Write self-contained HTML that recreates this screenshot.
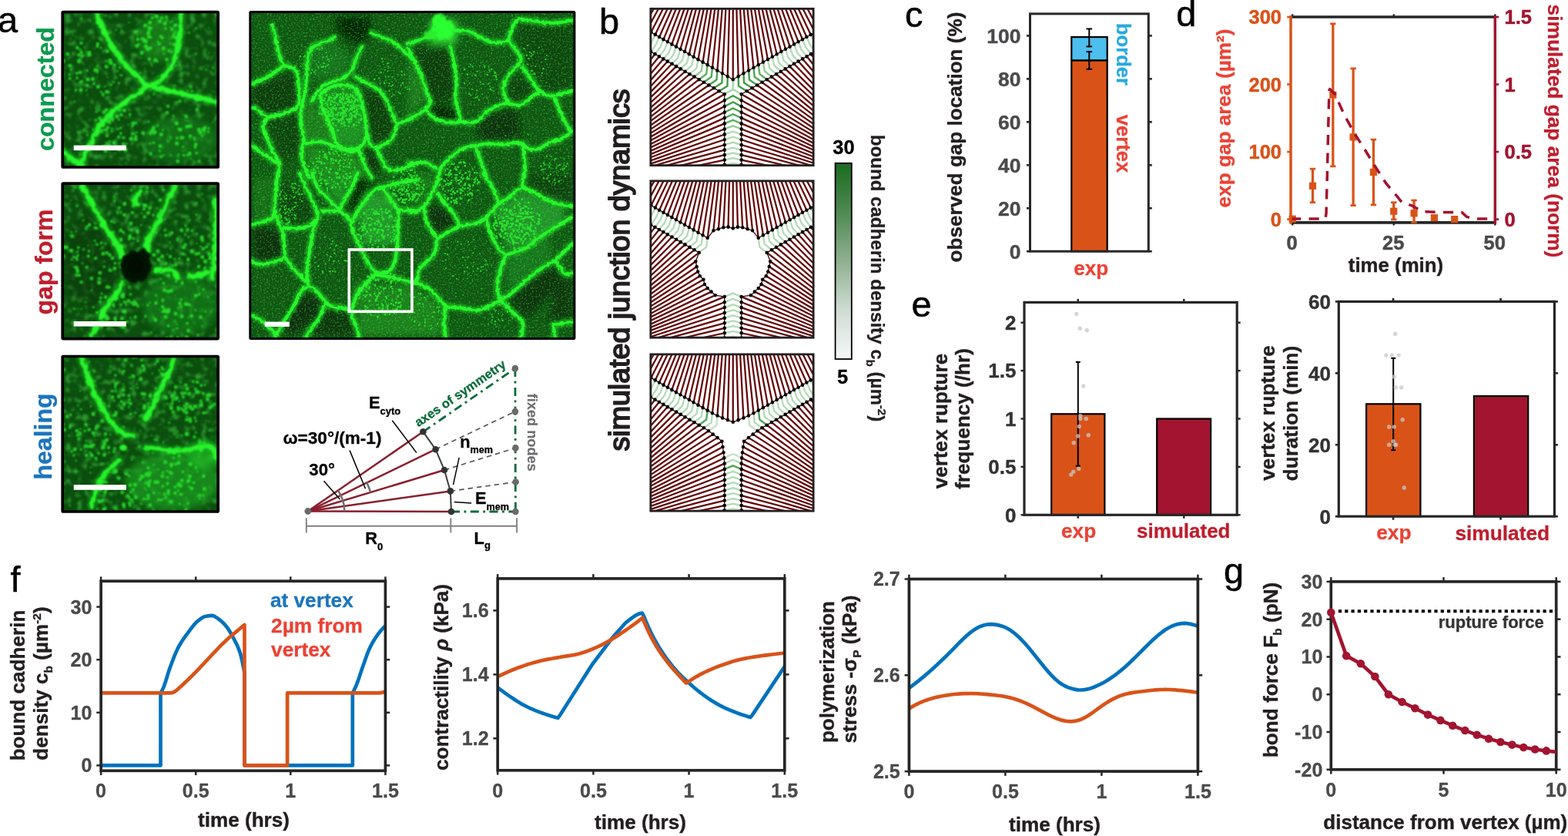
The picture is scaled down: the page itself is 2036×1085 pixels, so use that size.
<!DOCTYPE html>
<html lang="en"><head><meta charset="utf-8"><title>Figure</title>
<style>
html,body{margin:0;padding:0;background:#fff;}
body{width:2036px;height:1085px;overflow:hidden;}
svg{display:block;font-family:"Liberation Sans", Arial, Helvetica, sans-serif;}
svg text{font-family:"Liberation Sans",Arial,Helvetica,sans-serif;}
</style></head><body>
<svg width="2036" height="1085" viewBox="0 0 2036 1085">
<rect width="2036" height="1085" fill="#ffffff"/>
<rect x="1391.3" y="78.3" width="46.4" height="247.9" fill="#d95319" stroke="#000" stroke-width="2.2"/>
<rect x="1391.3" y="48.08" width="46.4" height="30.22" fill="#4dbeee" stroke="#000" stroke-width="2.2"/>
<line x1="1414.3" y1="89.77" x2="1414.3" y2="67.11" stroke="#000" stroke-width="2"/>
<line x1="1410.5" y1="89.77" x2="1418.1" y2="89.77" stroke="#000" stroke-width="2"/>
<line x1="1410.5" y1="67.11" x2="1418.1" y2="67.11" stroke="#000" stroke-width="2"/>
<line x1="1414.3" y1="60.39" x2="1414.3" y2="37.45" stroke="#000" stroke-width="2"/>
<line x1="1410.5" y1="60.39" x2="1418.1" y2="60.39" stroke="#000" stroke-width="2"/>
<line x1="1410.5" y1="37.45" x2="1418.1" y2="37.45" stroke="#000" stroke-width="2"/>
<rect x="1337.5" y="17.9" width="153.8" height="308.3" fill="none" stroke="#262626" stroke-width="3.0"/>
<line x1="1337.5" y1="326.2" x2="1333" y2="326.2" stroke="#262626" stroke-width="2.6"/>
<line x1="1491.3" y1="326.2" x2="1495.8" y2="326.2" stroke="#262626" stroke-width="2.6"/>
<line x1="1337.5" y1="270.24" x2="1333" y2="270.24" stroke="#262626" stroke-width="2.6"/>
<line x1="1491.3" y1="270.24" x2="1495.8" y2="270.24" stroke="#262626" stroke-width="2.6"/>
<line x1="1337.5" y1="214.28" x2="1333" y2="214.28" stroke="#262626" stroke-width="2.6"/>
<line x1="1491.3" y1="214.28" x2="1495.8" y2="214.28" stroke="#262626" stroke-width="2.6"/>
<line x1="1337.5" y1="158.32" x2="1333" y2="158.32" stroke="#262626" stroke-width="2.6"/>
<line x1="1491.3" y1="158.32" x2="1495.8" y2="158.32" stroke="#262626" stroke-width="2.6"/>
<line x1="1337.5" y1="102.36" x2="1333" y2="102.36" stroke="#262626" stroke-width="2.6"/>
<line x1="1491.3" y1="102.36" x2="1495.8" y2="102.36" stroke="#262626" stroke-width="2.6"/>
<line x1="1337.5" y1="46.4" x2="1333" y2="46.4" stroke="#262626" stroke-width="2.6"/>
<line x1="1491.3" y1="46.4" x2="1495.8" y2="46.4" stroke="#262626" stroke-width="2.6"/>
<text x="1325.5" y="335.69" font-size="26.5" font-weight="bold" fill="#4a4a4c" text-anchor="end" stroke="#4a4a4c" stroke-width="0.4">0</text>
<text x="1325.5" y="279.73" font-size="26.5" font-weight="bold" fill="#4a4a4c" text-anchor="end" stroke="#4a4a4c" stroke-width="0.4">20</text>
<text x="1325.5" y="223.77" font-size="26.5" font-weight="bold" fill="#4a4a4c" text-anchor="end" stroke="#4a4a4c" stroke-width="0.4">40</text>
<text x="1325.5" y="167.81" font-size="26.5" font-weight="bold" fill="#4a4a4c" text-anchor="end" stroke="#4a4a4c" stroke-width="0.4">60</text>
<text x="1325.5" y="111.85" font-size="26.5" font-weight="bold" fill="#4a4a4c" text-anchor="end" stroke="#4a4a4c" stroke-width="0.4">80</text>
<text x="1325.5" y="55.89" font-size="26.5" font-weight="bold" fill="#4a4a4c" text-anchor="end" stroke="#4a4a4c" stroke-width="0.4">100</text>
<text x="1249" y="178" font-size="26.1" font-weight="bold" fill="#231f20" text-anchor="middle" stroke="#231f20" stroke-width="0.4" transform="rotate(-90 1249 178)">observed gap location (%)</text>
<text x="1416.8" y="356.6" font-size="26.1" font-weight="bold" fill="#ea4335" text-anchor="middle" stroke="#ea4335" stroke-width="0.3">exp</text>
<text x="1449.5" y="70.5" font-size="25.6" font-weight="bold" fill="#27aae1" text-anchor="middle" stroke="#27aae1" stroke-width="0.3" transform="rotate(90 1449.5 70.5)">border</text>
<text x="1449.5" y="186.5" font-size="25.6" font-weight="bold" fill="#ea4335" text-anchor="middle" stroke="#ea4335" stroke-width="0.3" transform="rotate(90 1449.5 186.5)">vertex</text>
<line x1="1676" y1="22" x2="1941.3" y2="22" stroke="#262626" stroke-width="3.7"/>
<line x1="1676" y1="288.9" x2="1941.3" y2="288.9" stroke="#262626" stroke-width="3.7"/>
<line x1="1678.2" y1="288.9" x2="1678.2" y2="292.5" stroke="#262626" stroke-width="2.4"/>
<line x1="1678.2" y1="22" x2="1678.2" y2="18.4" stroke="#262626" stroke-width="2.4"/>
<line x1="1809.75" y1="288.9" x2="1809.75" y2="292.5" stroke="#262626" stroke-width="2.4"/>
<line x1="1809.75" y1="22" x2="1809.75" y2="18.4" stroke="#262626" stroke-width="2.4"/>
<line x1="1941.3" y1="288.9" x2="1941.3" y2="292.5" stroke="#262626" stroke-width="2.4"/>
<line x1="1941.3" y1="22" x2="1941.3" y2="18.4" stroke="#262626" stroke-width="2.4"/>
<rect x="1673.6" y="279.56" width="9.2" height="9.2" fill="#d95319"/>
<line x1="1704.51" y1="262.72" x2="1704.51" y2="219.13" stroke="#d95319" stroke-width="3.3"/>
<line x1="1700.81" y1="262.72" x2="1708.21" y2="262.72" stroke="#d95319" stroke-width="2.7"/>
<line x1="1700.81" y1="219.13" x2="1708.21" y2="219.13" stroke="#d95319" stroke-width="2.7"/>
<rect x="1699.91" y="236.67" width="9.2" height="9.2" fill="#d95319"/>
<line x1="1730.82" y1="215.89" x2="1730.82" y2="30.85" stroke="#d95319" stroke-width="3.3"/>
<line x1="1727.12" y1="215.89" x2="1734.52" y2="215.89" stroke="#d95319" stroke-width="2.7"/>
<line x1="1727.12" y1="30.85" x2="1734.52" y2="30.85" stroke="#d95319" stroke-width="2.7"/>
<rect x="1726.22" y="118.51" width="9.2" height="9.2" fill="#d95319"/>
<line x1="1757.13" y1="266.66" x2="1757.13" y2="88.88" stroke="#d95319" stroke-width="3.3"/>
<line x1="1753.43" y1="266.66" x2="1760.83" y2="266.66" stroke="#d95319" stroke-width="2.7"/>
<line x1="1753.43" y1="88.88" x2="1760.83" y2="88.88" stroke="#d95319" stroke-width="2.7"/>
<rect x="1752.53" y="173.3" width="9.2" height="9.2" fill="#d95319"/>
<line x1="1783.44" y1="265.87" x2="1783.44" y2="181.14" stroke="#d95319" stroke-width="3.3"/>
<line x1="1779.74" y1="265.87" x2="1787.14" y2="265.87" stroke="#d95319" stroke-width="2.7"/>
<line x1="1779.74" y1="181.14" x2="1787.14" y2="181.14" stroke="#d95319" stroke-width="2.7"/>
<rect x="1778.84" y="218.82" width="9.2" height="9.2" fill="#d95319"/>
<line x1="1809.75" y1="284.86" x2="1809.75" y2="262.72" stroke="#d95319" stroke-width="3.3"/>
<line x1="1806.05" y1="284.86" x2="1813.45" y2="284.86" stroke="#d95319" stroke-width="2.7"/>
<line x1="1806.05" y1="262.72" x2="1813.45" y2="262.72" stroke="#d95319" stroke-width="2.7"/>
<rect x="1805.15" y="269.58" width="9.2" height="9.2" fill="#d95319"/>
<line x1="1836.06" y1="288.54" x2="1836.06" y2="260" stroke="#d95319" stroke-width="3.3"/>
<line x1="1832.36" y1="288.54" x2="1839.76" y2="288.54" stroke="#d95319" stroke-width="2.7"/>
<line x1="1832.36" y1="260" x2="1839.76" y2="260" stroke="#d95319" stroke-width="2.7"/>
<rect x="1831.46" y="272.21" width="9.2" height="9.2" fill="#d95319"/>
<rect x="1857.77" y="278.07" width="9.2" height="9.2" fill="#d95319"/>
<rect x="1884.08" y="280" width="9.2" height="9.2" fill="#d95319"/>
<polyline points="1676.1,284.07 1714.82,284.07 1720.82,283.81 1722.03,277.42 1723.45,223.33 1724.77,162.06 1726.03,116.98 1726.82,115.67 1733.45,122.32 1745.55,149.02 1758.71,173.09 1772.39,194.44 1785.54,215.89 1799.23,237.25 1813.96,254.66 1820.27,262.63 1833.96,267.18 1847.11,274.71 1873.95,275.5 1898.15,275.5 1904.47,281.36 1913.94,284.07 1941.3,284.07" fill="none" stroke="#a2142f" stroke-width="3.5" stroke-dasharray="13.2 10.2" stroke-linejoin="round"/>
<line x1="1676" y1="20.2" x2="1676" y2="290.7" stroke="#d95319" stroke-width="3.5"/>
<line x1="1941.3" y1="20.2" x2="1941.3" y2="290.7" stroke="#a2142f" stroke-width="3.5"/>
<line x1="1676" y1="284.6" x2="1671.2" y2="284.6" stroke="#d95319" stroke-width="2.6"/>
<line x1="1676" y1="197.07" x2="1671.2" y2="197.07" stroke="#d95319" stroke-width="2.6"/>
<line x1="1676" y1="109.54" x2="1671.2" y2="109.54" stroke="#d95319" stroke-width="2.6"/>
<line x1="1676" y1="22.01" x2="1671.2" y2="22.01" stroke="#d95319" stroke-width="2.6"/>
<line x1="1941.3" y1="284.6" x2="1946.2" y2="284.6" stroke="#a2142f" stroke-width="2.6"/>
<text x="1953.5" y="293.9" font-size="25.5" font-weight="bold" fill="#a2142f" text-anchor="start" stroke="#a2142f" stroke-width="0.5">0</text>
<line x1="1941.3" y1="197.07" x2="1946.2" y2="197.07" stroke="#a2142f" stroke-width="2.6"/>
<text x="1953.5" y="206.37" font-size="25.5" font-weight="bold" fill="#a2142f" text-anchor="start" stroke="#a2142f" stroke-width="0.5">0.5</text>
<line x1="1941.3" y1="109.54" x2="1946.2" y2="109.54" stroke="#a2142f" stroke-width="2.6"/>
<text x="1953.5" y="118.84" font-size="25.5" font-weight="bold" fill="#a2142f" text-anchor="start" stroke="#a2142f" stroke-width="0.5">1</text>
<line x1="1941.3" y1="22.01" x2="1946.2" y2="22.01" stroke="#a2142f" stroke-width="2.6"/>
<text x="1953.5" y="31.31" font-size="25.5" font-weight="bold" fill="#a2142f" text-anchor="start" stroke="#a2142f" stroke-width="0.5">1.5</text>
<text x="1664" y="293.73" font-size="25.5" font-weight="bold" fill="#d95319" text-anchor="end" stroke="#d95319" stroke-width="0.5">0</text>
<text x="1664" y="206.2" font-size="25.5" font-weight="bold" fill="#d95319" text-anchor="end" stroke="#d95319" stroke-width="0.5">100</text>
<text x="1664" y="118.67" font-size="25.5" font-weight="bold" fill="#d95319" text-anchor="end" stroke="#d95319" stroke-width="0.5">200</text>
<text x="1664" y="31.14" font-size="25.5" font-weight="bold" fill="#d95319" text-anchor="end" stroke="#d95319" stroke-width="0.5">300</text>
<text x="1677.7" y="324.2" font-size="25.5" font-weight="bold" fill="#4a4a4c" text-anchor="middle" stroke="#4a4a4c" stroke-width="0.5">0</text>
<text x="1809.25" y="324.2" font-size="25.5" font-weight="bold" fill="#4a4a4c" text-anchor="middle" stroke="#4a4a4c" stroke-width="0.5">25</text>
<text x="1940.8" y="324.2" font-size="25.5" font-weight="bold" fill="#4a4a4c" text-anchor="middle" stroke="#4a4a4c" stroke-width="0.5">50</text>
<text x="1812.5" y="353" font-size="25.8" font-weight="bold" fill="#231f20" text-anchor="middle" stroke="#231f20" stroke-width="0.4">time (min)</text>
<text x="1597.5" y="153.5" font-size="26.2" font-weight="bold" fill="#ea4335" text-anchor="middle" stroke="#ea4335" stroke-width="0.3" transform="rotate(-90 1597.5 153.5)">exp gap area (µm²)</text>
<text x="2009.5" y="170" font-size="26.3" font-weight="bold" fill="#be1e2d" text-anchor="middle" stroke="#be1e2d" stroke-width="0.3" transform="rotate(90 2009.5 170)">simulated gap area (norm)</text>
<rect x="1365.2" y="537.26" width="69.2" height="131.04" fill="#d95319" stroke="#000" stroke-width="2.2"/>
<rect x="1502.2" y="543.5" width="69.9" height="124.8" fill="#a2142f" stroke="#000" stroke-width="2.2"/>
<line x1="1399.8" y1="604.65" x2="1399.8" y2="469.87" stroke="#000" stroke-width="2"/>
<line x1="1396.8" y1="604.65" x2="1402.8" y2="604.65" stroke="#000" stroke-width="2"/>
<line x1="1396.8" y1="469.87" x2="1402.8" y2="469.87" stroke="#000" stroke-width="2"/>
<circle cx="1397.8" cy="407.47" r="2.7" fill="#c8c8c8" fill-opacity="0.75"/>
<circle cx="1402.3" cy="426.19" r="2.7" fill="#c8c8c8" fill-opacity="0.75"/>
<circle cx="1411.3" cy="428.68" r="2.7" fill="#c8c8c8" fill-opacity="0.75"/>
<circle cx="1406.8" cy="501.07" r="2.7" fill="#c8c8c8" fill-opacity="0.75"/>
<circle cx="1402.8" cy="539.76" r="2.7" fill="#c8c8c8" fill-opacity="0.75"/>
<circle cx="1402.8" cy="543.5" r="2.7" fill="#c8c8c8" fill-opacity="0.75"/>
<circle cx="1410.3" cy="543.5" r="2.7" fill="#c8c8c8" fill-opacity="0.75"/>
<circle cx="1401.3" cy="553.48" r="2.7" fill="#c8c8c8" fill-opacity="0.75"/>
<circle cx="1413.3" cy="564.72" r="2.7" fill="#c8c8c8" fill-opacity="0.75"/>
<circle cx="1399.8" cy="565.96" r="2.7" fill="#c8c8c8" fill-opacity="0.75"/>
<circle cx="1394.3" cy="574.7" r="2.7" fill="#c8c8c8" fill-opacity="0.75"/>
<circle cx="1400.8" cy="608.4" r="2.7" fill="#c8c8c8" fill-opacity="0.75"/>
<circle cx="1393.8" cy="612.14" r="2.7" fill="#c8c8c8" fill-opacity="0.75"/>
<circle cx="1390.8" cy="615.88" r="2.7" fill="#c8c8c8" fill-opacity="0.75"/>
<rect x="1330" y="392.4" width="276.2" height="275.9" fill="none" stroke="#262626" stroke-width="3.2"/>
<line x1="1330" y1="668.3" x2="1325.5" y2="668.3" stroke="#262626" stroke-width="2.4"/>
<line x1="1606.2" y1="668.3" x2="1610.7" y2="668.3" stroke="#262626" stroke-width="2.4"/>
<line x1="1330" y1="605.9" x2="1325.5" y2="605.9" stroke="#262626" stroke-width="2.4"/>
<line x1="1606.2" y1="605.9" x2="1610.7" y2="605.9" stroke="#262626" stroke-width="2.4"/>
<line x1="1330" y1="543.5" x2="1325.5" y2="543.5" stroke="#262626" stroke-width="2.4"/>
<line x1="1606.2" y1="543.5" x2="1610.7" y2="543.5" stroke="#262626" stroke-width="2.4"/>
<line x1="1330" y1="481.1" x2="1325.5" y2="481.1" stroke="#262626" stroke-width="2.4"/>
<line x1="1606.2" y1="481.1" x2="1610.7" y2="481.1" stroke="#262626" stroke-width="2.4"/>
<line x1="1330" y1="418.7" x2="1325.5" y2="418.7" stroke="#262626" stroke-width="2.4"/>
<line x1="1606.2" y1="418.7" x2="1610.7" y2="418.7" stroke="#262626" stroke-width="2.4"/>
<line x1="1399.74" y1="668.3" x2="1399.74" y2="672.8" stroke="#262626" stroke-width="2.4"/>
<line x1="1399.74" y1="392.4" x2="1399.74" y2="387.9" stroke="#262626" stroke-width="2.4"/>
<line x1="1537.29" y1="668.3" x2="1537.29" y2="672.8" stroke="#262626" stroke-width="2.4"/>
<line x1="1537.29" y1="392.4" x2="1537.29" y2="387.9" stroke="#262626" stroke-width="2.4"/>
<text x="1319.4" y="677.61" font-size="26" font-weight="bold" fill="#333333" text-anchor="end" stroke="#333333" stroke-width="0.4">0</text>
<text x="1319.4" y="615.21" font-size="26" font-weight="bold" fill="#333333" text-anchor="end" stroke="#333333" stroke-width="0.4">0.5</text>
<text x="1319.4" y="552.81" font-size="26" font-weight="bold" fill="#333333" text-anchor="end" stroke="#333333" stroke-width="0.4">1</text>
<text x="1319.4" y="490.41" font-size="26" font-weight="bold" fill="#333333" text-anchor="end" stroke="#333333" stroke-width="0.4">1.5</text>
<text x="1319.4" y="428.01" font-size="26" font-weight="bold" fill="#333333" text-anchor="end" stroke="#333333" stroke-width="0.4">2</text>
<text x="1400.6" y="698" font-size="26.2" font-weight="bold" fill="#ea4335" text-anchor="middle" stroke="#ea4335" stroke-width="0.3">exp</text>
<text x="1536.8" y="698.2" font-size="26" font-weight="bold" fill="#be1e2d" text-anchor="middle" stroke="#be1e2d" stroke-width="0.3">simulated</text>
<text x="1229.5" y="546.5" font-size="26.1" font-weight="bold" fill="#231f20" text-anchor="middle" stroke="#231f20" stroke-width="0.4" transform="rotate(-90 1229.5 546.5)">vertex rupture</text>
<text x="1258.5" y="543.5" font-size="26.1" font-weight="bold" fill="#231f20" text-anchor="middle" stroke="#231f20" stroke-width="0.4" transform="rotate(-90 1258.5 543.5)">frequency (/hr)</text>
<rect x="1774.1" y="524.29" width="70.3" height="145.91" fill="#d95319" stroke="#000" stroke-width="2.2"/>
<rect x="1913.9" y="514.07" width="70.3" height="156.13" fill="#a2142f" stroke="#000" stroke-width="2.2"/>
<line x1="1809.2" y1="584.24" x2="1809.2" y2="464.82" stroke="#000" stroke-width="2"/>
<line x1="1806.2" y1="584.24" x2="1812.2" y2="584.24" stroke="#000" stroke-width="2"/>
<line x1="1806.2" y1="464.82" x2="1812.2" y2="464.82" stroke="#000" stroke-width="2"/>
<circle cx="1811.7" cy="433.22" r="2.7" fill="#c8c8c8" fill-opacity="0.75"/>
<circle cx="1799.7" cy="461.1" r="2.7" fill="#c8c8c8" fill-opacity="0.75"/>
<circle cx="1807.2" cy="461.1" r="2.7" fill="#c8c8c8" fill-opacity="0.75"/>
<circle cx="1816.2" cy="461.1" r="2.7" fill="#c8c8c8" fill-opacity="0.75"/>
<circle cx="1810.2" cy="488.98" r="2.7" fill="#c8c8c8" fill-opacity="0.75"/>
<circle cx="1812.2" cy="502.92" r="2.7" fill="#c8c8c8" fill-opacity="0.75"/>
<circle cx="1819.7" cy="502.92" r="2.7" fill="#c8c8c8" fill-opacity="0.75"/>
<circle cx="1821.2" cy="544.74" r="2.7" fill="#c8c8c8" fill-opacity="0.75"/>
<circle cx="1803.7" cy="554.03" r="2.7" fill="#c8c8c8" fill-opacity="0.75"/>
<circle cx="1810.2" cy="554.03" r="2.7" fill="#c8c8c8" fill-opacity="0.75"/>
<circle cx="1809.2" cy="572.62" r="2.7" fill="#c8c8c8" fill-opacity="0.75"/>
<circle cx="1803.7" cy="577.27" r="2.7" fill="#c8c8c8" fill-opacity="0.75"/>
<circle cx="1811.2" cy="577.27" r="2.7" fill="#c8c8c8" fill-opacity="0.75"/>
<circle cx="1812.7" cy="577.27" r="2.7" fill="#c8c8c8" fill-opacity="0.75"/>
<circle cx="1823.2" cy="633.03" r="2.7" fill="#c8c8c8" fill-opacity="0.75"/>
<rect x="1738.3" y="391.4" width="280.1" height="278.8" fill="none" stroke="#262626" stroke-width="3.2"/>
<line x1="1738.3" y1="670.2" x2="1733.8" y2="670.2" stroke="#262626" stroke-width="2.6"/>
<line x1="2018.4" y1="670.2" x2="2022.9" y2="670.2" stroke="#262626" stroke-width="2.6"/>
<line x1="1738.3" y1="577.27" x2="1733.8" y2="577.27" stroke="#262626" stroke-width="2.6"/>
<line x1="2018.4" y1="577.27" x2="2022.9" y2="577.27" stroke="#262626" stroke-width="2.6"/>
<line x1="1738.3" y1="484.33" x2="1733.8" y2="484.33" stroke="#262626" stroke-width="2.6"/>
<line x1="2018.4" y1="484.33" x2="2022.9" y2="484.33" stroke="#262626" stroke-width="2.6"/>
<line x1="1738.3" y1="391.4" x2="1733.8" y2="391.4" stroke="#262626" stroke-width="2.6"/>
<line x1="2018.4" y1="391.4" x2="2022.9" y2="391.4" stroke="#262626" stroke-width="2.6"/>
<line x1="1809.03" y1="670.2" x2="1809.03" y2="674.7" stroke="#262626" stroke-width="2.6"/>
<line x1="1809.03" y1="391.4" x2="1809.03" y2="386.9" stroke="#262626" stroke-width="2.6"/>
<line x1="1948.52" y1="670.2" x2="1948.52" y2="674.7" stroke="#262626" stroke-width="2.6"/>
<line x1="1948.52" y1="391.4" x2="1948.52" y2="386.9" stroke="#262626" stroke-width="2.6"/>
<text x="1727.9" y="679.51" font-size="26" font-weight="bold" fill="#333333" text-anchor="end" stroke="#333333" stroke-width="0.4">0</text>
<text x="1727.9" y="586.57" font-size="26" font-weight="bold" fill="#333333" text-anchor="end" stroke="#333333" stroke-width="0.4">20</text>
<text x="1727.9" y="493.64" font-size="26" font-weight="bold" fill="#333333" text-anchor="end" stroke="#333333" stroke-width="0.4">40</text>
<text x="1727.9" y="400.71" font-size="26" font-weight="bold" fill="#333333" text-anchor="end" stroke="#333333" stroke-width="0.4">60</text>
<text x="1809.8" y="700" font-size="26.3" font-weight="bold" fill="#ea4335" text-anchor="middle" stroke="#ea4335" stroke-width="0.3">exp</text>
<text x="1950.8" y="701.4" font-size="26.3" font-weight="bold" fill="#be1e2d" text-anchor="middle" stroke="#be1e2d" stroke-width="0.3">simulated</text>
<text x="1654.5" y="536" font-size="26.1" font-weight="bold" fill="#231f20" text-anchor="middle" stroke="#231f20" stroke-width="0.4" transform="rotate(-90 1654.5 536)">vertex rupture</text>
<text x="1685" y="536.5" font-size="26.1" font-weight="bold" fill="#231f20" text-anchor="middle" stroke="#231f20" stroke-width="0.4" transform="rotate(-90 1685 536.5)">duration (min)</text>
<clipPath id="cf1"><rect x="131.8" y="754.2" width="368.7" height="246.3"/></clipPath>
<g clip-path="url(#cf1)"><polyline points="131.1,993.4 208.53,993.4 208.53,899.42 210.73,895.58 212.94,890.61 215.14,884.17 217.34,876.97 219.55,869.89 221.75,863.7 223.95,857.85 226.16,852.21 228.36,846.92 230.56,842.14 232.77,837.97 234.97,834.22 237.17,830.77 239.38,827.56 241.58,824.51 243.78,821.57 245.98,818.66 248.19,815.71 250.39,812.84 252.59,810.16 254.8,807.79 257,805.85 259.2,804.1 261.41,802.48 263.61,801.13 265.81,800.19 268.02,799.7 270.22,799.33 272.42,799.05 274.63,798.92 276.83,799.19 279.03,800.2 281.24,801.63 283.44,803.17 285.64,804.74 287.85,806.58 290.05,808.68 292.25,811.04 294.46,813.68 296.66,816.84 298.86,820.44 301.07,824.35 303.27,828.44 305.47,832.56 307.68,836.91 309.88,841.97 312.08,848.24 314.29,857.08 316.49,867.86 317.47,873.35 317.47,993.4 457.81,993.4 457.81,899.42 459.58,896.05 461.36,892.3 463.13,888.15 464.91,883.4 466.68,878.18 468.46,872.8 470.23,867.56 472,862.58 473.78,857.5 475.55,852.44 477.33,847.61 479.1,843.2 480.88,839.39 482.65,836.03 484.43,832.89 486.2,829.96 487.98,827.22 489.75,824.65 491.53,822.23 493.3,819.94 495.08,817.77 496.85,815.78 498.63,813.96 500.4,812.3" fill="none" stroke="#0072bd" stroke-width="4.7" stroke-linejoin="round"/><polyline points="131.1,899.42 220.96,899.42 222.93,899.18 224.9,898.65 226.87,897.57 228.84,896.15 230.81,894.56 232.78,892.77 234.75,890.96 236.72,889.17 238.69,887.35 240.66,885.5 242.63,883.62 244.6,881.72 246.57,879.79 248.54,877.84 250.51,875.86 252.48,873.85 254.45,871.84 256.42,869.8 258.39,867.76 260.36,865.71 262.32,863.66 264.29,861.58 266.26,859.48 268.23,857.36 270.2,855.23 272.17,853.11 274.14,851 276.11,848.91 278.08,846.85 280.05,844.81 282.02,842.77 283.99,840.73 285.96,838.7 287.93,836.7 289.9,834.74 291.87,832.81 293.84,830.93 295.81,829.12 297.78,827.36 299.75,825.66 301.72,824 303.69,822.36 305.66,820.72 307.63,819.09 309.59,817.44 311.56,815.8 313.53,814.16 315.5,812.54 317.47,810.92 317.47,993.4 373.11,993.4 373.11,899.42 493.01,899.42 497.94,898.39 500.4,897.36" fill="none" stroke="#d95319" stroke-width="4.7" stroke-linejoin="round"/></g>
<rect x="131.1" y="754.2" width="369.3" height="246.1" fill="none" stroke="#262626" stroke-width="3.7"/>
<line x1="131.1" y1="993.4" x2="125.3" y2="993.4" stroke="#262626" stroke-width="2.5"/>
<line x1="500.4" y1="993.4" x2="506.2" y2="993.4" stroke="#262626" stroke-width="2.5"/>
<line x1="131.1" y1="924.8" x2="125.3" y2="924.8" stroke="#262626" stroke-width="2.5"/>
<line x1="500.4" y1="924.8" x2="506.2" y2="924.8" stroke="#262626" stroke-width="2.5"/>
<line x1="131.1" y1="856.2" x2="125.3" y2="856.2" stroke="#262626" stroke-width="2.5"/>
<line x1="500.4" y1="856.2" x2="506.2" y2="856.2" stroke="#262626" stroke-width="2.5"/>
<line x1="131.1" y1="787.6" x2="125.3" y2="787.6" stroke="#262626" stroke-width="2.5"/>
<line x1="500.4" y1="787.6" x2="506.2" y2="787.6" stroke="#262626" stroke-width="2.5"/>
<line x1="131.1" y1="1000.3" x2="131.1" y2="1006.1" stroke="#262626" stroke-width="2.5"/>
<line x1="131.1" y1="754.2" x2="131.1" y2="748.4" stroke="#262626" stroke-width="2.5"/>
<line x1="254.2" y1="1000.3" x2="254.2" y2="1006.1" stroke="#262626" stroke-width="2.5"/>
<line x1="254.2" y1="754.2" x2="254.2" y2="748.4" stroke="#262626" stroke-width="2.5"/>
<line x1="377.3" y1="1000.3" x2="377.3" y2="1006.1" stroke="#262626" stroke-width="2.5"/>
<line x1="377.3" y1="754.2" x2="377.3" y2="748.4" stroke="#262626" stroke-width="2.5"/>
<line x1="500.4" y1="1000.3" x2="500.4" y2="1006.1" stroke="#262626" stroke-width="2.5"/>
<line x1="500.4" y1="754.2" x2="500.4" y2="748.4" stroke="#262626" stroke-width="2.5"/>
<text x="119.5" y="1002.39" font-size="25.1" font-weight="bold" fill="#4a4a4c" text-anchor="end" stroke="#4a4a4c" stroke-width="0.3">0</text>
<text x="119.5" y="933.79" font-size="25.1" font-weight="bold" fill="#4a4a4c" text-anchor="end" stroke="#4a4a4c" stroke-width="0.3">10</text>
<text x="119.5" y="865.19" font-size="25.1" font-weight="bold" fill="#4a4a4c" text-anchor="end" stroke="#4a4a4c" stroke-width="0.3">20</text>
<text x="119.5" y="796.59" font-size="25.1" font-weight="bold" fill="#4a4a4c" text-anchor="end" stroke="#4a4a4c" stroke-width="0.3">30</text>
<text x="131.1" y="1034.5" font-size="25.1" font-weight="bold" fill="#4a4a4c" text-anchor="middle" stroke="#4a4a4c" stroke-width="0.3">0</text>
<text x="254.2" y="1034.5" font-size="25.1" font-weight="bold" fill="#4a4a4c" text-anchor="middle" stroke="#4a4a4c" stroke-width="0.3">0.5</text>
<text x="377.3" y="1034.5" font-size="25.1" font-weight="bold" fill="#4a4a4c" text-anchor="middle" stroke="#4a4a4c" stroke-width="0.3">1</text>
<text x="500.4" y="1034.5" font-size="25.1" font-weight="bold" fill="#4a4a4c" text-anchor="middle" stroke="#4a4a4c" stroke-width="0.3">1.5</text>
<text x="316.5" y="1073" font-size="26.1" font-weight="bold" fill="#231f20" text-anchor="middle" stroke="#231f20" stroke-width="0.4">time (hrs)</text>
<text x="31.5" y="889.5" font-size="26.1" font-weight="bold" fill="#231f20" text-anchor="middle" stroke="#231f20" stroke-width="0.4" transform="rotate(-90 31.5 889.5)">bound cadherin</text>
<text x="62" y="887" font-size="26.1" font-weight="bold" fill="#231f20" text-anchor="middle" stroke="#231f20" stroke-width="0.4" transform="rotate(-90 62 887)">density c<tspan font-size="15.5" dy="5.5">b</tspan><tspan dy="-5.5"> (µm</tspan><tspan font-size="15.5" dy="-9">-2</tspan><tspan dy="9">)</tspan></text>
<text x="351" y="788" font-size="26.2" font-weight="bold" fill="#1c75bc" text-anchor="start" stroke="#1c75bc" stroke-width="0.3">at vertex</text>
<text x="352" y="820.5" font-size="26.3" font-weight="bold" fill="#ea4335" text-anchor="start" stroke="#ea4335" stroke-width="0.3">2µm from</text>
<text x="352" y="852" font-size="26.3" font-weight="bold" fill="#ea4335" text-anchor="start" stroke="#ea4335" stroke-width="0.3">vertex</text>
<clipPath id="cf2"><rect x="646.2" y="750.9" width="372.6" height="248.9"/></clipPath>
<g clip-path="url(#cf2)"><polyline points="646.2,892.36 649.46,894.82 652.72,897.23 655.98,899.58 659.24,901.87 662.5,904.09 665.76,906.31 669.02,908.5 672.28,910.61 675.54,912.61 678.8,914.45 682.06,916.14 685.32,917.74 688.58,919.26 691.84,920.7 695.1,922.07 698.36,923.36 701.62,924.59 704.88,925.77 708.14,926.9 711.4,927.99 714.67,929.03 717.93,930 721.19,930.92 724.45,931.77 726.93,928.45 768.91,862.49 795.24,827.64 812.13,808.56 812.13,808.56 814.53,806.57 816.93,804.67 819.33,802.88 821.74,801.15 824.14,799.47 826.54,798.03 828.94,796.9 831.34,796.1 833.74,795.7 835.48,798.61 839.05,807.22 842.61,815.34 846.18,822.86 849.75,829.68 853.31,835.98 856.88,841.85 860.45,847.36 864.01,852.55 867.58,857.45 871.15,862.06 874.72,866.39 878.28,870.48 881.85,874.31 885.42,877.88 888.98,881.26 892.55,884.54 896.12,887.77 899.68,890.93 903.25,894 906.82,896.94 910.38,899.72 913.95,902.34 917.52,904.87 921.08,907.32 924.65,909.66 928.22,911.87 931.78,913.94 935.35,915.85 938.92,917.63 942.48,919.31 946.05,920.89 949.62,922.38 953.18,923.8 956.75,925.15 960.32,926.44 963.88,927.67 967.45,928.83 971.02,929.92 974.58,930.94 977.07,927.62 1018.8,864.98" fill="none" stroke="#0072bd" stroke-width="4.7" stroke-linejoin="round"/><polyline points="646.2,878.25 650.04,876.37 653.88,874.54 657.71,872.78 661.55,871.09 665.39,869.49 669.23,867.96 673.06,866.54 676.9,865.17 680.74,863.85 684.58,862.58 688.41,861.37 692.25,860.22 696.09,859.14 699.93,858.15 703.76,857.24 707.6,856.42 711.44,855.66 715.28,854.95 719.11,854.27 722.95,853.61 726.79,852.95 730.63,852.28 734.46,851.68 738.3,851.11 742.14,850.52 745.98,849.85 749.81,849.04 753.65,848.03 757.49,846.84 761.33,845.49 765.16,844.05 769,842.54 772.84,840.93 776.68,839.18 780.51,837.29 784.35,835.31 788.19,833.23 792.03,831.09 795.86,828.85 799.7,826.46 803.54,823.95 807.38,821.36 811.21,818.73 815.05,816.08 818.89,813.37 822.73,810.6 826.56,807.77 830.4,804.87 834.24,801.92 834.24,801.92 837.23,809.03 840.23,815.8 843.22,822.19 846.21,828.15 849.21,833.61 852.2,838.67 855.2,843.41 858.19,847.88 861.18,852.12 864.18,856.17 867.17,860.06 870.17,863.72 873.16,867.21 876.15,870.59 879.15,873.91 882.14,877.2 885.13,880.4 888.13,883.52 891.12,886.55 891.12,886.55 895.53,883.58 899.93,880.75 904.33,878.09 908.73,875.62 913.14,873.36 917.54,871.25 921.94,869.28 926.34,867.42 930.75,865.68 935.15,864.04 939.55,862.46 943.95,860.92 948.36,859.46 952.76,858.1 957.16,856.88 961.57,855.82 965.97,854.9 970.37,854.06 974.77,853.3 979.18,852.59 983.58,851.93 987.98,851.29 992.38,850.67 996.79,850.08 1001.19,849.51 1005.59,848.97 1009.99,848.46 1014.4,847.99 1018.8,847.56" fill="none" stroke="#d95319" stroke-width="4.7" stroke-linejoin="round"/></g>
<rect x="646.2" y="750.9" width="372.6" height="248.9" fill="none" stroke="#262626" stroke-width="3.7"/>
<line x1="646.2" y1="958.32" x2="640.4" y2="958.32" stroke="#262626" stroke-width="2.5"/>
<line x1="1018.8" y1="958.32" x2="1024.6" y2="958.32" stroke="#262626" stroke-width="2.5"/>
<line x1="646.2" y1="875.35" x2="640.4" y2="875.35" stroke="#262626" stroke-width="2.5"/>
<line x1="1018.8" y1="875.35" x2="1024.6" y2="875.35" stroke="#262626" stroke-width="2.5"/>
<line x1="646.2" y1="792.38" x2="640.4" y2="792.38" stroke="#262626" stroke-width="2.5"/>
<line x1="1018.8" y1="792.38" x2="1024.6" y2="792.38" stroke="#262626" stroke-width="2.5"/>
<line x1="646.2" y1="999.8" x2="646.2" y2="1005.6" stroke="#262626" stroke-width="2.5"/>
<line x1="646.2" y1="750.9" x2="646.2" y2="745.1" stroke="#262626" stroke-width="2.5"/>
<line x1="770.4" y1="999.8" x2="770.4" y2="1005.6" stroke="#262626" stroke-width="2.5"/>
<line x1="770.4" y1="750.9" x2="770.4" y2="745.1" stroke="#262626" stroke-width="2.5"/>
<line x1="894.6" y1="999.8" x2="894.6" y2="1005.6" stroke="#262626" stroke-width="2.5"/>
<line x1="894.6" y1="750.9" x2="894.6" y2="745.1" stroke="#262626" stroke-width="2.5"/>
<line x1="1018.8" y1="999.8" x2="1018.8" y2="1005.6" stroke="#262626" stroke-width="2.5"/>
<line x1="1018.8" y1="750.9" x2="1018.8" y2="745.1" stroke="#262626" stroke-width="2.5"/>
<text x="634.6" y="967.3" font-size="25.1" font-weight="bold" fill="#4a4a4c" text-anchor="end" stroke="#4a4a4c" stroke-width="0.3">1.2</text>
<text x="634.6" y="884.34" font-size="25.1" font-weight="bold" fill="#4a4a4c" text-anchor="end" stroke="#4a4a4c" stroke-width="0.3">1.4</text>
<text x="634.6" y="801.37" font-size="25.1" font-weight="bold" fill="#4a4a4c" text-anchor="end" stroke="#4a4a4c" stroke-width="0.3">1.6</text>
<text x="646.2" y="1034.7" font-size="25.1" font-weight="bold" fill="#4a4a4c" text-anchor="middle" stroke="#4a4a4c" stroke-width="0.3">0</text>
<text x="770.4" y="1034.7" font-size="25.1" font-weight="bold" fill="#4a4a4c" text-anchor="middle" stroke="#4a4a4c" stroke-width="0.3">0.5</text>
<text x="894.6" y="1034.7" font-size="25.1" font-weight="bold" fill="#4a4a4c" text-anchor="middle" stroke="#4a4a4c" stroke-width="0.3">1</text>
<text x="1018.8" y="1034.7" font-size="25.1" font-weight="bold" fill="#4a4a4c" text-anchor="middle" stroke="#4a4a4c" stroke-width="0.3">1.5</text>
<text x="831.5" y="1076" font-size="26.1" font-weight="bold" fill="#231f20" text-anchor="middle" stroke="#231f20" stroke-width="0.4">time (hrs)</text>
<text x="582" y="879" font-size="26.1" font-weight="bold" fill="#231f20" text-anchor="middle" stroke="#231f20" stroke-width="0.4" transform="rotate(-90 582 879)">contractility <tspan font-style="italic">ρ</tspan> (kPa)</text>
<clipPath id="cf3"><rect x="1180.4" y="751.5" width="375" height="249.6"/></clipPath>
<g clip-path="url(#cf3)"><polyline points="1180.4,892.9 1184.61,889.81 1188.83,886.61 1193.04,883.3 1197.25,879.89 1201.47,876.37 1205.68,872.75 1209.89,869.03 1214.11,865.22 1218.32,861.31 1222.53,857.32 1226.75,853.24 1230.96,849.08 1235.18,844.84 1239.39,840.53 1243.6,836.21 1247.82,831.98 1252.03,827.91 1256.24,824.09 1260.46,820.6 1264.67,817.54 1268.88,814.97 1273.1,812.94 1277.31,811.46 1281.52,810.53 1285.74,810.15 1289.95,810.32 1294.16,810.91 1298.38,811.84 1302.59,813.14 1306.8,814.94 1311.02,817.32 1315.23,820.24 1319.44,823.66 1323.66,827.52 1327.87,831.79 1332.09,836.41 1336.3,841.32 1340.51,846.44 1344.73,851.69 1348.94,856.99 1353.15,862.26 1357.37,867.42 1361.58,872.37 1365.79,876.99 1370.01,881.17 1374.22,884.81 1378.43,887.83 1382.65,890.23 1386.86,892.11 1391.07,893.56 1395.29,894.64 1399.5,895.32 1403.71,895.52 1407.93,895.19 1412.14,894.4 1416.36,893.23 1420.57,891.74 1424.78,889.96 1429,887.94 1433.21,885.7 1437.42,883.23 1441.64,880.55 1445.85,877.65 1450.06,874.53 1454.28,871.2 1458.49,867.65 1462.7,863.91 1466.92,860.02 1471.13,856 1475.34,851.88 1479.56,847.7 1483.77,843.49 1487.98,839.27 1492.2,835.1 1496.41,831.05 1500.62,827.18 1504.84,823.55 1509.05,820.23 1513.27,817.28 1517.48,814.75 1521.69,812.67 1525.91,811.03 1530.12,809.83 1534.33,809.1 1538.55,808.92 1542.76,809.32 1546.97,810.17 1551.19,811.33 1555.4,812.65" fill="none" stroke="#0072bd" stroke-width="4.7" stroke-linejoin="round"/><polyline points="1180.4,919.73 1184.61,917.12 1188.83,914.78 1193.04,912.69 1197.25,910.83 1201.47,909.18 1205.68,907.73 1209.89,906.45 1214.11,905.33 1218.32,904.35 1222.53,903.49 1226.75,902.74 1230.96,902.08 1235.18,901.51 1239.39,901.03 1243.6,900.64 1247.82,900.34 1252.03,900.14 1256.24,900.03 1260.46,900.02 1264.67,900.1 1268.88,900.26 1273.1,900.49 1277.31,900.79 1281.52,901.15 1285.74,901.55 1289.95,902 1294.16,902.48 1298.38,903.03 1302.59,903.68 1306.8,904.45 1311.02,905.36 1315.23,906.45 1319.44,907.74 1323.66,909.22 1327.87,910.88 1332.09,912.69 1336.3,914.64 1340.51,916.71 1344.73,918.89 1348.94,921.14 1353.15,923.41 1357.37,925.65 1361.58,927.81 1365.79,929.84 1370.01,931.69 1374.22,933.32 1378.43,934.65 1382.65,935.63 1386.86,936.21 1391.07,936.32 1395.29,935.94 1399.5,935.06 1403.71,933.65 1407.93,931.71 1412.14,929.31 1416.36,926.55 1420.57,923.56 1424.78,920.47 1429,917.38 1433.21,914.41 1437.42,911.65 1441.64,909.12 1445.85,906.84 1450.06,904.83 1454.28,903.11 1458.49,901.7 1462.7,900.56 1466.92,899.65 1471.13,898.91 1475.34,898.29 1479.56,897.75 1483.77,897.22 1487.98,896.71 1492.2,896.22 1496.41,895.78 1500.62,895.42 1504.84,895.15 1509.05,894.99 1513.27,894.95 1517.48,895.02 1521.69,895.2 1525.91,895.46 1530.12,895.8 1534.33,896.2 1538.55,896.66 1542.76,897.15 1546.97,897.68 1551.19,898.22 1555.4,898.76" fill="none" stroke="#d95319" stroke-width="4.7" stroke-linejoin="round"/></g>
<rect x="1180.4" y="751.5" width="375" height="249.6" fill="none" stroke="#262626" stroke-width="3.7"/>
<line x1="1180.4" y1="1001.1" x2="1174.6" y2="1001.1" stroke="#262626" stroke-width="2.5"/>
<line x1="1555.4" y1="1001.1" x2="1561.2" y2="1001.1" stroke="#262626" stroke-width="2.5"/>
<line x1="1180.4" y1="876.3" x2="1174.6" y2="876.3" stroke="#262626" stroke-width="2.5"/>
<line x1="1555.4" y1="876.3" x2="1561.2" y2="876.3" stroke="#262626" stroke-width="2.5"/>
<line x1="1180.4" y1="751.5" x2="1174.6" y2="751.5" stroke="#262626" stroke-width="2.5"/>
<line x1="1555.4" y1="751.5" x2="1561.2" y2="751.5" stroke="#262626" stroke-width="2.5"/>
<line x1="1180.4" y1="1001.1" x2="1180.4" y2="1006.9" stroke="#262626" stroke-width="2.5"/>
<line x1="1180.4" y1="751.5" x2="1180.4" y2="745.7" stroke="#262626" stroke-width="2.5"/>
<line x1="1305.4" y1="1001.1" x2="1305.4" y2="1006.9" stroke="#262626" stroke-width="2.5"/>
<line x1="1305.4" y1="751.5" x2="1305.4" y2="745.7" stroke="#262626" stroke-width="2.5"/>
<line x1="1430.4" y1="1001.1" x2="1430.4" y2="1006.9" stroke="#262626" stroke-width="2.5"/>
<line x1="1430.4" y1="751.5" x2="1430.4" y2="745.7" stroke="#262626" stroke-width="2.5"/>
<line x1="1555.4" y1="1001.1" x2="1555.4" y2="1006.9" stroke="#262626" stroke-width="2.5"/>
<line x1="1555.4" y1="751.5" x2="1555.4" y2="745.7" stroke="#262626" stroke-width="2.5"/>
<text x="1168.8" y="1010.09" font-size="25.1" font-weight="bold" fill="#4a4a4c" text-anchor="end" stroke="#4a4a4c" stroke-width="0.3">2.5</text>
<text x="1168.8" y="885.29" font-size="25.1" font-weight="bold" fill="#4a4a4c" text-anchor="end" stroke="#4a4a4c" stroke-width="0.3">2.6</text>
<text x="1168.8" y="760.49" font-size="25.1" font-weight="bold" fill="#4a4a4c" text-anchor="end" stroke="#4a4a4c" stroke-width="0.3">2.7</text>
<text x="1180.4" y="1036" font-size="25.1" font-weight="bold" fill="#4a4a4c" text-anchor="middle" stroke="#4a4a4c" stroke-width="0.3">0</text>
<text x="1305.4" y="1036" font-size="25.1" font-weight="bold" fill="#4a4a4c" text-anchor="middle" stroke="#4a4a4c" stroke-width="0.3">0.5</text>
<text x="1430.4" y="1036" font-size="25.1" font-weight="bold" fill="#4a4a4c" text-anchor="middle" stroke="#4a4a4c" stroke-width="0.3">1</text>
<text x="1555.4" y="1036" font-size="25.1" font-weight="bold" fill="#4a4a4c" text-anchor="middle" stroke="#4a4a4c" stroke-width="0.3">1.5</text>
<text x="1369.5" y="1078.5" font-size="26.1" font-weight="bold" fill="#231f20" text-anchor="middle" stroke="#231f20" stroke-width="0.4">time (hrs)</text>
<text x="1082.5" y="872" font-size="26.1" font-weight="bold" fill="#231f20" text-anchor="middle" stroke="#231f20" stroke-width="0.4" transform="rotate(-90 1082.5 872)">polymerization</text>
<text x="1112" y="868.5" font-size="26.1" font-weight="bold" fill="#231f20" text-anchor="middle" stroke="#231f20" stroke-width="0.4" transform="rotate(-90 1112 868.5)">stress -σ<tspan font-size="15.5" dy="5.5">P</tspan><tspan dy="-5.5"> (kPa)</tspan></text>
<line x1="1737.9" y1="793.19" x2="2020.7" y2="793.19" stroke="#000" stroke-width="4.0" stroke-dasharray="4.2 4.1"/>
<rect x="1728.3" y="754.9" width="292.4" height="243.9" fill="none" stroke="#262626" stroke-width="3.7"/>
<line x1="1728.3" y1="998.8" x2="1722.5" y2="998.8" stroke="#262626" stroke-width="2.5"/>
<line x1="2020.7" y1="998.8" x2="2026.5" y2="998.8" stroke="#262626" stroke-width="2.5"/>
<line x1="1728.3" y1="950.02" x2="1722.5" y2="950.02" stroke="#262626" stroke-width="2.5"/>
<line x1="2020.7" y1="950.02" x2="2026.5" y2="950.02" stroke="#262626" stroke-width="2.5"/>
<line x1="1728.3" y1="901.24" x2="1722.5" y2="901.24" stroke="#262626" stroke-width="2.5"/>
<line x1="2020.7" y1="901.24" x2="2026.5" y2="901.24" stroke="#262626" stroke-width="2.5"/>
<line x1="1728.3" y1="852.46" x2="1722.5" y2="852.46" stroke="#262626" stroke-width="2.5"/>
<line x1="2020.7" y1="852.46" x2="2026.5" y2="852.46" stroke="#262626" stroke-width="2.5"/>
<line x1="1728.3" y1="803.68" x2="1722.5" y2="803.68" stroke="#262626" stroke-width="2.5"/>
<line x1="2020.7" y1="803.68" x2="2026.5" y2="803.68" stroke="#262626" stroke-width="2.5"/>
<line x1="1728.3" y1="754.9" x2="1722.5" y2="754.9" stroke="#262626" stroke-width="2.5"/>
<line x1="2020.7" y1="754.9" x2="2026.5" y2="754.9" stroke="#262626" stroke-width="2.5"/>
<line x1="1728.3" y1="998.8" x2="1728.3" y2="1004.6" stroke="#262626" stroke-width="2.5"/>
<line x1="1728.3" y1="754.9" x2="1728.3" y2="749.1" stroke="#262626" stroke-width="2.5"/>
<line x1="1874.5" y1="998.8" x2="1874.5" y2="1004.6" stroke="#262626" stroke-width="2.5"/>
<line x1="1874.5" y1="754.9" x2="1874.5" y2="749.1" stroke="#262626" stroke-width="2.5"/>
<line x1="2020.7" y1="998.8" x2="2020.7" y2="1004.6" stroke="#262626" stroke-width="2.5"/>
<line x1="2020.7" y1="754.9" x2="2020.7" y2="749.1" stroke="#262626" stroke-width="2.5"/>
<clipPath id="cg1"><rect x="1720" y="754.9" width="300.7" height="243.9"/></clipPath>
<g clip-path="url(#cg1)"><polyline points="1728.3,794.9 1748.18,851.14 1766.81,861.24 1785.32,878.02 1802.86,901.24 1820.55,911 1837.37,919.29 1854.03,927.58 1870.41,934.9 1886.2,941.73 1902.28,948.07 1917.78,953.68 1932.98,958.8 1948.33,962.95 1963.39,966.61 1978.3,970.02 1993.21,972.46 2007.83,974.41 2020.7,975.87" fill="none" stroke="#a2142f" stroke-width="4.6" stroke-linejoin="round"/>
<circle cx="1728.3" cy="794.9" r="5.3" fill="#a2142f"/>
<circle cx="1748.18" cy="851.14" r="5.3" fill="#a2142f"/>
<circle cx="1766.81" cy="861.24" r="5.3" fill="#a2142f"/>
<circle cx="1785.32" cy="878.02" r="5.3" fill="#a2142f"/>
<circle cx="1802.86" cy="901.24" r="5.3" fill="#a2142f"/>
<circle cx="1820.55" cy="911" r="5.3" fill="#a2142f"/>
<circle cx="1837.37" cy="919.29" r="5.3" fill="#a2142f"/>
<circle cx="1854.03" cy="927.58" r="5.3" fill="#a2142f"/>
<circle cx="1870.41" cy="934.9" r="5.3" fill="#a2142f"/>
<circle cx="1886.2" cy="941.73" r="5.3" fill="#a2142f"/>
<circle cx="1902.28" cy="948.07" r="5.3" fill="#a2142f"/>
<circle cx="1917.78" cy="953.68" r="5.3" fill="#a2142f"/>
<circle cx="1932.98" cy="958.8" r="5.3" fill="#a2142f"/>
<circle cx="1948.33" cy="962.95" r="5.3" fill="#a2142f"/>
<circle cx="1963.39" cy="966.61" r="5.3" fill="#a2142f"/>
<circle cx="1978.3" cy="970.02" r="5.3" fill="#a2142f"/>
<circle cx="1993.21" cy="972.46" r="5.3" fill="#a2142f"/>
<circle cx="2007.83" cy="974.41" r="5.3" fill="#a2142f"/>
</g>
<text x="1717.4" y="1007.79" font-size="25.1" font-weight="bold" fill="#4a4a4c" text-anchor="end" stroke="#4a4a4c" stroke-width="0.3">-20</text>
<text x="1717.4" y="959.01" font-size="25.1" font-weight="bold" fill="#4a4a4c" text-anchor="end" stroke="#4a4a4c" stroke-width="0.3">-10</text>
<text x="1717.4" y="910.23" font-size="25.1" font-weight="bold" fill="#4a4a4c" text-anchor="end" stroke="#4a4a4c" stroke-width="0.3">0</text>
<text x="1717.4" y="861.45" font-size="25.1" font-weight="bold" fill="#4a4a4c" text-anchor="end" stroke="#4a4a4c" stroke-width="0.3">10</text>
<text x="1717.4" y="812.67" font-size="25.1" font-weight="bold" fill="#4a4a4c" text-anchor="end" stroke="#4a4a4c" stroke-width="0.3">20</text>
<text x="1717.4" y="763.89" font-size="25.1" font-weight="bold" fill="#4a4a4c" text-anchor="end" stroke="#4a4a4c" stroke-width="0.3">30</text>
<text x="1728.3" y="1033.8" font-size="25.1" font-weight="bold" fill="#4a4a4c" text-anchor="middle" stroke="#4a4a4c" stroke-width="0.3">0</text>
<text x="1874.5" y="1033.8" font-size="25.1" font-weight="bold" fill="#4a4a4c" text-anchor="middle" stroke="#4a4a4c" stroke-width="0.3">5</text>
<text x="2020.7" y="1033.8" font-size="25.1" font-weight="bold" fill="#4a4a4c" text-anchor="middle" stroke="#4a4a4c" stroke-width="0.3">10</text>
<text x="1876.8" y="1075.5" font-size="26" font-weight="bold" fill="#231f20" text-anchor="middle" stroke="#231f20" stroke-width="0.4">distance from vertex (µm)</text>
<text x="1658.5" y="869.5" font-size="26.2" font-weight="bold" fill="#231f20" text-anchor="middle" stroke="#231f20" stroke-width="0.4" transform="rotate(-90 1658.5 869.5)">bond force F<tspan font-size="15.5" dy="5.5">b</tspan><tspan dy="-5.5"> (pN)</tspan></text>
<text x="1936.2" y="814.5" font-size="22" font-weight="bold" fill="#333333" text-anchor="middle" stroke="#333333" stroke-width="0.3">rupture force</text>
<defs>
<filter id="mblur" x="-20%" y="-20%" width="140%" height="140%"><feGaussianBlur stdDeviation="5"/></filter>
<filter id="mblur2" x="-20%" y="-20%" width="140%" height="140%"><feGaussianBlur stdDeviation="2.2"/></filter>
<filter id="mjag" x="-5%" y="-5%" width="110%" height="110%"><feTurbulence type="fractalNoise" baseFrequency="0.22" numOctaves="2" seed="7" result="n"/><feDisplacementMap in="SourceGraphic" in2="n" scale="5" xChannelSelector="R" yChannelSelector="G"/><feGaussianBlur stdDeviation="0.55"/></filter>
<filter id="mjagS" x="-5%" y="-5%" width="110%" height="110%"><feTurbulence type="fractalNoise" baseFrequency="0.12" numOctaves="2" seed="3" result="n"/><feDisplacementMap in="SourceGraphic" in2="n" scale="7" xChannelSelector="R" yChannelSelector="G"/><feGaussianBlur stdDeviation="1.1"/></filter>
<filter id="mjagW" x="-5%" y="-5%" width="110%" height="110%"><feTurbulence type="fractalNoise" baseFrequency="0.3" numOctaves="2" seed="19" result="n"/><feDisplacementMap in="SourceGraphic" in2="n" scale="9" xChannelSelector="R" yChannelSelector="G"/><feGaussianBlur stdDeviation="1.3"/></filter>
<filter id="mdot" x="-5%" y="-5%" width="110%" height="110%"><feGaussianBlur stdDeviation="0.5"/></filter>
<filter id="mdotS" x="-5%" y="-5%" width="110%" height="110%"><feGaussianBlur stdDeviation="1.2"/></filter>
<filter id="mgrain" x="0" y="0" width="100%" height="100%"><feTurbulence type="fractalNoise" baseFrequency="0.45" numOctaves="2" seed="11"/><feColorMatrix type="matrix" values="0 0 0 0 0.08  0 0 0 0 0.8  0 0 0 0 0.08  0 3.0 0 0 -1.5"/><feGaussianBlur stdDeviation="0.5"/></filter>
<filter id="mgrainS" x="0" y="0" width="100%" height="100%"><feTurbulence type="fractalNoise" baseFrequency="0.13" numOctaves="2" seed="5"/><feColorMatrix type="matrix" values="0 0 0 0 0.08  0 0 0 0 0.8  0 0 0 0 0.08  0 4.5 0 0 -2.35"/><feGaussianBlur stdDeviation="1.6"/></filter>
</defs>
<clipPath id="cm0"><rect x="325.0" y="15.8" width="420.6" height="423.4"/></clipPath>
<g clip-path="url(#cm0)">
<rect x="325" y="15.8" width="420.6" height="423.4" fill="#0f5612"/>
<g filter="url(#mblur)">
<polygon points="328.11,111.42 384.91,91.14 386.94,139.82 346.37,149.96 328.11,139.82" fill="#0a3a0c"/>
<polygon points="433.59,22.17 482.27,22.17 478.22,50.57 461.99,56.65 441.7,44.48" fill="#062806"/>
<polygon points="417.36,115.48 466.04,113.45 476.19,172.27 461.99,192.56 437.65,186.47" fill="#1f8f22"/>
<polygon points="397.08,188.5 461.99,198.64 478.22,230.08 401.14,230.08" fill="#1c851f"/>
<polygon points="393.02,135.76 425.48,139.82 433.59,184.44 395.05,184.44" fill="#1a7a1c"/>
<polygon points="468.07,107.36 502.56,127.65 512.7,172.27 486.33,190.53 476.19,168.22" fill="#0a3d0c"/>
<polygon points="401.14,64.77 433.59,52.6 457.93,76.94 449.82,97.22 405.19,105.33" fill="#17701a"/>
<polygon points="344.34,156.04 386.94,143.87 390.99,200.67 364.62,208.78" fill="#0c420e"/>
<polygon points="474.16,192.56 494.44,204.73 486.33,230.08 478.22,230.08" fill="#083008"/>
<polygon points="558.4,26.23 592.88,26.23 592.88,56.65 558.4,56.65" fill="#2fe035"/>
<polygon points="536.09,62.74 582.74,62.74 590.85,129.68 558.4,131.7" fill="#0a3b0c"/>
<polygon points="560.43,133.73 594.91,143.87 590.85,156.04 562.45,151.99" fill="#052405"/>
<polygon points="619.25,151.99 671.99,141.85 676.04,180.39 623.31,182.41" fill="#083208"/>
<polygon points="671.99,30.28 742.98,34.34 742.98,115.48 708.5,119.53 680.1,76.94" fill="#0c440e"/>
<polygon points="530,74.91 548.26,107.36 552.31,131.7 530,151.99" fill="#1a7a1c"/>
<polygon points="659.82,99.25 688.22,105.33 692.27,121.56 663.87,131.7" fill="#0b400d"/>
<polygon points="328.11,293.97 366.65,300.05 368.68,332.51 332.17,340.62" fill="#072d08"/>
<polygon points="388.97,379.16 415.33,387.27 415.33,407.56 380.85,435.95 366.65,427.84" fill="#072d08"/>
<polygon points="411.28,229.06 461.99,229.06 441.7,269.62 429.53,253.4" fill="#1f8c22"/>
<polygon points="461.99,251.37 512.7,251.37 514.73,318.31 470.1,318.31" fill="#22962a"/>
<polygon points="461.99,229.06 480.24,233.11 466.04,271.65 449.82,269.62" fill="#062806"/>
<polygon points="459.96,366.99 540.08,371.04 540.08,435.95 468.07,435.95" fill="#1a7f1d"/>
<polygon points="328.11,231.09 356.51,231.09 354.48,281.8 328.11,287.88" fill="#166c18"/>
<polygon points="421.42,399.44 453.87,403.5 461.99,435.95 401.14,435.95" fill="#093509"/>
<polygon points="366.65,233.11 401.14,255.43 409.25,283.82 370.71,291.94 360.57,265.57" fill="#0c430e"/>
<polygon points="556.37,263.54 586.8,275.71 590.85,289.91 568.54,306.14 554.34,285.85" fill="#072d08"/>
<polygon points="639.53,273.68 678.07,247.31 732.84,269.62 732.84,287.88 688.22,318.31 659.82,326.42" fill="#219229"/>
<polygon points="659.82,385.24 720.67,342.65 728.78,366.99 684.16,413.64" fill="#083208"/>
<polygon points="720.67,362.93 742.98,358.87 742.98,413.64 712.56,417.7" fill="#093509"/>
<polygon points="655.76,334.53 712.56,306.14 718.64,334.53 659.82,379.16" fill="#17731a"/>
<polygon points="530,371.04 570.57,393.36 574.62,435.95 530,435.95" fill="#1a7f1d"/>
<polygon points="530,225 566.51,225 554.34,261.51 530,269.62" fill="#187619"/>
<polygon points="684.16,225 742.98,225 742.98,263.54 692.27,245.28" fill="#0b400d"/>
</g>
<rect x="325.0" y="15.8" width="420.6" height="423.4" filter="url(#mgrain)" opacity="0.5"/>
<path d="M353.47 32.31Q357.53 46.51 359.05 54.62Q360.57 62.74 362.09 69.84Q363.61 76.94 366.15 80.99L368.68 85.05M368.68 85.05Q350.43 99.25 341.3 102.8Q332.17 106.35 329.13 107.87L326.09 109.39M368.68 85.05Q380.85 87.08 383.89 91.14Q386.94 95.19 387.44 105.33Q387.95 115.48 388.46 123.59Q388.97 131.7 387.95 135.76Q386.94 139.82 379.84 142.86Q372.74 145.9 366.65 147.93Q360.57 149.96 353.47 150.97Q346.37 151.99 343.33 158.07Q340.28 164.16 343.33 171.26Q346.37 178.36 349.41 185.46Q352.45 192.56 355.5 198.64Q358.54 204.73 361.08 208.78Q363.61 212.84 362.09 221.46L360.57 230.08M346.37 151.99Q332.17 139.82 329.13 139.82L326.09 139.82M326.09 188.5Q340.28 198.64 349.41 204.73L358.54 210.81M398.09 99.25Q399.11 76.94 401.14 69.84Q403.16 62.74 409.25 59.19Q415.33 55.64 422.94 53.61Q430.55 51.58 432.07 50.06L433.59 48.54M398.09 99.25Q397.08 115.48 395.05 123.59Q393.02 131.7 391.5 139.82Q389.98 147.93 390.49 156.04Q390.99 164.16 393.02 171.26Q395.05 178.36 393.53 185.46Q392.01 192.56 391.5 198.64Q390.99 204.73 394.04 212.84Q397.08 220.95 399.11 225.52L401.14 230.08M470.1 60.71Q461.99 74.91 459.96 83.02Q457.93 91.14 453.87 95.19Q449.82 99.25 442.72 102.29Q435.62 105.33 428.52 107.36Q421.42 109.39 416.35 114.46Q411.28 119.53 408.24 125.62L405.19 131.7M482.27 42.45Q494.44 48.54 501.54 50.57Q508.64 52.6 513.71 56.65Q518.78 60.71 522.84 64.77Q526.9 68.82 533.49 74.91L540.08 80.99M415.33 123.59Q425.48 113.45 433.59 111.42Q441.7 109.39 449.82 110.41Q457.93 111.42 461.99 115.48Q466.04 119.53 468.07 127.65Q470.1 135.76 472.13 143.87Q474.16 151.99 475.17 162.13Q476.19 172.27 475.17 178.36Q474.16 184.44 470.1 188.5Q466.04 192.56 457.93 193.57Q449.82 194.58 443.73 191.54Q437.65 188.5 435.62 182.41Q433.59 176.33 430.55 168.22Q427.51 160.1 423.45 151.99Q419.39 143.87 417.36 133.73L415.33 123.59M461.99 99.25Q474.16 107.36 481.26 110.41Q488.36 113.45 493.43 118.52Q498.5 123.59 501.54 129.68Q504.58 135.76 507.63 142.86Q510.67 149.96 512.7 156.04Q514.73 162.13 518.78 160.1Q522.84 158.07 531.46 154.02L540.08 149.96M514.73 162.13Q512.7 176.33 507.63 181.4Q502.56 186.47 495.46 189.51Q488.36 192.56 484.3 190.53Q480.24 188.5 478.22 180.39L476.19 172.27M397.08 186.47Q411.28 182.41 418.38 184.44Q425.48 186.47 433.59 189.51Q441.7 192.56 449.82 195.6Q457.93 198.64 461.99 195.6L466.04 192.56M488.36 192.56Q494.44 202.7 498.5 212.84Q502.56 222.98 512.7 220.95Q522.84 218.92 531.46 215.88L540.08 212.84M466.04 192.56Q470.1 204.73 472.13 210.81Q474.16 216.9 478.22 223.49L482.27 230.08M590.85 40.43Q607.08 38.4 613.16 42.45Q619.25 46.51 625.33 49.55Q631.42 52.6 638.52 54.62Q645.62 56.65 652.72 54.62L659.82 52.6M659.82 52.6Q663.87 38.4 666.92 32.31Q669.96 26.23 673 25.21Q676.04 24.2 684.16 25.72Q692.27 27.24 702.41 28.76Q712.56 30.28 720.67 29.78Q728.78 29.27 735.88 27.75L742.98 26.23M659.82 52.6Q671.99 66.8 675.03 71.87Q678.07 76.94 675.03 80.99Q671.99 85.05 666.92 90.12Q661.85 95.19 658.8 100.26Q655.76 105.33 654.24 110.41Q652.72 115.48 654.24 120.55Q655.76 125.62 657.79 129.68Q659.82 133.73 665.9 135.76Q671.99 137.79 678.07 134.75Q684.16 131.7 688.22 127.65Q692.27 123.59 696.33 122.07L700.39 120.55M678.07 87.08Q688.22 101.28 692.27 107.36Q696.33 113.45 700.39 117.51Q704.44 121.56 710.53 123.59Q716.61 125.62 722.7 123.59Q728.78 121.56 735.88 120.04L742.98 118.52M720.67 127.65Q724.73 139.82 727.77 145.9Q730.81 151.99 733.85 158.07Q736.9 164.16 738.92 167.2L740.95 170.24M740.95 172.27Q732.84 178.36 727.77 180.39Q722.7 182.41 717.63 183.43Q712.56 184.44 707.48 188.5Q702.41 192.56 697.34 193.57Q692.27 194.58 688.22 193.57Q684.16 192.56 681.62 189.51L679.09 186.47M679.09 186.47Q667.93 184.44 661.85 186.47Q655.76 188.5 649.68 187.48Q643.59 186.47 637.51 186.47Q631.42 186.47 625.33 187.48Q619.25 188.5 613.16 189.51Q607.08 190.53 602.01 192.56Q596.94 194.58 591.87 198.64Q586.8 202.7 581.72 207.77Q576.65 212.84 573.61 216.9Q570.57 220.95 570.06 225.52L569.55 230.08M679.09 186.47Q680.1 198.64 681.12 205.74Q682.13 212.84 681.62 221.46L681.12 230.08M659.82 133.73Q649.68 135.76 644.6 137.79Q639.53 139.82 634.46 142.86Q629.39 145.9 626.35 150.97Q623.31 156.04 617.22 158.07Q611.14 160.1 605.05 159.09L598.97 158.07M617.22 190.53Q621.28 200.67 623.31 206.75Q625.33 212.84 627.36 217.91Q629.39 222.98 630.41 226.53L631.42 230.08M530 62.74Q536.09 76.94 540.14 84.04Q544.2 91.14 547.24 99.25Q550.28 107.36 552.31 114.46Q554.34 121.56 557.38 127.65Q560.43 133.73 555.35 138.8Q550.28 143.87 545.21 146.92Q540.14 149.96 535.07 153L530 156.04M584.77 60.71Q588.82 76.94 590.34 86.06Q591.87 95.19 592.37 103.31Q592.88 111.42 591.87 120.55Q590.85 129.68 592.88 135.76Q594.91 141.85 596.94 149.96Q598.97 158.07 592.88 159.09Q586.8 160.1 580.71 159.09Q574.62 158.07 567.53 155.03Q560.43 151.99 557.38 147.93L554.34 143.87M530 212.84Q542.17 210.81 548.26 210.81Q554.34 210.81 560.43 214.87L566.51 218.92M530 56.65Q542.17 52.6 548.26 50.57Q554.34 48.54 559.41 47.53L564.48 46.51M360.57 225Q358.54 241.23 358.03 249.34Q357.53 257.45 357.02 265.57Q356.51 273.68 355.5 278.75Q354.48 283.82 347.38 285.85Q340.28 287.88 333.18 289.91L326.09 291.94M356.51 273.68Q360.57 287.88 363.61 292.95Q366.65 298.02 367.67 304.11Q368.68 310.19 368.68 316.28Q368.68 322.36 369.7 328.45Q370.71 334.53 365.64 336.56Q360.57 338.59 353.47 340.62Q346.37 342.65 339.27 342.65Q332.17 342.65 329.13 340.62L326.09 338.59M370.71 334.53Q378.82 346.7 383.89 351.77Q388.97 356.85 393.02 360.9Q397.08 364.96 399.11 368L401.14 371.04M368.68 295.99Q380.85 295.99 386.94 295.99Q393.02 295.99 399.11 293.97Q405.19 291.94 407.22 288.89L409.25 285.85M388.97 225Q395.05 239.2 398.09 245.28Q401.14 251.37 404.18 257.45Q407.22 263.54 409.25 268.61Q411.28 273.68 412.29 278.75Q413.31 283.82 410.26 288.89Q407.22 293.97 406.21 300.05Q405.19 306.14 404.18 312.22Q403.16 318.31 402.15 324.39Q401.14 330.48 400.12 336.56Q399.11 342.65 398.6 348.73Q398.09 354.82 399.11 360.9Q400.12 366.99 400.63 369.02L401.14 371.04M401.14 371.04Q411.28 377.13 414.32 381.19Q417.36 385.24 420.41 389.3Q423.45 393.36 428.52 396.4Q433.59 399.44 438.66 399.44Q443.73 399.44 447.79 400.46L451.85 401.47M401.14 371.04Q390.99 375.1 388.97 381.19Q386.94 387.27 383.89 392.34Q380.85 397.41 377.81 402.48Q374.77 407.56 371.72 412.63Q368.68 417.7 365.64 422.77Q362.6 427.84 359.55 431.9L356.51 435.95M405.19 225Q409.25 237.17 412.29 243.26Q415.33 249.34 420.41 252.38Q425.48 255.43 428.52 260.5Q431.56 265.57 436.63 268.61L441.7 271.65M417.36 273.68Q429.53 273.68 435.62 273.68Q441.7 273.68 445.76 276.72Q449.82 279.77 452.86 283.82Q455.9 287.88 456.92 293.97Q457.93 300.05 459.96 305.12Q461.99 310.19 465.03 315.26Q468.07 320.33 470.1 325.41Q472.13 330.48 475.17 336.56Q478.22 342.65 483.29 348.73L488.36 354.82M464.02 225Q459.96 237.17 456.92 243.26Q453.87 249.34 449.82 255.43Q445.76 261.51 443.73 266.58L441.7 271.65M488.36 354.82Q502.56 354.82 506.61 350.76Q510.67 346.7 512.19 340.62Q513.71 334.53 514.73 328.45Q515.74 322.36 516.25 314.25Q516.75 306.14 516.75 298.02Q516.75 289.91 517.26 283.82Q517.77 277.74 517.26 274.7L516.75 271.65M488.36 354.82Q478.22 364.96 473.14 370.03Q468.07 375.1 465.03 380.17Q461.99 385.24 459.96 391.33Q457.93 397.41 456.92 402.48Q455.9 407.56 457.93 412.63Q459.96 417.7 461.99 422.77Q464.02 427.84 465.03 432.91L466.04 437.98M488.36 356.85Q502.56 358.87 508.64 359.89Q514.73 360.9 520.81 362.93Q526.9 364.96 533.49 365.97L540.08 366.99M496.47 243.26Q502.56 253.4 506.61 258.47Q510.67 263.54 513.71 267.6Q516.75 271.65 521.83 272.67Q526.9 273.68 533.49 274.7L540.08 275.71M496.47 243.26Q486.33 245.28 482.27 250.35Q478.22 255.43 474.16 260.5Q470.1 265.57 466.04 271.65Q461.99 277.74 459.96 282.81L457.93 287.88M421.42 395.39Q417.36 407.56 414.32 412.63Q411.28 417.7 407.22 422.77Q403.16 427.84 400.12 432.91L397.08 437.98M326.09 409.58Q336.23 413.64 340.28 416.68Q344.34 419.73 348.4 423.78Q352.45 427.84 356.51 430.88L360.57 433.92M540.08 233.11Q522.84 237.17 515.74 238.18Q508.64 239.2 502.56 241.23L496.47 243.26M570.57 225Q568.54 235.14 565.5 241.23Q562.45 247.31 559.41 253.4Q556.37 259.48 553.33 264.55Q550.28 269.62 545.21 271.65Q540.14 273.68 535.07 272.67L530 271.65M550.28 269.62Q552.31 281.8 554.34 287.88Q556.37 293.97 560.43 299.04Q564.48 304.11 566 307.15L567.53 310.19M568.54 251.37Q576.65 263.54 581.72 268.61Q586.8 273.68 589.84 278.75Q592.88 283.82 594.4 287.88L595.92 291.94M567.53 310.19Q580.71 302.08 588.32 297.52Q595.92 292.95 603.53 292.44Q611.14 291.94 617.22 289.91Q623.31 287.88 627.36 284.84Q631.42 281.8 635.48 277.74Q639.53 273.68 643.59 268.61L647.65 263.54M647.65 263.54Q643.59 251.37 640.55 245.28Q637.51 239.2 633.45 234.13Q629.39 229.06 628.38 227.03L627.36 225M647.65 263.54Q659.82 257.45 664.89 252.38Q669.96 247.31 674.02 245.28L678.07 243.26M678.07 243.26Q679.09 233.11 679.59 229.06L680.1 225M678.07 243.26Q690.24 247.31 696.33 251.37Q702.41 255.43 708.5 258.47Q714.58 261.51 720.67 263.54Q726.75 265.57 734.87 266.58L742.98 267.6M631.42 281.8Q633.45 295.99 636.49 302.08Q639.53 308.16 642.58 314.25Q645.62 320.33 648.66 324.39Q651.7 328.45 654.75 329.46L657.79 330.48M657.79 330.48Q671.99 326.42 679.09 323.38Q686.19 320.33 690.24 316.28Q694.3 312.22 700.39 308.16Q706.47 304.11 712.56 300.05Q718.64 295.99 725.74 291.94Q732.84 287.88 737.91 284.84L742.98 281.8M657.79 330.48Q651.7 342.65 649.68 349.75Q647.65 356.85 646.63 363.95Q645.62 371.04 646.13 377.13Q646.63 383.22 648.15 386.26L649.68 389.3M649.68 389.3Q659.82 385.24 665.9 379.16Q671.99 373.07 678.07 368Q684.16 362.93 690.24 357.86Q696.33 352.79 702.41 348.73Q708.5 344.68 714.58 341.63Q720.67 338.59 726.75 332.51Q732.84 326.42 737.91 321.35L742.98 316.28M720.67 338.59Q728.78 348.73 730.81 352.79Q732.84 356.85 737.91 355.83L742.98 354.82M567.53 310.19Q566.51 322.36 564.48 327.43Q562.45 332.51 557.38 336.56Q552.31 340.62 548.26 344.68Q544.2 348.73 543.18 353.8Q542.17 358.87 541.16 362.93L540.14 366.99M540.14 366.99Q552.31 371.04 557.38 375.1Q562.45 379.16 566.51 384.23Q570.57 389.3 574.62 393.36L578.68 397.41M578.68 397.41Q590.85 399.44 596.94 399.44Q603.02 399.44 609.11 401.47Q615.19 403.5 621.28 402.48Q627.36 401.47 633.45 398.43Q639.53 395.39 644.6 392.34L649.68 389.3M649.68 389.3Q659.82 399.44 664.89 404.51Q669.96 409.58 675.03 413.64Q680.1 417.7 679.09 423.78Q678.07 429.87 677.06 433.92L676.04 437.98M578.68 397.41Q576.65 411.61 576.65 418.71Q576.65 425.81 577.67 431.9L578.68 437.98M718.64 421.75Q730.81 419.73 736.9 418.71L742.98 417.7M718.64 421.75L720.67 437.98" fill="none" stroke="#22cc26" stroke-width="9.5" stroke-linecap="round" stroke-linejoin="round" opacity="0.62" filter="url(#mjagW)"/>
<path d="M353.47 32.31Q357.53 46.51 359.05 54.62Q360.57 62.74 362.09 69.84Q363.61 76.94 366.15 80.99L368.68 85.05M368.68 85.05Q350.43 99.25 341.3 102.8Q332.17 106.35 329.13 107.87L326.09 109.39M368.68 85.05Q380.85 87.08 383.89 91.14Q386.94 95.19 387.44 105.33Q387.95 115.48 388.46 123.59Q388.97 131.7 387.95 135.76Q386.94 139.82 379.84 142.86Q372.74 145.9 366.65 147.93Q360.57 149.96 353.47 150.97Q346.37 151.99 343.33 158.07Q340.28 164.16 343.33 171.26Q346.37 178.36 349.41 185.46Q352.45 192.56 355.5 198.64Q358.54 204.73 361.08 208.78Q363.61 212.84 362.09 221.46L360.57 230.08M346.37 151.99Q332.17 139.82 329.13 139.82L326.09 139.82M326.09 188.5Q340.28 198.64 349.41 204.73L358.54 210.81M398.09 99.25Q399.11 76.94 401.14 69.84Q403.16 62.74 409.25 59.19Q415.33 55.64 422.94 53.61Q430.55 51.58 432.07 50.06L433.59 48.54M398.09 99.25Q397.08 115.48 395.05 123.59Q393.02 131.7 391.5 139.82Q389.98 147.93 390.49 156.04Q390.99 164.16 393.02 171.26Q395.05 178.36 393.53 185.46Q392.01 192.56 391.5 198.64Q390.99 204.73 394.04 212.84Q397.08 220.95 399.11 225.52L401.14 230.08M470.1 60.71Q461.99 74.91 459.96 83.02Q457.93 91.14 453.87 95.19Q449.82 99.25 442.72 102.29Q435.62 105.33 428.52 107.36Q421.42 109.39 416.35 114.46Q411.28 119.53 408.24 125.62L405.19 131.7M482.27 42.45Q494.44 48.54 501.54 50.57Q508.64 52.6 513.71 56.65Q518.78 60.71 522.84 64.77Q526.9 68.82 533.49 74.91L540.08 80.99M415.33 123.59Q425.48 113.45 433.59 111.42Q441.7 109.39 449.82 110.41Q457.93 111.42 461.99 115.48Q466.04 119.53 468.07 127.65Q470.1 135.76 472.13 143.87Q474.16 151.99 475.17 162.13Q476.19 172.27 475.17 178.36Q474.16 184.44 470.1 188.5Q466.04 192.56 457.93 193.57Q449.82 194.58 443.73 191.54Q437.65 188.5 435.62 182.41Q433.59 176.33 430.55 168.22Q427.51 160.1 423.45 151.99Q419.39 143.87 417.36 133.73L415.33 123.59M461.99 99.25Q474.16 107.36 481.26 110.41Q488.36 113.45 493.43 118.52Q498.5 123.59 501.54 129.68Q504.58 135.76 507.63 142.86Q510.67 149.96 512.7 156.04Q514.73 162.13 518.78 160.1Q522.84 158.07 531.46 154.02L540.08 149.96M514.73 162.13Q512.7 176.33 507.63 181.4Q502.56 186.47 495.46 189.51Q488.36 192.56 484.3 190.53Q480.24 188.5 478.22 180.39L476.19 172.27M397.08 186.47Q411.28 182.41 418.38 184.44Q425.48 186.47 433.59 189.51Q441.7 192.56 449.82 195.6Q457.93 198.64 461.99 195.6L466.04 192.56M488.36 192.56Q494.44 202.7 498.5 212.84Q502.56 222.98 512.7 220.95Q522.84 218.92 531.46 215.88L540.08 212.84M466.04 192.56Q470.1 204.73 472.13 210.81Q474.16 216.9 478.22 223.49L482.27 230.08M590.85 40.43Q607.08 38.4 613.16 42.45Q619.25 46.51 625.33 49.55Q631.42 52.6 638.52 54.62Q645.62 56.65 652.72 54.62L659.82 52.6M659.82 52.6Q663.87 38.4 666.92 32.31Q669.96 26.23 673 25.21Q676.04 24.2 684.16 25.72Q692.27 27.24 702.41 28.76Q712.56 30.28 720.67 29.78Q728.78 29.27 735.88 27.75L742.98 26.23M659.82 52.6Q671.99 66.8 675.03 71.87Q678.07 76.94 675.03 80.99Q671.99 85.05 666.92 90.12Q661.85 95.19 658.8 100.26Q655.76 105.33 654.24 110.41Q652.72 115.48 654.24 120.55Q655.76 125.62 657.79 129.68Q659.82 133.73 665.9 135.76Q671.99 137.79 678.07 134.75Q684.16 131.7 688.22 127.65Q692.27 123.59 696.33 122.07L700.39 120.55M678.07 87.08Q688.22 101.28 692.27 107.36Q696.33 113.45 700.39 117.51Q704.44 121.56 710.53 123.59Q716.61 125.62 722.7 123.59Q728.78 121.56 735.88 120.04L742.98 118.52M720.67 127.65Q724.73 139.82 727.77 145.9Q730.81 151.99 733.85 158.07Q736.9 164.16 738.92 167.2L740.95 170.24M740.95 172.27Q732.84 178.36 727.77 180.39Q722.7 182.41 717.63 183.43Q712.56 184.44 707.48 188.5Q702.41 192.56 697.34 193.57Q692.27 194.58 688.22 193.57Q684.16 192.56 681.62 189.51L679.09 186.47M679.09 186.47Q667.93 184.44 661.85 186.47Q655.76 188.5 649.68 187.48Q643.59 186.47 637.51 186.47Q631.42 186.47 625.33 187.48Q619.25 188.5 613.16 189.51Q607.08 190.53 602.01 192.56Q596.94 194.58 591.87 198.64Q586.8 202.7 581.72 207.77Q576.65 212.84 573.61 216.9Q570.57 220.95 570.06 225.52L569.55 230.08M679.09 186.47Q680.1 198.64 681.12 205.74Q682.13 212.84 681.62 221.46L681.12 230.08M659.82 133.73Q649.68 135.76 644.6 137.79Q639.53 139.82 634.46 142.86Q629.39 145.9 626.35 150.97Q623.31 156.04 617.22 158.07Q611.14 160.1 605.05 159.09L598.97 158.07M617.22 190.53Q621.28 200.67 623.31 206.75Q625.33 212.84 627.36 217.91Q629.39 222.98 630.41 226.53L631.42 230.08M530 62.74Q536.09 76.94 540.14 84.04Q544.2 91.14 547.24 99.25Q550.28 107.36 552.31 114.46Q554.34 121.56 557.38 127.65Q560.43 133.73 555.35 138.8Q550.28 143.87 545.21 146.92Q540.14 149.96 535.07 153L530 156.04M584.77 60.71Q588.82 76.94 590.34 86.06Q591.87 95.19 592.37 103.31Q592.88 111.42 591.87 120.55Q590.85 129.68 592.88 135.76Q594.91 141.85 596.94 149.96Q598.97 158.07 592.88 159.09Q586.8 160.1 580.71 159.09Q574.62 158.07 567.53 155.03Q560.43 151.99 557.38 147.93L554.34 143.87M530 212.84Q542.17 210.81 548.26 210.81Q554.34 210.81 560.43 214.87L566.51 218.92M530 56.65Q542.17 52.6 548.26 50.57Q554.34 48.54 559.41 47.53L564.48 46.51M360.57 225Q358.54 241.23 358.03 249.34Q357.53 257.45 357.02 265.57Q356.51 273.68 355.5 278.75Q354.48 283.82 347.38 285.85Q340.28 287.88 333.18 289.91L326.09 291.94M356.51 273.68Q360.57 287.88 363.61 292.95Q366.65 298.02 367.67 304.11Q368.68 310.19 368.68 316.28Q368.68 322.36 369.7 328.45Q370.71 334.53 365.64 336.56Q360.57 338.59 353.47 340.62Q346.37 342.65 339.27 342.65Q332.17 342.65 329.13 340.62L326.09 338.59M370.71 334.53Q378.82 346.7 383.89 351.77Q388.97 356.85 393.02 360.9Q397.08 364.96 399.11 368L401.14 371.04M368.68 295.99Q380.85 295.99 386.94 295.99Q393.02 295.99 399.11 293.97Q405.19 291.94 407.22 288.89L409.25 285.85M388.97 225Q395.05 239.2 398.09 245.28Q401.14 251.37 404.18 257.45Q407.22 263.54 409.25 268.61Q411.28 273.68 412.29 278.75Q413.31 283.82 410.26 288.89Q407.22 293.97 406.21 300.05Q405.19 306.14 404.18 312.22Q403.16 318.31 402.15 324.39Q401.14 330.48 400.12 336.56Q399.11 342.65 398.6 348.73Q398.09 354.82 399.11 360.9Q400.12 366.99 400.63 369.02L401.14 371.04M401.14 371.04Q411.28 377.13 414.32 381.19Q417.36 385.24 420.41 389.3Q423.45 393.36 428.52 396.4Q433.59 399.44 438.66 399.44Q443.73 399.44 447.79 400.46L451.85 401.47M401.14 371.04Q390.99 375.1 388.97 381.19Q386.94 387.27 383.89 392.34Q380.85 397.41 377.81 402.48Q374.77 407.56 371.72 412.63Q368.68 417.7 365.64 422.77Q362.6 427.84 359.55 431.9L356.51 435.95M405.19 225Q409.25 237.17 412.29 243.26Q415.33 249.34 420.41 252.38Q425.48 255.43 428.52 260.5Q431.56 265.57 436.63 268.61L441.7 271.65M417.36 273.68Q429.53 273.68 435.62 273.68Q441.7 273.68 445.76 276.72Q449.82 279.77 452.86 283.82Q455.9 287.88 456.92 293.97Q457.93 300.05 459.96 305.12Q461.99 310.19 465.03 315.26Q468.07 320.33 470.1 325.41Q472.13 330.48 475.17 336.56Q478.22 342.65 483.29 348.73L488.36 354.82M464.02 225Q459.96 237.17 456.92 243.26Q453.87 249.34 449.82 255.43Q445.76 261.51 443.73 266.58L441.7 271.65M488.36 354.82Q502.56 354.82 506.61 350.76Q510.67 346.7 512.19 340.62Q513.71 334.53 514.73 328.45Q515.74 322.36 516.25 314.25Q516.75 306.14 516.75 298.02Q516.75 289.91 517.26 283.82Q517.77 277.74 517.26 274.7L516.75 271.65M488.36 354.82Q478.22 364.96 473.14 370.03Q468.07 375.1 465.03 380.17Q461.99 385.24 459.96 391.33Q457.93 397.41 456.92 402.48Q455.9 407.56 457.93 412.63Q459.96 417.7 461.99 422.77Q464.02 427.84 465.03 432.91L466.04 437.98M488.36 356.85Q502.56 358.87 508.64 359.89Q514.73 360.9 520.81 362.93Q526.9 364.96 533.49 365.97L540.08 366.99M496.47 243.26Q502.56 253.4 506.61 258.47Q510.67 263.54 513.71 267.6Q516.75 271.65 521.83 272.67Q526.9 273.68 533.49 274.7L540.08 275.71M496.47 243.26Q486.33 245.28 482.27 250.35Q478.22 255.43 474.16 260.5Q470.1 265.57 466.04 271.65Q461.99 277.74 459.96 282.81L457.93 287.88M421.42 395.39Q417.36 407.56 414.32 412.63Q411.28 417.7 407.22 422.77Q403.16 427.84 400.12 432.91L397.08 437.98M326.09 409.58Q336.23 413.64 340.28 416.68Q344.34 419.73 348.4 423.78Q352.45 427.84 356.51 430.88L360.57 433.92M540.08 233.11Q522.84 237.17 515.74 238.18Q508.64 239.2 502.56 241.23L496.47 243.26M570.57 225Q568.54 235.14 565.5 241.23Q562.45 247.31 559.41 253.4Q556.37 259.48 553.33 264.55Q550.28 269.62 545.21 271.65Q540.14 273.68 535.07 272.67L530 271.65M550.28 269.62Q552.31 281.8 554.34 287.88Q556.37 293.97 560.43 299.04Q564.48 304.11 566 307.15L567.53 310.19M568.54 251.37Q576.65 263.54 581.72 268.61Q586.8 273.68 589.84 278.75Q592.88 283.82 594.4 287.88L595.92 291.94M567.53 310.19Q580.71 302.08 588.32 297.52Q595.92 292.95 603.53 292.44Q611.14 291.94 617.22 289.91Q623.31 287.88 627.36 284.84Q631.42 281.8 635.48 277.74Q639.53 273.68 643.59 268.61L647.65 263.54M647.65 263.54Q643.59 251.37 640.55 245.28Q637.51 239.2 633.45 234.13Q629.39 229.06 628.38 227.03L627.36 225M647.65 263.54Q659.82 257.45 664.89 252.38Q669.96 247.31 674.02 245.28L678.07 243.26M678.07 243.26Q679.09 233.11 679.59 229.06L680.1 225M678.07 243.26Q690.24 247.31 696.33 251.37Q702.41 255.43 708.5 258.47Q714.58 261.51 720.67 263.54Q726.75 265.57 734.87 266.58L742.98 267.6M631.42 281.8Q633.45 295.99 636.49 302.08Q639.53 308.16 642.58 314.25Q645.62 320.33 648.66 324.39Q651.7 328.45 654.75 329.46L657.79 330.48M657.79 330.48Q671.99 326.42 679.09 323.38Q686.19 320.33 690.24 316.28Q694.3 312.22 700.39 308.16Q706.47 304.11 712.56 300.05Q718.64 295.99 725.74 291.94Q732.84 287.88 737.91 284.84L742.98 281.8M657.79 330.48Q651.7 342.65 649.68 349.75Q647.65 356.85 646.63 363.95Q645.62 371.04 646.13 377.13Q646.63 383.22 648.15 386.26L649.68 389.3M649.68 389.3Q659.82 385.24 665.9 379.16Q671.99 373.07 678.07 368Q684.16 362.93 690.24 357.86Q696.33 352.79 702.41 348.73Q708.5 344.68 714.58 341.63Q720.67 338.59 726.75 332.51Q732.84 326.42 737.91 321.35L742.98 316.28M720.67 338.59Q728.78 348.73 730.81 352.79Q732.84 356.85 737.91 355.83L742.98 354.82M567.53 310.19Q566.51 322.36 564.48 327.43Q562.45 332.51 557.38 336.56Q552.31 340.62 548.26 344.68Q544.2 348.73 543.18 353.8Q542.17 358.87 541.16 362.93L540.14 366.99M540.14 366.99Q552.31 371.04 557.38 375.1Q562.45 379.16 566.51 384.23Q570.57 389.3 574.62 393.36L578.68 397.41M578.68 397.41Q590.85 399.44 596.94 399.44Q603.02 399.44 609.11 401.47Q615.19 403.5 621.28 402.48Q627.36 401.47 633.45 398.43Q639.53 395.39 644.6 392.34L649.68 389.3M649.68 389.3Q659.82 399.44 664.89 404.51Q669.96 409.58 675.03 413.64Q680.1 417.7 679.09 423.78Q678.07 429.87 677.06 433.92L676.04 437.98M578.68 397.41Q576.65 411.61 576.65 418.71Q576.65 425.81 577.67 431.9L578.68 437.98M718.64 421.75Q730.81 419.73 736.9 418.71L742.98 417.7M718.64 421.75L720.67 437.98" fill="none" stroke="#27f52b" stroke-width="4.0" stroke-linecap="round" stroke-linejoin="round" filter="url(#mjag)"/>
<g filter="url(#mjagW)"><ellipse cx="575" cy="38" rx="15" ry="13" fill="#2cff30"/><ellipse cx="570" cy="26" rx="9" ry="8" fill="#2cff30"/><ellipse cx="560" cy="45" rx="9" ry="6" fill="#29ee2d"/></g>
<path d="M445.7 221.6h1.5v1.5h-1.5zM417.7 193.9h1.2v1.2h-1.2zM503.2 383.0h1.5v1.5h-1.5zM419.2 129.2h2.3v2.3h-2.3zM497.8 403.2h2.5v2.5h-2.5zM443.6 127.0h1.8v1.8h-1.8zM455.1 156.9h1.7v1.7h-1.7zM417.0 231.4h1.7v1.7h-1.7zM449.5 121.3h2.0v2.0h-2.0zM508.1 388.5h2.2v2.2h-2.2zM653.8 282.6h1.2v1.2h-1.2zM676.6 257.2h2.6v2.6h-2.6zM414.8 232.4h2.6v2.6h-2.6zM481.3 305.5h1.6v1.6h-1.6zM420.1 210.8h2.4v2.4h-2.4zM475.3 298.9h2.7v2.7h-2.7zM530.0 252.9h2.5v2.5h-2.5zM443.8 144.4h1.6v1.6h-1.6zM462.1 147.3h2.1v2.1h-2.1zM675.6 308.7h2.7v2.7h-2.7zM602.2 243.8h2.4v2.4h-2.4zM526.2 257.3h2.7v2.7h-2.7zM474.9 404.1h1.3v1.3h-1.3zM601.4 239.6h1.3v1.3h-1.3zM495.1 278.8h1.2v1.2h-1.2zM477.2 369.5h1.5v1.5h-1.5zM529.2 238.9h2.4v2.4h-2.4zM528.2 221.8h1.7v1.7h-1.7zM428.9 144.4h2.8v2.8h-2.8zM461.8 135.5h2.0v2.0h-2.0zM441.0 206.9h2.2v2.2h-2.2zM689.4 316.9h2.1v2.1h-2.1zM542.8 232.6h2.0v2.0h-2.0zM454.9 206.5h2.6v2.6h-2.6zM443.5 149.6h2.1v2.1h-2.1zM448.3 230.1h1.2v1.2h-1.2zM528.7 233.1h1.9v1.9h-1.9zM535.9 254.6h2.2v2.2h-2.2zM699.1 278.6h2.3v2.3h-2.3zM428.5 149.7h1.8v1.8h-1.8zM517.9 244.6h1.2v1.2h-1.2zM430.9 131.6h1.5v1.5h-1.5zM428.4 212.3h1.2v1.2h-1.2zM448.2 133.0h1.5v1.5h-1.5zM597.7 245.4h2.8v2.8h-2.8zM596.8 255.2h1.8v1.8h-1.8zM446.1 230.2h1.8v1.8h-1.8zM600.0 230.8h2.3v2.3h-2.3zM453.4 228.1h2.5v2.5h-2.5zM430.1 232.0h1.9v1.9h-1.9zM501.8 399.2h2.7v2.7h-2.7zM403.8 228.6h2.1v2.1h-2.1zM430.7 121.4h1.1v1.1h-1.1zM455.0 206.9h1.4v1.4h-1.4zM569.6 238.5h2.7v2.7h-2.7zM470.0 315.3h1.6v1.6h-1.6zM590.5 258.5h2.4v2.4h-2.4zM520.1 228.2h1.4v1.4h-1.4zM698.0 286.7h2.1v2.1h-2.1zM689.8 298.6h2.0v2.0h-2.0zM540.2 259.3h1.2v1.2h-1.2zM496.2 298.6h2.6v2.6h-2.6zM514.8 400.5h1.5v1.5h-1.5zM428.6 125.6h2.1v2.1h-2.1zM523.2 251.0h2.3v2.3h-2.3zM672.8 307.4h2.3v2.3h-2.3zM422.0 144.1h2.8v2.8h-2.8zM413.5 146.2h2.9v2.9h-2.9zM409.5 214.3h1.3v1.3h-1.3zM689.2 276.1h1.7v1.7h-1.7zM471.0 303.9h1.6v1.6h-1.6zM548.0 242.1h1.6v1.6h-1.6zM440.5 215.2h1.3v1.3h-1.3zM429.6 207.3h1.6v1.6h-1.6zM668.6 276.3h2.2v2.2h-2.2zM431.5 138.1h2.7v2.7h-2.7zM459.5 149.8h1.6v1.6h-1.6zM437.0 147.8h2.8v2.8h-2.8zM488.8 275.2h1.8v1.8h-1.8zM465.0 157.6h2.3v2.3h-2.3zM465.3 288.6h2.1v2.1h-2.1zM484.9 298.5h1.7v1.7h-1.7zM454.2 131.0h1.5v1.5h-1.5zM415.9 236.4h2.7v2.7h-2.7zM502.4 290.1h1.4v1.4h-1.4zM492.9 292.7h2.4v2.4h-2.4zM675.0 276.0h2.3v2.3h-2.3zM669.0 323.2h1.3v1.3h-1.3zM451.5 127.6h2.5v2.5h-2.5zM580.7 256.1h2.6v2.6h-2.6zM687.3 294.4h1.7v1.7h-1.7zM445.3 215.5h2.2v2.2h-2.2zM482.3 356.2h1.7v1.7h-1.7zM465.3 158.8h1.4v1.4h-1.4zM459.6 143.1h1.7v1.7h-1.7zM649.4 301.9h1.3v1.3h-1.3zM671.5 321.9h1.1v1.1h-1.1zM519.4 221.0h2.4v2.4h-2.4zM665.6 298.7h2.3v2.3h-2.3zM657.7 278.0h1.3v1.3h-1.3zM425.1 138.3h1.7v1.7h-1.7zM433.7 135.5h2.3v2.3h-2.3zM481.2 355.2h2.2v2.2h-2.2zM426.4 150.3h1.6v1.6h-1.6zM647.6 303.1h2.3v2.3h-2.3zM574.4 244.1h2.0v2.0h-2.0zM481.7 283.2h2.3v2.3h-2.3zM692.5 305.7h1.5v1.5h-1.5zM444.9 149.1h1.1v1.1h-1.1zM698.9 288.9h2.5v2.5h-2.5zM577.1 247.6h1.4v1.4h-1.4zM478.9 381.3h2.3v2.3h-2.3zM464.2 121.1h2.7v2.7h-2.7zM498.9 407.1h2.3v2.3h-2.3zM608.8 239.9h2.6v2.6h-2.6zM608.6 250.1h2.0v2.0h-2.0zM509.8 228.4h2.7v2.7h-2.7zM509.2 250.3h1.9v1.9h-1.9zM489.4 276.9h1.5v1.5h-1.5zM681.5 276.1h2.5v2.5h-2.5zM586.1 225.8h1.2v1.2h-1.2zM443.7 151.2h2.7v2.7h-2.7zM439.0 229.7h2.3v2.3h-2.3zM692.4 300.6h2.1v2.1h-2.1zM519.3 391.5h1.8v1.8h-1.8zM459.3 118.5h1.8v1.8h-1.8zM458.4 133.2h1.8v1.8h-1.8zM468.6 374.5h2.5v2.5h-2.5zM653.7 293.3h2.0v2.0h-2.0zM481.3 402.2h1.8v1.8h-1.8zM503.9 272.8h2.8v2.8h-2.8zM541.4 243.2h2.1v2.1h-2.1zM459.5 148.4h2.6v2.6h-2.6zM506.6 301.5h1.5v1.5h-1.5zM659.9 312.1h1.6v1.6h-1.6zM494.3 390.0h1.1v1.1h-1.1zM548.5 248.1h1.5v1.5h-1.5zM434.4 194.9h2.4v2.4h-2.4zM673.8 297.0h1.4v1.4h-1.4zM480.1 297.0h2.8v2.8h-2.8zM588.6 212.9h1.4v1.4h-1.4zM432.2 207.1h1.6v1.6h-1.6zM463.0 128.7h2.7v2.7h-2.7zM474.1 396.7h1.2v1.2h-1.2zM696.2 309.9h2.6v2.6h-2.6zM436.8 197.7h1.2v1.2h-1.2zM515.8 246.7h2.0v2.0h-2.0zM688.1 293.2h2.0v2.0h-2.0zM516.8 374.7h2.6v2.6h-2.6zM467.4 304.9h2.8v2.8h-2.8zM426.9 124.6h2.5v2.5h-2.5zM574.1 245.6h1.6v1.6h-1.6zM676.5 282.5h2.7v2.7h-2.7zM671.8 265.3h2.3v2.3h-2.3zM694.9 296.4h1.4v1.4h-1.4zM661.2 306.2h1.6v1.6h-1.6zM428.4 133.8h1.4v1.4h-1.4zM667.1 267.6h2.4v2.4h-2.4zM583.7 220.0h2.5v2.5h-2.5zM424.9 237.5h1.5v1.5h-1.5zM654.0 295.0h1.8v1.8h-1.8zM519.2 257.2h1.6v1.6h-1.6zM445.4 157.6h1.6v1.6h-1.6zM545.6 235.7h1.4v1.4h-1.4zM592.1 256.8h2.4v2.4h-2.4zM463.0 136.7h1.6v1.6h-1.6zM673.1 294.6h2.0v2.0h-2.0zM448.0 140.6h1.6v1.6h-1.6zM474.6 277.8h1.3v1.3h-1.3zM424.6 129.7h1.9v1.9h-1.9zM503.3 292.5h2.6v2.6h-2.6zM438.6 202.3h1.2v1.2h-1.2zM458.1 160.5h2.8v2.8h-2.8zM440.0 218.2h2.5v2.5h-2.5zM675.0 270.2h2.7v2.7h-2.7zM457.1 122.2h1.6v1.6h-1.6zM422.5 122.0h2.8v2.8h-2.8zM659.6 279.5h1.2v1.2h-1.2zM676.8 300.9h1.1v1.1h-1.1zM589.2 218.5h1.1v1.1h-1.1zM438.0 121.2h1.9v1.9h-1.9zM699.4 277.5h2.2v2.2h-2.2zM648.7 303.5h2.2v2.2h-2.2zM446.0 134.0h1.4v1.4h-1.4zM426.0 127.2h2.7v2.7h-2.7zM612.2 252.1h2.3v2.3h-2.3zM427.9 139.3h1.2v1.2h-1.2zM462.5 122.3h2.2v2.2h-2.2zM467.3 154.5h2.6v2.6h-2.6zM467.7 139.1h1.6v1.6h-1.6zM443.9 126.4h2.0v2.0h-2.0zM606.1 229.8h2.1v2.1h-2.1zM614.8 232.3h1.8v1.8h-1.8zM660.9 271.8h1.7v1.7h-1.7zM589.1 262.0h2.5v2.5h-2.5zM534.5 242.6h1.5v1.5h-1.5zM448.6 215.3h2.0v2.0h-2.0zM430.9 120.5h1.8v1.8h-1.8zM644.5 288.7h2.0v2.0h-2.0zM596.6 223.2h2.1v2.1h-2.1zM426.3 146.2h1.3v1.3h-1.3zM667.5 273.5h1.1v1.1h-1.1zM518.4 397.0h2.7v2.7h-2.7zM617.5 228.9h1.4v1.4h-1.4zM431.1 137.9h2.6v2.6h-2.6zM596.8 256.8h1.8v1.8h-1.8zM528.1 233.2h1.2v1.2h-1.2zM479.9 403.6h1.6v1.6h-1.6zM439.5 154.9h2.1v2.1h-2.1zM608.3 221.9h2.0v2.0h-2.0zM654.5 286.0h1.9v1.9h-1.9zM689.1 274.1h1.5v1.5h-1.5zM497.1 407.6h1.2v1.2h-1.2zM589.0 211.8h1.8v1.8h-1.8zM484.5 296.1h2.0v2.0h-2.0zM687.9 274.9h1.9v1.9h-1.9zM530.6 239.8h1.3v1.3h-1.3zM512.2 307.3h1.6v1.6h-1.6zM477.3 358.2h2.6v2.6h-2.6zM518.7 249.2h2.4v2.4h-2.4zM600.0 232.5h1.2v1.2h-1.2zM462.0 138.7h1.9v1.9h-1.9zM431.9 194.2h1.3v1.3h-1.3zM481.2 271.4h1.2v1.2h-1.2zM438.3 156.9h1.3v1.3h-1.3zM512.8 250.8h1.4v1.4h-1.4zM512.8 308.2h2.2v2.2h-2.2zM645.4 292.6h1.5v1.5h-1.5zM425.1 143.0h2.7v2.7h-2.7zM615.0 222.8h1.4v1.4h-1.4zM622.3 226.7h1.6v1.6h-1.6zM486.7 362.2h1.6v1.6h-1.6zM499.9 373.2h1.8v1.8h-1.8zM649.9 280.8h1.6v1.6h-1.6zM490.3 403.0h2.3v2.3h-2.3zM464.5 124.8h2.6v2.6h-2.6zM444.3 128.2h2.5v2.5h-2.5zM653.7 270.9h2.3v2.3h-2.3zM471.3 276.6h2.2v2.2h-2.2zM444.0 135.1h1.7v1.7h-1.7zM502.5 303.8h2.4v2.4h-2.4zM497.1 319.2h2.7v2.7h-2.7zM648.1 287.0h2.6v2.6h-2.6zM460.8 127.4h2.8v2.8h-2.8zM443.0 126.5h1.3v1.3h-1.3zM448.2 241.4h2.6v2.6h-2.6zM520.4 375.5h1.7v1.7h-1.7zM515.8 382.9h1.9v1.9h-1.9zM425.3 128.4h2.8v2.8h-2.8zM420.4 200.4h2.2v2.2h-2.2zM519.7 255.9h2.2v2.2h-2.2zM609.0 227.7h1.8v1.8h-1.8zM494.6 296.9h2.9v2.9h-2.9zM453.4 235.5h1.3v1.3h-1.3zM576.9 255.5h2.3v2.3h-2.3zM511.7 250.5h1.4v1.4h-1.4zM478.4 358.1h2.2v2.2h-2.2zM456.1 141.7h1.9v1.9h-1.9zM678.5 283.0h2.3v2.3h-2.3zM542.7 231.1h1.2v1.2h-1.2zM445.4 145.7h2.6v2.6h-2.6zM606.6 242.8h2.2v2.2h-2.2zM458.9 143.8h2.9v2.9h-2.9zM700.0 305.0h1.5v1.5h-1.5zM678.1 276.0h2.5v2.5h-2.5zM437.3 167.7h2.9v2.9h-2.9zM527.7 249.9h2.3v2.3h-2.3zM454.8 151.8h2.5v2.5h-2.5zM685.1 293.5h1.3v1.3h-1.3zM468.4 376.7h1.9v1.9h-1.9zM663.7 291.2h2.0v2.0h-2.0zM438.7 110.4h2.3v2.3h-2.3zM422.5 145.0h1.2v1.2h-1.2zM606.8 221.3h1.3v1.3h-1.3zM602.9 239.3h2.2v2.2h-2.2zM446.5 235.7h2.1v2.1h-2.1zM657.9 305.3h1.6v1.6h-1.6zM522.2 236.4h2.3v2.3h-2.3zM526.1 230.9h1.9v1.9h-1.9zM644.7 308.4h1.8v1.8h-1.8zM423.7 234.6h1.5v1.5h-1.5zM482.9 278.5h1.2v1.2h-1.2zM437.4 223.8h2.4v2.4h-2.4zM469.7 288.4h2.1v2.1h-2.1zM663.8 277.5h2.7v2.7h-2.7zM510.6 361.7h2.8v2.8h-2.8zM433.2 152.6h1.5v1.5h-1.5zM597.0 244.6h2.6v2.6h-2.6zM682.1 300.9h1.5v1.5h-1.5zM510.3 356.1h2.6v2.6h-2.6zM548.5 244.1h2.6v2.6h-2.6zM453.9 140.7h2.5v2.5h-2.5zM665.9 300.8h1.3v1.3h-1.3zM516.8 391.4h2.8v2.8h-2.8zM429.6 205.1h1.8v1.8h-1.8zM679.7 303.7h1.7v1.7h-1.7zM438.4 210.7h2.4v2.4h-2.4zM435.5 124.8h2.3v2.3h-2.3zM582.1 225.0h1.5v1.5h-1.5zM539.0 250.6h1.6v1.6h-1.6zM580.9 233.6h1.5v1.5h-1.5zM459.6 140.0h1.5v1.5h-1.5zM491.6 281.3h1.3v1.3h-1.3zM595.8 224.3h1.8v1.8h-1.8zM639.6 291.5h2.5v2.5h-2.5zM409.3 234.5h1.9v1.9h-1.9zM618.7 223.5h2.1v2.1h-2.1zM489.4 362.5h1.3v1.3h-1.3zM454.6 135.8h2.8v2.8h-2.8zM609.5 212.9h1.2v1.2h-1.2zM430.8 241.9h2.0v2.0h-2.0zM512.0 362.4h1.5v1.5h-1.5zM509.6 306.2h2.0v2.0h-2.0zM688.9 280.1h2.4v2.4h-2.4zM491.1 306.9h1.4v1.4h-1.4zM491.7 273.6h1.4v1.4h-1.4zM575.3 240.5h2.1v2.1h-2.1zM685.3 277.3h1.4v1.4h-1.4zM406.2 223.2h2.5v2.5h-2.5zM438.1 145.5h1.9v1.9h-1.9zM469.0 148.9h1.2v1.2h-1.2zM413.9 204.8h1.9v1.9h-1.9zM546.5 236.0h1.2v1.2h-1.2zM661.8 314.0h1.4v1.4h-1.4zM416.8 146.8h2.6v2.6h-2.6zM417.7 218.8h1.5v1.5h-1.5zM616.0 234.6h2.2v2.2h-2.2zM662.7 301.5h1.8v1.8h-1.8zM669.3 286.6h2.2v2.2h-2.2zM678.8 294.8h2.3v2.3h-2.3zM442.2 158.7h2.8v2.8h-2.8zM479.6 314.8h1.3v1.3h-1.3zM664.3 310.6h2.3v2.3h-2.3zM467.7 280.8h1.6v1.6h-1.6zM483.6 367.8h1.3v1.3h-1.3zM542.9 250.9h2.0v2.0h-2.0zM434.9 148.9h1.5v1.5h-1.5zM606.2 262.4h1.4v1.4h-1.4zM446.5 132.8h2.5v2.5h-2.5zM540.0 243.6h2.5v2.5h-2.5zM481.2 289.9h1.4v1.4h-1.4zM489.0 290.3h1.7v1.7h-1.7zM698.5 286.5h2.4v2.4h-2.4zM596.8 249.1h2.8v2.8h-2.8zM605.9 228.7h2.3v2.3h-2.3zM581.6 239.6h1.8v1.8h-1.8zM520.5 245.5h1.4v1.4h-1.4zM494.4 291.3h1.9v1.9h-1.9zM664.0 288.9h2.6v2.6h-2.6zM424.4 244.7h1.6v1.6h-1.6zM536.2 252.1h2.8v2.8h-2.8zM684.9 261.4h2.8v2.8h-2.8zM514.2 388.1h1.5v1.5h-1.5zM425.9 222.0h2.8v2.8h-2.8zM674.5 283.2h1.6v1.6h-1.6zM592.2 225.9h2.3v2.3h-2.3zM576.4 218.7h1.1v1.1h-1.1zM684.9 269.4h2.4v2.4h-2.4zM511.0 250.2h1.5v1.5h-1.5zM448.2 224.4h2.5v2.5h-2.5zM619.5 245.7h2.0v2.0h-2.0zM543.9 242.8h1.5v1.5h-1.5zM489.8 297.1h1.7v1.7h-1.7zM503.3 403.5h2.0v2.0h-2.0zM688.4 299.4h2.0v2.0h-2.0zM515.0 236.3h1.9v1.9h-1.9zM509.4 379.6h1.1v1.1h-1.1zM415.4 240.0h2.2v2.2h-2.2zM682.0 303.1h1.7v1.7h-1.7zM500.6 275.1h2.8v2.8h-2.8zM579.3 217.8h1.2v1.2h-1.2zM607.8 238.5h2.5v2.5h-2.5zM436.3 154.3h1.8v1.8h-1.8zM523.6 241.5h2.2v2.2h-2.2zM430.4 153.7h2.6v2.6h-2.6zM668.7 314.1h1.9v1.9h-1.9zM492.8 352.7h1.8v1.8h-1.8zM469.7 295.9h2.7v2.7h-2.7zM527.3 247.3h1.8v1.8h-1.8zM472.1 364.5h2.1v2.1h-2.1zM683.5 300.7h1.6v1.6h-1.6zM581.1 224.7h2.3v2.3h-2.3zM651.3 298.4h2.7v2.7h-2.7zM488.9 409.8h2.8v2.8h-2.8zM420.8 202.1h2.0v2.0h-2.0zM499.9 292.7h2.2v2.2h-2.2zM602.7 237.2h2.5v2.5h-2.5zM656.6 310.9h1.1v1.1h-1.1zM478.3 271.4h1.7v1.7h-1.7zM410.5 209.2h1.8v1.8h-1.8zM442.7 146.1h2.4v2.4h-2.4zM569.7 233.3h1.3v1.3h-1.3zM439.9 129.0h2.2v2.2h-2.2zM599.5 246.1h1.2v1.2h-1.2zM505.3 285.2h1.2v1.2h-1.2zM661.5 273.5h2.1v2.1h-2.1zM458.4 125.9h2.4v2.4h-2.4zM495.7 277.1h1.3v1.3h-1.3zM676.4 275.5h2.0v2.0h-2.0zM657.3 286.5h2.5v2.5h-2.5zM542.5 256.4h1.2v1.2h-1.2zM519.3 380.8h2.0v2.0h-2.0zM497.1 373.1h2.8v2.8h-2.8zM406.5 226.7h1.7v1.7h-1.7zM521.4 233.2h2.8v2.8h-2.8zM465.6 380.1h2.6v2.6h-2.6zM533.2 248.4h1.7v1.7h-1.7zM652.2 319.5h2.7v2.7h-2.7zM429.8 242.8h2.1v2.1h-2.1zM474.8 280.8h1.2v1.2h-1.2zM472.3 284.6h1.4v1.4h-1.4zM681.9 275.9h2.6v2.6h-2.6zM468.1 152.9h2.5v2.5h-2.5zM431.8 123.3h1.8v1.8h-1.8zM419.4 139.4h1.6v1.6h-1.6zM423.1 140.8h2.3v2.3h-2.3zM425.8 144.5h1.4v1.4h-1.4zM480.3 382.1h2.2v2.2h-2.2zM680.5 280.6h2.9v2.9h-2.9zM681.0 290.6h1.7v1.7h-1.7zM536.8 248.0h1.3v1.3h-1.3zM596.2 244.8h1.6v1.6h-1.6zM506.2 365.8h2.8v2.8h-2.8zM500.2 270.7h2.4v2.4h-2.4zM673.9 267.3h2.0v2.0h-2.0zM610.6 222.7h1.2v1.2h-1.2zM464.7 380.2h1.5v1.5h-1.5zM684.4 295.8h2.2v2.2h-2.2zM595.7 238.8h1.3v1.3h-1.3zM507.3 279.6h2.5v2.5h-2.5zM677.3 293.4h2.1v2.1h-2.1zM665.5 289.7h2.0v2.0h-2.0zM523.7 262.2h2.3v2.3h-2.3zM436.5 225.8h1.8v1.8h-1.8zM658.1 286.9h1.3v1.3h-1.3zM524.8 243.9h1.2v1.2h-1.2zM678.2 275.3h1.3v1.3h-1.3zM541.6 257.4h1.7v1.7h-1.7zM519.9 379.6h1.6v1.6h-1.6zM654.1 291.1h2.0v2.0h-2.0zM440.3 139.5h1.7v1.7h-1.7zM452.3 215.7h2.5v2.5h-2.5zM430.1 129.9h2.3v2.3h-2.3zM667.5 265.9h1.4v1.4h-1.4zM509.2 401.2h1.1v1.1h-1.1zM437.2 237.5h1.8v1.8h-1.8zM486.6 362.7h2.5v2.5h-2.5zM613.1 219.1h1.2v1.2h-1.2zM468.6 292.9h2.9v2.9h-2.9zM580.7 233.7h1.4v1.4h-1.4zM520.5 251.6h2.5v2.5h-2.5zM435.7 133.0h1.5v1.5h-1.5zM521.0 260.8h2.8v2.8h-2.8zM437.8 121.4h2.0v2.0h-2.0zM579.9 257.6h2.5v2.5h-2.5zM438.9 155.0h2.1v2.1h-2.1zM505.8 353.9h2.5v2.5h-2.5zM464.1 144.9h1.2v1.2h-1.2zM582.7 216.1h1.5v1.5h-1.5zM525.9 257.5h1.6v1.6h-1.6zM413.0 203.9h1.5v1.5h-1.5zM529.9 251.8h1.3v1.3h-1.3zM670.0 283.9h2.5v2.5h-2.5zM472.2 132.7h1.4v1.4h-1.4zM583.1 237.2h2.8v2.8h-2.8zM670.3 297.6h2.5v2.5h-2.5zM642.4 284.9h2.8v2.8h-2.8zM467.2 308.1h2.8v2.8h-2.8zM461.8 138.6h2.0v2.0h-2.0zM444.3 137.4h2.1v2.1h-2.1zM445.6 211.4h1.9v1.9h-1.9zM507.8 238.1h1.3v1.3h-1.3zM518.8 243.2h1.3v1.3h-1.3zM487.0 273.3h2.4v2.4h-2.4zM440.6 112.2h2.1v2.1h-2.1zM686.1 320.4h2.7v2.7h-2.7zM484.9 379.9h2.3v2.3h-2.3zM508.7 293.2h2.8v2.8h-2.8zM441.7 153.2h2.4v2.4h-2.4zM665.6 312.5h1.1v1.1h-1.1zM670.1 286.4h1.3v1.3h-1.3zM452.3 153.8h2.7v2.7h-2.7zM436.0 122.1h2.8v2.8h-2.8zM663.5 284.5h1.3v1.3h-1.3zM463.3 303.8h1.8v1.8h-1.8zM543.9 230.6h2.5v2.5h-2.5zM674.0 263.0h2.2v2.2h-2.2zM408.5 215.6h1.7v1.7h-1.7zM450.4 227.3h2.0v2.0h-2.0zM535.3 251.1h2.0v2.0h-2.0zM419.1 195.9h2.0v2.0h-2.0zM523.4 243.0h1.3v1.3h-1.3zM487.0 382.9h1.9v1.9h-1.9zM440.3 124.9h2.5v2.5h-2.5zM665.5 288.5h1.7v1.7h-1.7zM422.4 216.6h2.7v2.7h-2.7zM613.2 239.2h2.5v2.5h-2.5zM474.0 401.0h1.9v1.9h-1.9zM476.1 398.2h2.3v2.3h-2.3zM542.0 256.4h1.3v1.3h-1.3zM521.3 245.3h2.8v2.8h-2.8zM444.1 109.3h1.9v1.9h-1.9zM516.1 247.4h1.5v1.5h-1.5zM587.1 247.6h2.8v2.8h-2.8zM453.7 223.7h2.2v2.2h-2.2zM443.3 146.6h2.1v2.1h-2.1zM577.2 222.8h1.2v1.2h-1.2zM431.3 147.6h1.5v1.5h-1.5zM462.2 162.2h1.5v1.5h-1.5zM652.2 281.3h2.6v2.6h-2.6zM667.5 304.3h2.3v2.3h-2.3zM656.1 301.3h2.1v2.1h-2.1zM477.0 282.9h2.0v2.0h-2.0zM690.7 284.3h2.5v2.5h-2.5zM666.8 277.0h1.6v1.6h-1.6zM490.1 276.3h2.6v2.6h-2.6zM448.2 132.4h1.9v1.9h-1.9zM415.6 127.6h2.1v2.1h-2.1zM479.3 305.2h1.7v1.7h-1.7zM454.7 206.3h1.2v1.2h-1.2zM692.2 298.6h2.2v2.2h-2.2zM451.8 129.4h2.5v2.5h-2.5zM529.6 250.3h2.7v2.7h-2.7zM445.1 137.7h2.8v2.8h-2.8zM429.0 192.4h2.7v2.7h-2.7zM658.4 302.4h1.7v1.7h-1.7zM431.3 150.0h1.7v1.7h-1.7zM429.8 154.9h1.9v1.9h-1.9zM597.4 220.4h1.4v1.4h-1.4zM656.1 301.8h1.5v1.5h-1.5zM510.5 297.9h2.1v2.1h-2.1zM490.4 393.9h1.5v1.5h-1.5zM643.4 291.8h2.3v2.3h-2.3zM444.0 123.4h2.4v2.4h-2.4zM572.8 241.9h1.7v1.7h-1.7zM485.9 276.3h2.7v2.7h-2.7zM549.4 239.6h2.0v2.0h-2.0zM452.7 210.4h2.5v2.5h-2.5zM509.8 399.4h1.2v1.2h-1.2zM509.9 297.2h1.8v1.8h-1.8zM594.0 232.9h2.0v2.0h-2.0zM515.9 382.7h1.6v1.6h-1.6zM462.4 140.9h2.3v2.3h-2.3zM497.0 301.7h1.3v1.3h-1.3zM659.2 280.0h1.7v1.7h-1.7zM519.8 394.9h1.9v1.9h-1.9zM688.3 290.7h2.3v2.3h-2.3zM413.8 195.8h2.4v2.4h-2.4zM414.7 229.3h1.9v1.9h-1.9zM440.0 130.3h2.6v2.6h-2.6zM651.1 283.0h1.3v1.3h-1.3zM536.7 235.4h2.7v2.7h-2.7zM592.2 262.4h2.3v2.3h-2.3zM456.7 129.6h1.1v1.1h-1.1zM683.6 293.4h1.3v1.3h-1.3zM508.6 373.7h2.1v2.1h-2.1zM484.3 361.2h1.8v1.8h-1.8zM496.2 273.8h1.2v1.2h-1.2zM687.2 297.0h2.6v2.6h-2.6zM656.3 279.8h2.2v2.2h-2.2zM684.3 293.8h2.9v2.9h-2.9zM598.9 256.7h1.8v1.8h-1.8zM480.6 275.7h1.2v1.2h-1.2zM448.8 121.6h1.2v1.2h-1.2zM472.2 313.2h1.4v1.4h-1.4zM490.4 390.3h1.1v1.1h-1.1zM425.2 145.8h1.3v1.3h-1.3zM437.5 237.4h2.1v2.1h-2.1zM501.0 386.3h2.1v2.1h-2.1zM673.8 289.9h1.8v1.8h-1.8zM425.9 196.2h2.9v2.9h-2.9zM659.1 285.7h1.8v1.8h-1.8zM488.5 310.7h1.3v1.3h-1.3zM473.3 303.2h2.0v2.0h-2.0zM410.9 241.0h2.4v2.4h-2.4zM586.0 229.4h1.3v1.3h-1.3zM456.4 139.1h2.6v2.6h-2.6zM499.8 364.8h1.7v1.7h-1.7zM482.9 316.4h2.3v2.3h-2.3zM584.6 260.7h2.8v2.8h-2.8zM440.8 121.0h2.8v2.8h-2.8zM663.1 308.1h2.5v2.5h-2.5zM686.0 304.1h2.1v2.1h-2.1zM536.6 258.8h1.1v1.1h-1.1zM607.6 231.1h2.5v2.5h-2.5zM441.2 194.7h1.8v1.8h-1.8zM606.0 248.0h1.5v1.5h-1.5zM484.9 272.0h1.2v1.2h-1.2zM577.7 225.4h2.7v2.7h-2.7zM468.4 373.8h1.7v1.7h-1.7zM510.8 229.6h1.3v1.3h-1.3zM660.3 274.3h2.2v2.2h-2.2zM420.5 129.4h2.2v2.2h-2.2zM688.4 288.9h1.1v1.1h-1.1zM446.2 157.6h2.1v2.1h-2.1zM651.0 298.9h2.5v2.5h-2.5zM540.8 258.8h1.9v1.9h-1.9zM424.6 150.2h1.3v1.3h-1.3zM480.1 309.0h2.5v2.5h-2.5zM512.9 242.6h1.9v1.9h-1.9zM589.2 249.5h2.5v2.5h-2.5zM447.7 221.8h1.3v1.3h-1.3zM511.7 285.6h2.0v2.0h-2.0zM536.2 254.3h2.8v2.8h-2.8zM680.4 265.7h1.4v1.4h-1.4zM473.1 396.2h2.7v2.7h-2.7zM581.1 226.1h2.3v2.3h-2.3zM666.4 320.5h2.5v2.5h-2.5zM436.8 198.1h1.7v1.7h-1.7zM654.2 296.3h2.6v2.6h-2.6zM540.0 238.4h1.8v1.8h-1.8zM478.4 371.4h2.6v2.6h-2.6zM499.3 274.4h1.6v1.6h-1.6zM422.3 204.3h1.5v1.5h-1.5zM440.1 241.7h2.0v2.0h-2.0zM475.3 368.0h1.8v1.8h-1.8zM580.4 218.2h2.2v2.2h-2.2zM471.8 289.6h1.3v1.3h-1.3zM682.3 275.1h2.6v2.6h-2.6zM429.8 140.3h1.8v1.8h-1.8zM512.2 240.2h2.3v2.3h-2.3zM489.3 361.9h1.4v1.4h-1.4zM447.4 125.9h1.1v1.1h-1.1zM658.0 288.6h1.9v1.9h-1.9zM587.3 233.4h1.3v1.3h-1.3zM533.5 228.6h2.6v2.6h-2.6zM444.4 119.3h1.5v1.5h-1.5zM515.5 397.0h2.4v2.4h-2.4zM445.9 136.3h1.6v1.6h-1.6zM401.9 229.8h2.5v2.5h-2.5zM679.2 320.8h2.3v2.3h-2.3zM499.8 390.9h1.5v1.5h-1.5zM680.9 267.0h2.0v2.0h-2.0zM538.8 260.1h1.6v1.6h-1.6zM457.6 133.9h2.7v2.7h-2.7zM447.1 238.5h1.8v1.8h-1.8zM471.2 138.0h1.3v1.3h-1.3zM489.6 319.2h2.6v2.6h-2.6zM471.4 382.6h1.6v1.6h-1.6zM487.8 386.4h2.5v2.5h-2.5zM408.4 233.6h2.3v2.3h-2.3zM655.1 296.7h2.1v2.1h-2.1zM427.3 198.6h2.3v2.3h-2.3zM685.1 274.0h1.8v1.8h-1.8zM503.6 362.3h1.7v1.7h-1.7zM434.1 153.1h2.1v2.1h-2.1zM601.9 209.9h2.5v2.5h-2.5zM464.5 154.5h1.9v1.9h-1.9zM440.7 213.8h1.9v1.9h-1.9zM501.6 405.1h1.3v1.3h-1.3zM454.6 157.0h1.6v1.6h-1.6zM671.5 306.7h2.7v2.7h-2.7zM510.7 302.8h2.4v2.4h-2.4zM662.8 296.9h1.3v1.3h-1.3zM659.6 294.0h1.5v1.5h-1.5zM618.9 236.9h2.6v2.6h-2.6zM487.0 361.7h1.5v1.5h-1.5zM428.9 209.6h1.6v1.6h-1.6zM455.2 153.3h2.4v2.4h-2.4zM475.8 278.4h1.2v1.2h-1.2zM433.7 131.3h1.7v1.7h-1.7zM662.5 282.2h1.8v1.8h-1.8zM601.6 229.9h1.3v1.3h-1.3zM413.7 208.5h2.8v2.8h-2.8zM674.9 279.7h2.2v2.2h-2.2zM646.2 282.9h2.2v2.2h-2.2zM457.1 119.2h1.6v1.6h-1.6zM520.5 235.1h1.8v1.8h-1.8zM448.8 113.0h1.5v1.5h-1.5zM509.9 394.6h2.1v2.1h-2.1zM529.9 239.5h1.7v1.7h-1.7zM687.5 308.9h2.1v2.1h-2.1zM662.0 288.9h1.9v1.9h-1.9zM437.9 220.0h1.6v1.6h-1.6zM468.8 125.3h1.8v1.8h-1.8zM432.2 127.7h1.8v1.8h-1.8zM512.9 391.7h2.2v2.2h-2.2zM447.8 141.6h2.7v2.7h-2.7zM472.7 291.8h2.2v2.2h-2.2zM422.1 236.9h2.8v2.8h-2.8zM681.6 295.6h1.9v1.9h-1.9zM590.7 231.5h2.3v2.3h-2.3zM506.9 311.8h2.3v2.3h-2.3zM473.4 296.3h2.0v2.0h-2.0zM446.5 145.4h2.5v2.5h-2.5zM441.7 131.0h2.7v2.7h-2.7zM676.9 280.1h1.2v1.2h-1.2zM408.9 219.9h1.2v1.2h-1.2zM480.8 306.7h1.3v1.3h-1.3zM433.3 240.6h1.2v1.2h-1.2zM443.7 159.6h1.8v1.8h-1.8zM502.2 321.1h1.1v1.1h-1.1zM495.9 395.2h2.7v2.7h-2.7zM671.1 298.9h1.8v1.8h-1.8zM525.8 236.7h1.5v1.5h-1.5zM549.7 238.8h1.2v1.2h-1.2zM612.5 217.7h1.6v1.6h-1.6zM427.7 218.3h1.4v1.4h-1.4zM442.3 128.2h1.7v1.7h-1.7zM620.3 235.3h2.4v2.4h-2.4zM529.1 230.5h1.1v1.1h-1.1zM515.6 384.1h2.2v2.2h-2.2zM443.8 138.4h2.3v2.3h-2.3zM455.9 148.9h1.5v1.5h-1.5zM623.1 229.6h1.3v1.3h-1.3zM460.1 150.2h2.7v2.7h-2.7zM510.2 251.8h1.9v1.9h-1.9zM411.1 208.4h2.2v2.2h-2.2zM514.1 391.2h1.9v1.9h-1.9zM491.3 310.3h1.6v1.6h-1.6zM486.2 356.6h1.7v1.7h-1.7zM445.5 160.5h1.3v1.3h-1.3zM436.7 229.0h1.9v1.9h-1.9zM506.7 393.0h2.5v2.5h-2.5zM591.1 249.7h1.3v1.3h-1.3zM495.2 281.3h2.3v2.3h-2.3zM449.3 166.3h1.3v1.3h-1.3zM693.9 288.0h1.2v1.2h-1.2zM442.0 161.2h1.1v1.1h-1.1zM507.5 363.1h2.1v2.1h-2.1zM404.1 225.6h1.3v1.3h-1.3zM467.7 149.2h1.5v1.5h-1.5zM681.3 272.7h2.2v2.2h-2.2zM416.3 211.0h2.5v2.5h-2.5zM456.1 138.5h2.2v2.2h-2.2zM511.2 309.7h2.5v2.5h-2.5zM449.9 224.6h1.4v1.4h-1.4zM502.6 364.4h1.1v1.1h-1.1zM500.7 393.5h1.4v1.4h-1.4zM434.8 141.6h2.2v2.2h-2.2zM656.6 271.8h2.7v2.7h-2.7zM610.0 241.8h1.3v1.3h-1.3zM652.6 267.7h1.5v1.5h-1.5zM533.7 219.6h2.5v2.5h-2.5zM650.1 294.9h1.7v1.7h-1.7zM523.4 251.7h1.1v1.1h-1.1zM703.1 297.9h1.6v1.6h-1.6zM571.3 230.9h2.9v2.9h-2.9zM508.5 309.5h1.6v1.6h-1.6zM445.4 109.7h2.1v2.1h-2.1zM476.7 402.3h2.6v2.6h-2.6zM491.0 311.4h2.4v2.4h-2.4zM675.3 289.5h2.3v2.3h-2.3zM478.2 290.7h2.9v2.9h-2.9zM585.0 233.3h1.1v1.1h-1.1zM444.4 152.8h2.0v2.0h-2.0zM431.0 159.1h2.5v2.5h-2.5zM666.6 268.1h2.6v2.6h-2.6zM680.6 295.2h2.3v2.3h-2.3zM493.5 270.1h2.6v2.6h-2.6zM409.6 239.8h1.8v1.8h-1.8zM420.6 233.0h2.8v2.8h-2.8zM501.4 352.4h2.2v2.2h-2.2zM483.9 275.3h2.7v2.7h-2.7zM675.4 311.1h1.4v1.4h-1.4zM442.0 127.3h1.4v1.4h-1.4zM470.7 129.8h1.8v1.8h-1.8zM449.6 154.0h2.5v2.5h-2.5zM664.7 283.2h2.0v2.0h-2.0zM671.1 279.2h2.8v2.8h-2.8zM471.6 274.8h2.6v2.6h-2.6zM660.0 296.4h1.5v1.5h-1.5zM414.0 240.2h2.4v2.4h-2.4zM423.1 155.3h2.8v2.8h-2.8zM475.4 381.7h2.1v2.1h-2.1zM442.5 195.4h2.1v2.1h-2.1zM676.5 299.7h2.6v2.6h-2.6zM454.4 140.7h1.3v1.3h-1.3zM679.0 305.1h2.4v2.4h-2.4zM548.4 233.3h1.7v1.7h-1.7zM590.6 218.1h2.3v2.3h-2.3zM499.5 389.2h1.4v1.4h-1.4zM649.5 305.5h2.7v2.7h-2.7zM527.0 252.8h1.5v1.5h-1.5zM425.5 152.8h2.0v2.0h-2.0zM430.5 154.2h1.6v1.6h-1.6zM597.6 240.5h1.4v1.4h-1.4zM458.3 137.1h1.3v1.3h-1.3zM466.2 386.3h1.6v1.6h-1.6zM517.8 249.7h1.8v1.8h-1.8zM476.4 300.7h1.9v1.9h-1.9zM685.9 269.8h1.4v1.4h-1.4zM445.0 227.9h2.1v2.1h-2.1zM641.3 281.0h2.6v2.6h-2.6zM517.8 375.1h2.8v2.8h-2.8zM661.8 293.0h2.7v2.7h-2.7zM414.1 138.2h2.5v2.5h-2.5zM508.0 312.9h1.4v1.4h-1.4zM515.1 291.9h1.3v1.3h-1.3zM516.0 392.9h1.4v1.4h-1.4zM496.7 283.2h2.7v2.7h-2.7zM449.0 230.5h2.1v2.1h-2.1zM422.5 136.8h1.1v1.1h-1.1zM529.7 234.0h1.3v1.3h-1.3zM450.3 209.1h1.3v1.3h-1.3zM456.4 123.3h2.7v2.7h-2.7zM431.4 149.1h2.2v2.2h-2.2zM451.7 155.6h2.2v2.2h-2.2zM521.5 387.9h1.7v1.7h-1.7zM695.1 299.5h1.6v1.6h-1.6zM694.5 295.0h1.6v1.6h-1.6zM453.9 121.7h2.3v2.3h-2.3zM694.9 317.8h1.9v1.9h-1.9zM669.8 307.8h2.2v2.2h-2.2zM640.8 304.0h1.8v1.8h-1.8zM597.1 209.6h2.6v2.6h-2.6zM529.1 235.2h2.4v2.4h-2.4zM511.7 401.4h2.7v2.7h-2.7zM456.1 164.1h1.4v1.4h-1.4zM442.5 158.8h2.7v2.7h-2.7zM667.1 323.3h2.0v2.0h-2.0zM423.7 205.5h2.0v2.0h-2.0zM607.3 259.3h2.1v2.1h-2.1zM659.4 311.1h1.5v1.5h-1.5zM426.2 237.4h1.4v1.4h-1.4zM689.3 269.7h2.3v2.3h-2.3zM433.4 125.7h2.6v2.6h-2.6zM432.5 141.0h1.4v1.4h-1.4zM446.3 161.5h2.8v2.8h-2.8zM431.1 145.3h1.7v1.7h-1.7zM445.3 150.7h2.0v2.0h-2.0zM491.2 379.1h2.9v2.9h-2.9zM654.3 284.9h1.6v1.6h-1.6zM412.8 221.1h1.6v1.6h-1.6zM679.9 281.9h2.4v2.4h-2.4zM449.1 153.8h1.5v1.5h-1.5zM452.0 113.5h2.2v2.2h-2.2zM662.8 272.5h2.3v2.3h-2.3zM442.2 153.2h1.8v1.8h-1.8zM416.6 123.7h2.5v2.5h-2.5zM670.1 280.2h2.0v2.0h-2.0zM615.0 223.2h2.0v2.0h-2.0zM504.4 274.1h1.4v1.4h-1.4zM404.3 223.4h2.4v2.4h-2.4zM528.5 231.3h2.3v2.3h-2.3zM665.5 282.5h1.5v1.5h-1.5zM424.8 149.0h1.7v1.7h-1.7zM436.0 141.1h1.2v1.2h-1.2zM417.2 221.6h1.3v1.3h-1.3zM474.6 376.9h2.6v2.6h-2.6zM498.1 305.5h1.8v1.8h-1.8zM612.4 256.6h1.4v1.4h-1.4zM406.5 221.1h1.4v1.4h-1.4zM458.3 139.1h2.5v2.5h-2.5zM479.7 290.5h2.5v2.5h-2.5zM443.5 233.3h1.9v1.9h-1.9zM512.5 377.3h1.1v1.1h-1.1zM667.4 257.6h2.7v2.7h-2.7zM534.4 257.6h2.2v2.2h-2.2zM677.0 324.5h1.6v1.6h-1.6zM413.1 234.6h1.4v1.4h-1.4zM437.8 154.1h2.4v2.4h-2.4zM516.5 258.1h2.9v2.9h-2.9zM689.1 291.2h2.4v2.4h-2.4zM515.4 287.4h1.8v1.8h-1.8zM677.8 326.5h1.5v1.5h-1.5zM432.6 132.4h1.7v1.7h-1.7zM425.6 155.6h2.5v2.5h-2.5zM437.8 135.6h1.3v1.3h-1.3zM452.7 142.0h1.9v1.9h-1.9zM410.5 213.2h1.4v1.4h-1.4zM435.0 161.9h2.3v2.3h-2.3zM429.8 126.1h1.8v1.8h-1.8zM406.6 217.4h1.6v1.6h-1.6zM406.2 219.0h2.5v2.5h-2.5zM541.0 238.8h1.8v1.8h-1.8zM509.3 301.0h1.5v1.5h-1.5zM595.0 237.0h2.3v2.3h-2.3zM442.8 198.1h1.3v1.3h-1.3zM431.2 210.6h2.4v2.4h-2.4zM433.3 126.7h2.8v2.8h-2.8zM436.4 140.8h1.4v1.4h-1.4zM453.5 124.3h2.3v2.3h-2.3zM493.0 371.4h2.4v2.4h-2.4zM453.9 139.4h2.2v2.2h-2.2zM661.4 304.7h2.2v2.2h-2.2zM418.1 231.9h1.3v1.3h-1.3zM509.2 377.3h1.8v1.8h-1.8zM602.6 214.1h2.5v2.5h-2.5zM446.6 237.3h2.8v2.8h-2.8zM511.2 312.1h1.9v1.9h-1.9zM603.3 251.7h1.7v1.7h-1.7zM461.0 117.3h2.4v2.4h-2.4zM470.1 297.6h2.7v2.7h-2.7zM609.8 240.2h1.6v1.6h-1.6zM529.7 224.2h2.1v2.1h-2.1zM651.2 289.3h2.2v2.2h-2.2zM486.2 368.3h1.7v1.7h-1.7zM509.7 402.4h2.7v2.7h-2.7zM471.8 141.0h2.0v2.0h-2.0zM611.9 215.4h1.2v1.2h-1.2zM589.2 250.7h1.6v1.6h-1.6zM531.0 258.4h1.8v1.8h-1.8zM692.4 302.9h2.1v2.1h-2.1zM442.7 203.6h1.3v1.3h-1.3zM595.9 232.3h1.8v1.8h-1.8zM442.9 139.2h1.2v1.2h-1.2zM455.5 128.2h2.3v2.3h-2.3zM612.4 231.2h1.2v1.2h-1.2zM682.9 274.9h2.5v2.5h-2.5zM592.4 219.4h1.9v1.9h-1.9zM430.9 205.0h1.7v1.7h-1.7zM430.4 135.3h1.3v1.3h-1.3zM464.3 296.9h2.4v2.4h-2.4zM512.6 395.8h1.4v1.4h-1.4zM500.1 407.8h1.4v1.4h-1.4zM684.0 301.6h2.7v2.7h-2.7zM432.5 198.8h2.3v2.3h-2.3zM538.2 252.5h2.0v2.0h-2.0zM424.2 132.3h2.1v2.1h-2.1zM531.8 220.1h2.3v2.3h-2.3zM488.8 286.1h1.8v1.8h-1.8zM655.9 291.0h2.8v2.8h-2.8zM666.4 325.4h2.8v2.8h-2.8zM599.3 226.0h2.2v2.2h-2.2zM522.0 258.1h2.6v2.6h-2.6zM521.1 233.5h2.2v2.2h-2.2zM435.1 119.8h1.3v1.3h-1.3zM466.8 295.5h1.7v1.7h-1.7zM431.3 196.4h2.1v2.1h-2.1zM480.9 355.7h2.0v2.0h-2.0zM502.1 361.1h1.1v1.1h-1.1zM496.4 298.3h1.6v1.6h-1.6zM513.3 293.9h1.3v1.3h-1.3zM436.7 123.5h2.4v2.4h-2.4zM430.0 154.4h2.2v2.2h-2.2zM540.4 226.6h2.1v2.1h-2.1zM640.5 289.6h2.3v2.3h-2.3zM459.2 130.1h2.8v2.8h-2.8zM677.3 290.4h2.4v2.4h-2.4zM649.1 270.3h2.6v2.6h-2.6zM696.7 276.2h2.2v2.2h-2.2zM527.0 230.9h2.4v2.4h-2.4zM667.7 305.9h2.3v2.3h-2.3zM513.6 290.7h1.3v1.3h-1.3zM423.1 149.0h1.3v1.3h-1.3zM457.5 139.0h2.8v2.8h-2.8zM453.0 153.4h1.2v1.2h-1.2zM426.4 140.0h1.7v1.7h-1.7zM647.7 288.0h2.0v2.0h-2.0zM536.7 254.7h1.8v1.8h-1.8zM674.1 303.4h1.7v1.7h-1.7zM665.2 315.2h2.2v2.2h-2.2zM620.8 234.9h2.8v2.8h-2.8zM456.4 150.8h1.5v1.5h-1.5zM700.0 284.7h1.7v1.7h-1.7zM413.5 233.6h1.6v1.6h-1.6zM533.5 228.5h2.5v2.5h-2.5zM580.6 237.0h2.3v2.3h-2.3zM648.0 290.1h1.4v1.4h-1.4zM511.1 237.6h1.5v1.5h-1.5zM687.4 275.2h1.3v1.3h-1.3zM537.5 222.5h2.4v2.4h-2.4zM476.1 357.5h2.4v2.4h-2.4zM513.8 299.9h1.1v1.1h-1.1zM455.0 227.8h2.1v2.1h-2.1zM690.9 280.1h1.9v1.9h-1.9zM490.2 382.3h2.3v2.3h-2.3zM547.0 242.0h1.2v1.2h-1.2zM440.0 130.8h2.8v2.8h-2.8zM423.6 242.9h2.2v2.2h-2.2zM444.4 124.5h1.8v1.8h-1.8zM421.6 142.8h1.3v1.3h-1.3zM502.1 354.6h1.6v1.6h-1.6zM481.6 320.6h2.8v2.8h-2.8zM674.1 290.8h2.7v2.7h-2.7zM491.2 297.2h2.2v2.2h-2.2zM522.1 239.3h1.5v1.5h-1.5zM677.2 314.7h2.6v2.6h-2.6zM496.5 306.7h2.6v2.6h-2.6zM693.4 310.7h2.1v2.1h-2.1zM459.6 115.1h2.9v2.9h-2.9zM591.1 229.8h2.3v2.3h-2.3zM458.2 149.8h2.0v2.0h-2.0zM659.4 308.2h1.5v1.5h-1.5zM427.8 124.8h1.7v1.7h-1.7zM585.0 255.7h2.3v2.3h-2.3zM474.6 289.3h1.6v1.6h-1.6zM501.8 395.3h2.5v2.5h-2.5zM490.7 398.5h2.3v2.3h-2.3zM684.3 280.2h1.7v1.7h-1.7zM435.5 139.3h2.2v2.2h-2.2zM445.4 196.0h1.3v1.3h-1.3zM534.0 258.6h2.2v2.2h-2.2zM451.3 201.4h2.2v2.2h-2.2zM496.0 367.6h1.1v1.1h-1.1zM421.8 133.0h1.9v1.9h-1.9zM480.8 305.5h2.5v2.5h-2.5zM453.7 150.9h1.2v1.2h-1.2zM651.2 291.3h2.6v2.6h-2.6zM490.7 285.8h1.4v1.4h-1.4zM488.3 276.6h1.7v1.7h-1.7zM673.3 275.3h1.6v1.6h-1.6zM686.8 295.7h2.7v2.7h-2.7zM653.2 307.0h2.7v2.7h-2.7zM459.6 136.6h2.3v2.3h-2.3zM520.0 232.1h2.4v2.4h-2.4zM515.8 235.3h1.8v1.8h-1.8zM411.2 216.6h2.7v2.7h-2.7zM511.5 252.1h1.7v1.7h-1.7zM597.2 234.0h2.7v2.7h-2.7zM599.7 242.5h2.2v2.2h-2.2zM679.9 303.0h2.2v2.2h-2.2zM419.8 202.7h1.7v1.7h-1.7zM409.6 221.6h1.5v1.5h-1.5zM479.4 281.8h1.5v1.5h-1.5zM479.7 290.8h2.2v2.2h-2.2zM452.1 131.9h1.4v1.4h-1.4zM471.7 293.6h2.8v2.8h-2.8zM461.1 120.9h2.6v2.6h-2.6zM434.8 241.8h1.9v1.9h-1.9zM608.0 258.2h2.2v2.2h-2.2zM475.9 282.2h1.4v1.4h-1.4zM689.4 283.3h1.2v1.2h-1.2zM486.8 387.7h1.4v1.4h-1.4zM519.8 222.5h2.2v2.2h-2.2zM468.7 299.7h1.2v1.2h-1.2zM520.4 240.8h1.9v1.9h-1.9zM507.2 284.5h1.1v1.1h-1.1zM476.3 378.8h1.2v1.2h-1.2zM508.7 250.1h1.9v1.9h-1.9zM477.6 402.2h2.7v2.7h-2.7zM416.1 225.5h2.5v2.5h-2.5zM424.2 246.5h1.8v1.8h-1.8zM702.6 293.4h1.1v1.1h-1.1zM529.1 242.0h2.3v2.3h-2.3zM665.1 296.4h1.8v1.8h-1.8zM441.7 154.9h2.1v2.1h-2.1zM457.0 138.5h1.4v1.4h-1.4zM531.2 226.1h1.7v1.7h-1.7zM506.1 243.1h2.1v2.1h-2.1zM491.3 353.1h2.3v2.3h-2.3zM644.6 301.9h1.4v1.4h-1.4zM640.6 290.0h2.5v2.5h-2.5zM459.1 164.3h1.1v1.1h-1.1zM439.0 200.3h2.2v2.2h-2.2zM443.3 224.9h1.2v1.2h-1.2zM438.4 110.4h1.8v1.8h-1.8zM523.4 262.4h1.2v1.2h-1.2zM478.4 281.9h1.4v1.4h-1.4zM526.9 244.7h2.2v2.2h-2.2zM522.2 224.4h2.3v2.3h-2.3zM672.3 292.7h1.4v1.4h-1.4zM445.4 126.2h1.8v1.8h-1.8zM642.5 289.0h1.2v1.2h-1.2zM405.5 211.0h2.1v2.1h-2.1zM659.2 310.6h1.5v1.5h-1.5zM651.0 298.6h1.1v1.1h-1.1zM482.7 301.4h1.2v1.2h-1.2zM438.9 145.2h2.0v2.0h-2.0zM457.0 124.9h2.1v2.1h-2.1zM616.2 231.2h2.5v2.5h-2.5zM688.4 287.9h1.9v1.9h-1.9zM427.9 140.7h1.8v1.8h-1.8zM664.6 277.0h1.6v1.6h-1.6zM669.1 291.3h2.6v2.6h-2.6zM666.5 313.2h2.4v2.4h-2.4zM693.3 303.0h1.9v1.9h-1.9zM675.9 310.8h1.4v1.4h-1.4zM656.0 291.8h2.4v2.4h-2.4zM445.8 148.7h1.5v1.5h-1.5zM676.0 298.3h2.7v2.7h-2.7zM577.4 219.8h2.1v2.1h-2.1zM453.6 124.2h1.6v1.6h-1.6zM420.7 139.7h2.7v2.7h-2.7zM428.0 150.7h1.3v1.3h-1.3zM532.5 226.4h2.1v2.1h-2.1zM515.9 257.3h2.5v2.5h-2.5zM619.1 232.5h1.9v1.9h-1.9zM456.6 139.8h2.1v2.1h-2.1zM657.2 309.9h1.4v1.4h-1.4zM444.0 153.8h2.2v2.2h-2.2zM678.5 306.9h1.8v1.8h-1.8zM661.5 303.8h1.9v1.9h-1.9zM512.6 292.6h2.5v2.5h-2.5zM448.0 123.1h2.6v2.6h-2.6zM693.1 319.4h1.3v1.3h-1.3zM451.8 157.4h2.9v2.9h-2.9zM515.8 238.3h2.0v2.0h-2.0zM427.7 132.7h1.8v1.8h-1.8zM513.4 305.2h1.9v1.9h-1.9zM413.5 224.4h1.7v1.7h-1.7zM509.5 234.1h1.7v1.7h-1.7zM513.7 399.7h2.8v2.8h-2.8zM646.9 278.8h2.0v2.0h-2.0zM431.8 153.2h2.0v2.0h-2.0zM609.4 225.1h1.6v1.6h-1.6zM504.6 279.0h2.8v2.8h-2.8zM478.2 363.9h2.6v2.6h-2.6zM445.5 227.5h1.6v1.6h-1.6zM438.8 122.4h1.8v1.8h-1.8zM600.9 209.0h2.4v2.4h-2.4zM542.0 238.2h1.4v1.4h-1.4zM453.4 149.4h1.5v1.5h-1.5zM434.9 237.6h1.3v1.3h-1.3zM591.7 234.6h1.8v1.8h-1.8zM449.0 233.6h1.2v1.2h-1.2zM488.7 395.0h1.6v1.6h-1.6zM507.8 315.2h1.1v1.1h-1.1zM681.0 281.0h1.9v1.9h-1.9zM543.2 234.8h1.3v1.3h-1.3zM535.3 256.0h2.2v2.2h-2.2zM470.4 377.6h1.6v1.6h-1.6zM660.5 293.7h1.2v1.2h-1.2zM435.6 147.5h1.6v1.6h-1.6zM417.4 135.5h1.3v1.3h-1.3zM440.5 138.9h2.7v2.7h-2.7zM588.1 258.9h2.5v2.5h-2.5zM679.7 267.4h1.4v1.4h-1.4zM517.5 244.9h2.4v2.4h-2.4zM501.0 368.9h1.2v1.2h-1.2zM640.7 288.5h2.2v2.2h-2.2zM438.5 157.1h2.5v2.5h-2.5zM497.2 388.5h1.3v1.3h-1.3zM414.7 201.3h1.6v1.6h-1.6zM597.8 240.0h1.2v1.2h-1.2zM549.6 244.1h1.6v1.6h-1.6zM485.0 272.9h1.5v1.5h-1.5zM503.0 297.2h1.8v1.8h-1.8zM614.7 235.4h2.5v2.5h-2.5zM691.2 302.7h1.3v1.3h-1.3zM443.9 133.1h1.9v1.9h-1.9zM685.9 281.4h1.8v1.8h-1.8zM462.1 157.4h1.5v1.5h-1.5zM596.7 264.1h1.4v1.4h-1.4zM400.5 215.0h1.9v1.9h-1.9zM450.7 135.3h2.4v2.4h-2.4zM516.8 239.3h2.2v2.2h-2.2zM666.6 297.9h2.3v2.3h-2.3zM432.1 239.1h1.1v1.1h-1.1zM431.2 132.1h1.5v1.5h-1.5zM420.9 126.6h2.3v2.3h-2.3zM484.5 302.3h1.4v1.4h-1.4zM422.6 202.4h2.8v2.8h-2.8zM465.1 147.5h2.3v2.3h-2.3zM439.6 228.7h2.8v2.8h-2.8zM677.9 276.6h1.4v1.4h-1.4zM486.6 389.1h2.7v2.7h-2.7zM590.2 215.7h2.1v2.1h-2.1zM600.5 247.3h1.7v1.7h-1.7zM591.4 260.7h2.7v2.7h-2.7zM536.5 254.5h1.9v1.9h-1.9zM428.3 134.8h2.5v2.5h-2.5zM521.5 247.9h1.1v1.1h-1.1zM673.7 279.6h2.4v2.4h-2.4zM531.7 232.0h2.3v2.3h-2.3zM534.6 250.6h1.8v1.8h-1.8zM686.2 303.9h1.2v1.2h-1.2zM492.4 300.8h1.3v1.3h-1.3zM693.1 306.9h2.6v2.6h-2.6zM573.0 232.4h1.5v1.5h-1.5zM676.3 313.2h1.1v1.1h-1.1zM652.7 263.6h2.6v2.6h-2.6zM598.0 229.3h2.1v2.1h-2.1zM506.0 357.3h1.2v1.2h-1.2zM424.0 135.1h2.6v2.6h-2.6zM457.9 209.3h1.3v1.3h-1.3zM656.9 288.9h2.0v2.0h-2.0zM641.0 277.3h2.1v2.1h-2.1zM521.6 244.4h2.2v2.2h-2.2zM662.4 273.3h1.8v1.8h-1.8zM436.4 230.0h1.8v1.8h-1.8zM661.8 276.5h2.2v2.2h-2.2zM686.6 280.7h2.9v2.9h-2.9zM654.6 302.0h2.6v2.6h-2.6zM657.6 280.4h1.5v1.5h-1.5zM537.4 235.5h2.8v2.8h-2.8zM596.7 236.3h1.1v1.1h-1.1zM429.4 129.4h2.9v2.9h-2.9zM465.0 140.1h1.5v1.5h-1.5zM694.2 294.8h2.3v2.3h-2.3zM456.6 131.2h2.1v2.1h-2.1zM506.0 306.9h1.4v1.4h-1.4zM431.9 151.6h1.5v1.5h-1.5zM454.1 146.1h2.7v2.7h-2.7zM425.8 192.9h1.4v1.4h-1.4zM416.1 209.4h2.4v2.4h-2.4zM499.9 384.0h2.5v2.5h-2.5zM683.5 280.2h2.8v2.8h-2.8zM439.5 208.3h2.3v2.3h-2.3zM427.4 121.6h1.2v1.2h-1.2zM543.9 245.4h1.3v1.3h-1.3zM525.0 232.6h2.3v2.3h-2.3zM519.4 376.1h2.1v2.1h-2.1zM432.8 234.9h1.8v1.8h-1.8zM479.7 312.2h2.4v2.4h-2.4zM522.7 244.7h2.0v2.0h-2.0zM491.7 276.8h1.4v1.4h-1.4zM486.1 369.9h2.2v2.2h-2.2zM527.8 246.5h2.5v2.5h-2.5zM664.7 274.9h1.3v1.3h-1.3zM478.4 389.3h1.7v1.7h-1.7zM444.6 126.8h1.7v1.7h-1.7zM582.2 222.5h2.7v2.7h-2.7zM678.3 312.0h2.4v2.4h-2.4zM434.8 223.0h2.8v2.8h-2.8zM507.6 277.8h1.1v1.1h-1.1zM423.1 238.4h1.7v1.7h-1.7zM531.5 256.4h2.4v2.4h-2.4zM509.6 243.3h1.3v1.3h-1.3zM422.5 158.9h2.0v2.0h-2.0zM448.2 148.9h2.5v2.5h-2.5zM460.2 145.2h1.1v1.1h-1.1zM480.4 359.8h2.7v2.7h-2.7zM673.8 288.9h2.6v2.6h-2.6zM495.6 398.8h2.8v2.8h-2.8zM447.0 206.9h2.2v2.2h-2.2zM438.2 238.5h1.9v1.9h-1.9zM471.0 146.2h1.6v1.6h-1.6zM587.4 242.9h1.7v1.7h-1.7zM663.0 302.2h2.9v2.9h-2.9zM527.3 246.5h1.5v1.5h-1.5zM515.3 364.2h1.1v1.1h-1.1zM538.0 237.8h1.7v1.7h-1.7zM489.1 373.6h1.8v1.8h-1.8zM649.0 305.1h1.8v1.8h-1.8zM453.5 132.1h2.1v2.1h-2.1zM656.4 269.9h2.3v2.3h-2.3zM684.3 276.9h2.3v2.3h-2.3zM539.7 232.7h2.7v2.7h-2.7zM478.5 278.7h1.4v1.4h-1.4zM402.9 209.0h1.3v1.3h-1.3zM677.5 284.3h1.1v1.1h-1.1zM683.7 281.0h1.8v1.8h-1.8zM595.1 210.4h2.2v2.2h-2.2zM448.8 147.1h1.3v1.3h-1.3zM445.0 115.7h1.6v1.6h-1.6zM658.5 282.8h1.1v1.1h-1.1zM422.0 199.7h2.0v2.0h-2.0zM591.5 218.9h2.6v2.6h-2.6zM585.0 238.0h1.5v1.5h-1.5zM494.5 377.5h1.6v1.6h-1.6zM498.4 405.4h1.4v1.4h-1.4zM702.2 305.0h2.9v2.9h-2.9zM585.6 211.4h2.7v2.7h-2.7zM488.6 384.1h2.4v2.4h-2.4zM490.0 362.0h2.8v2.8h-2.8zM507.3 237.4h2.5v2.5h-2.5zM539.0 250.0h2.7v2.7h-2.7zM649.8 289.1h2.4v2.4h-2.4zM512.8 252.9h2.8v2.8h-2.8zM666.4 313.4h1.6v1.6h-1.6zM428.9 142.2h2.2v2.2h-2.2zM432.4 112.4h1.9v1.9h-1.9zM612.9 246.9h1.4v1.4h-1.4zM537.3 251.6h1.9v1.9h-1.9zM464.1 303.1h2.7v2.7h-2.7zM609.2 244.3h2.2v2.2h-2.2zM488.3 286.6h1.3v1.3h-1.3zM590.2 229.6h2.4v2.4h-2.4zM521.1 235.2h2.1v2.1h-2.1zM446.1 110.4h2.1v2.1h-2.1zM495.2 304.7h2.5v2.5h-2.5zM428.0 146.7h2.5v2.5h-2.5zM592.6 247.1h2.7v2.7h-2.7zM703.0 293.1h1.1v1.1h-1.1zM609.1 220.1h1.1v1.1h-1.1zM597.6 257.3h1.9v1.9h-1.9zM472.7 389.7h1.1v1.1h-1.1zM524.5 257.8h2.6v2.6h-2.6zM684.6 295.8h2.3v2.3h-2.3zM446.1 143.1h2.1v2.1h-2.1zM440.1 145.0h1.3v1.3h-1.3zM497.6 308.4h2.3v2.3h-2.3zM534.4 254.1h2.1v2.1h-2.1zM456.7 148.1h1.7v1.7h-1.7zM504.7 356.9h2.6v2.6h-2.6zM426.8 229.3h2.3v2.3h-2.3zM436.4 151.6h1.5v1.5h-1.5zM662.9 284.2h2.4v2.4h-2.4zM543.0 239.5h2.3v2.3h-2.3zM425.0 148.1h1.5v1.5h-1.5zM689.5 283.2h2.0v2.0h-2.0zM583.9 236.3h2.2v2.2h-2.2zM444.2 139.3h1.1v1.1h-1.1zM428.7 205.2h2.2v2.2h-2.2zM479.0 389.8h2.1v2.1h-2.1zM687.8 293.2h1.6v1.6h-1.6zM422.5 239.0h1.7v1.7h-1.7zM456.1 150.4h1.8v1.8h-1.8zM449.1 127.1h2.6v2.6h-2.6zM617.4 223.2h2.2v2.2h-2.2zM606.2 251.3h2.6v2.6h-2.6zM649.5 296.7h2.8v2.8h-2.8zM451.0 124.6h2.4v2.4h-2.4zM668.6 290.7h2.1v2.1h-2.1zM679.3 269.6h1.7v1.7h-1.7zM488.5 300.3h2.9v2.9h-2.9zM537.1 227.1h1.8v1.8h-1.8zM446.8 199.1h2.3v2.3h-2.3zM669.1 279.7h1.2v1.2h-1.2zM650.0 315.1h1.6v1.6h-1.6zM525.2 247.6h2.5v2.5h-2.5zM692.3 280.3h1.1v1.1h-1.1zM605.1 229.9h1.7v1.7h-1.7zM593.4 215.5h2.5v2.5h-2.5zM490.5 286.7h2.8v2.8h-2.8zM524.1 233.5h2.4v2.4h-2.4zM576.5 253.2h1.3v1.3h-1.3zM459.4 131.3h2.1v2.1h-2.1zM416.2 243.8h1.3v1.3h-1.3zM461.7 141.5h2.2v2.2h-2.2zM665.5 306.0h1.6v1.6h-1.6zM675.0 271.9h1.6v1.6h-1.6zM489.3 299.2h2.2v2.2h-2.2zM540.8 250.6h2.1v2.1h-2.1zM454.7 153.5h1.6v1.6h-1.6zM680.8 308.7h2.7v2.7h-2.7zM520.5 243.7h1.9v1.9h-1.9zM448.4 143.3h1.8v1.8h-1.8zM482.3 270.4h2.2v2.2h-2.2zM583.9 225.1h2.6v2.6h-2.6zM546.2 250.6h2.5v2.5h-2.5zM510.6 309.5h2.3v2.3h-2.3zM405.8 225.5h2.4v2.4h-2.4zM569.5 241.3h1.3v1.3h-1.3zM454.5 131.5h2.3v2.3h-2.3zM677.6 269.2h1.9v1.9h-1.9zM452.2 142.9h1.9v1.9h-1.9zM486.5 312.0h2.1v2.1h-2.1zM543.5 252.6h2.5v2.5h-2.5zM665.9 289.8h1.6v1.6h-1.6zM581.2 246.3h2.2v2.2h-2.2zM536.6 254.2h1.2v1.2h-1.2zM682.1 266.9h2.5v2.5h-2.5zM477.7 373.5h2.3v2.3h-2.3zM485.4 288.8h2.8v2.8h-2.8zM612.4 250.3h1.7v1.7h-1.7zM434.9 207.1h2.8v2.8h-2.8zM409.6 204.4h2.2v2.2h-2.2zM483.1 402.6h1.2v1.2h-1.2zM685.0 261.4h2.7v2.7h-2.7zM444.0 114.6h1.9v1.9h-1.9zM430.3 149.9h1.4v1.4h-1.4zM664.9 312.9h2.3v2.3h-2.3zM487.6 352.3h2.9v2.9h-2.9zM426.2 124.7h2.6v2.6h-2.6zM461.7 146.4h2.8v2.8h-2.8zM435.2 113.0h1.7v1.7h-1.7zM449.8 130.7h2.3v2.3h-2.3zM476.1 363.1h1.8v1.8h-1.8zM470.5 374.1h1.9v1.9h-1.9zM641.8 281.1h1.7v1.7h-1.7zM510.7 405.4h2.3v2.3h-2.3zM512.7 297.9h1.3v1.3h-1.3zM581.1 213.1h1.3v1.3h-1.3zM478.6 281.9h1.9v1.9h-1.9zM479.5 366.8h1.8v1.8h-1.8zM586.0 244.8h1.8v1.8h-1.8zM418.8 126.2h1.5v1.5h-1.5zM525.3 261.8h2.1v2.1h-2.1zM465.1 135.6h2.3v2.3h-2.3zM404.6 205.1h1.2v1.2h-1.2zM549.3 238.4h2.5v2.5h-2.5zM575.6 233.6h2.2v2.2h-2.2zM641.7 296.6h2.8v2.8h-2.8zM421.0 198.7h2.1v2.1h-2.1zM461.4 126.9h1.1v1.1h-1.1zM576.5 234.1h2.4v2.4h-2.4zM476.2 404.8h1.6v1.6h-1.6zM515.9 301.6h2.4v2.4h-2.4zM457.3 144.9h1.4v1.4h-1.4zM433.7 125.2h2.4v2.4h-2.4zM440.9 147.3h2.0v2.0h-2.0zM442.9 156.4h1.6v1.6h-1.6zM450.5 139.9h1.4v1.4h-1.4zM481.0 281.9h1.4v1.4h-1.4zM640.4 294.5h2.6v2.6h-2.6zM696.3 289.3h2.2v2.2h-2.2zM502.7 275.3h1.8v1.8h-1.8zM495.3 400.6h2.2v2.2h-2.2zM644.0 277.3h1.2v1.2h-1.2zM443.5 131.7h1.4v1.4h-1.4zM473.0 383.5h2.8v2.8h-2.8zM529.9 259.1h1.8v1.8h-1.8zM456.0 155.6h1.1v1.1h-1.1zM584.3 246.5h2.0v2.0h-2.0zM460.9 151.6h1.7v1.7h-1.7zM475.5 365.6h1.6v1.6h-1.6zM442.0 145.6h2.3v2.3h-2.3zM470.2 387.1h1.5v1.5h-1.5zM642.8 287.8h2.9v2.9h-2.9zM652.0 285.5h2.6v2.6h-2.6zM424.3 150.2h2.3v2.3h-2.3zM674.7 305.3h1.4v1.4h-1.4zM437.6 133.9h2.1v2.1h-2.1zM698.3 283.1h2.4v2.4h-2.4zM450.0 231.1h1.8v1.8h-1.8zM508.7 281.9h1.5v1.5h-1.5zM591.8 229.4h1.9v1.9h-1.9zM445.0 120.6h2.3v2.3h-2.3zM671.1 314.2h1.6v1.6h-1.6zM430.5 151.0h1.2v1.2h-1.2zM445.0 143.6h2.8v2.8h-2.8zM660.5 282.5h2.0v2.0h-2.0zM472.0 291.1h2.2v2.2h-2.2zM451.9 206.1h1.3v1.3h-1.3zM452.7 229.6h2.5v2.5h-2.5zM452.0 131.8h2.2v2.2h-2.2zM434.8 125.4h2.3v2.3h-2.3zM474.2 370.7h2.8v2.8h-2.8zM578.0 238.1h2.4v2.4h-2.4zM427.8 218.0h2.8v2.8h-2.8zM610.2 249.5h2.9v2.9h-2.9zM665.2 277.4h2.2v2.2h-2.2zM411.7 239.8h1.7v1.7h-1.7zM597.2 221.2h1.4v1.4h-1.4zM541.4 244.5h1.4v1.4h-1.4zM513.0 366.6h1.7v1.7h-1.7zM445.1 206.1h1.4v1.4h-1.4zM451.7 162.6h2.1v2.1h-2.1zM576.7 251.8h2.2v2.2h-2.2zM571.0 230.5h1.9v1.9h-1.9zM449.5 140.3h2.5v2.5h-2.5zM431.3 146.5h2.3v2.3h-2.3zM510.0 245.2h2.7v2.7h-2.7zM489.6 282.8h1.2v1.2h-1.2zM485.6 295.8h2.7v2.7h-2.7zM444.5 163.5h1.1v1.1h-1.1zM465.7 124.0h1.3v1.3h-1.3zM493.2 289.5h2.6v2.6h-2.6zM403.4 219.7h1.5v1.5h-1.5zM643.2 305.5h2.8v2.8h-2.8zM480.5 407.3h2.1v2.1h-2.1zM478.2 321.0h1.5v1.5h-1.5zM428.8 129.7h1.3v1.3h-1.3zM490.6 284.6h1.7v1.7h-1.7zM465.4 306.5h1.2v1.2h-1.2zM436.1 196.0h1.8v1.8h-1.8zM509.8 298.3h1.1v1.1h-1.1zM510.9 285.3h2.1v2.1h-2.1zM425.5 148.6h2.5v2.5h-2.5zM496.0 317.4h2.0v2.0h-2.0zM494.6 393.2h2.3v2.3h-2.3zM485.8 274.9h1.2v1.2h-1.2zM442.3 140.4h1.5v1.5h-1.5zM459.3 216.3h2.2v2.2h-2.2zM512.8 240.1h2.2v2.2h-2.2zM669.1 306.8h2.5v2.5h-2.5zM584.3 235.7h2.7v2.7h-2.7zM433.1 126.3h1.9v1.9h-1.9zM654.4 276.1h1.9v1.9h-1.9zM428.5 190.4h1.4v1.4h-1.4zM432.3 139.5h2.7v2.7h-2.7zM582.9 227.4h1.4v1.4h-1.4zM673.2 300.4h1.5v1.5h-1.5zM669.5 259.5h1.8v1.8h-1.8zM696.3 304.3h1.2v1.2h-1.2zM511.7 403.8h1.9v1.9h-1.9zM480.0 395.7h1.4v1.4h-1.4zM683.4 290.6h1.3v1.3h-1.3zM441.0 148.8h1.9v1.9h-1.9zM501.9 396.0h2.7v2.7h-2.7zM495.3 274.1h2.2v2.2h-2.2zM471.8 286.4h1.5v1.5h-1.5zM506.5 364.0h2.9v2.9h-2.9zM603.4 223.0h2.4v2.4h-2.4zM672.5 315.2h1.5v1.5h-1.5zM512.7 282.3h1.8v1.8h-1.8zM462.6 143.8h2.5v2.5h-2.5zM425.8 147.1h2.5v2.5h-2.5zM415.8 223.2h2.1v2.1h-2.1zM436.5 121.3h1.5v1.5h-1.5zM666.6 311.6h1.2v1.2h-1.2zM590.5 226.1h1.9v1.9h-1.9zM463.5 136.2h1.3v1.3h-1.3zM504.9 406.5h2.2v2.2h-2.2zM447.6 132.4h2.7v2.7h-2.7zM658.3 289.0h2.4v2.4h-2.4zM518.8 236.2h2.3v2.3h-2.3zM670.9 285.6h2.8v2.8h-2.8zM678.4 286.6h1.7v1.7h-1.7zM434.5 148.2h2.1v2.1h-2.1zM405.8 209.4h1.3v1.3h-1.3zM672.5 300.3h1.9v1.9h-1.9zM672.7 261.6h1.7v1.7h-1.7zM429.0 139.0h1.2v1.2h-1.2zM662.1 306.3h2.0v2.0h-2.0zM408.1 222.7h2.6v2.6h-2.6zM430.0 142.7h2.3v2.3h-2.3zM441.0 245.4h1.2v1.2h-1.2zM506.4 370.8h2.8v2.8h-2.8zM435.4 227.9h1.3v1.3h-1.3zM504.1 281.5h2.2v2.2h-2.2zM426.7 147.6h2.8v2.8h-2.8zM585.1 251.1h2.2v2.2h-2.2zM443.8 141.6h2.5v2.5h-2.5zM519.4 229.9h1.7v1.7h-1.7zM651.5 293.6h2.0v2.0h-2.0zM516.8 245.4h1.3v1.3h-1.3zM448.2 148.8h2.0v2.0h-2.0zM443.6 134.3h1.7v1.7h-1.7zM617.4 230.3h1.4v1.4h-1.4zM522.8 261.7h2.6v2.6h-2.6zM494.5 303.5h2.9v2.9h-2.9zM474.3 302.4h1.4v1.4h-1.4zM428.2 113.7h1.3v1.3h-1.3zM585.2 233.3h1.6v1.6h-1.6zM425.8 151.2h1.3v1.3h-1.3zM605.4 230.6h2.8v2.8h-2.8z" fill="#2af02e" opacity="0.85" filter="url(#mdot)"/>
<path d="M658.3 404.2h1.9v1.9h-1.9zM572.4 386.9h2.0v2.0h-2.0zM679.1 61.9h1.9v1.9h-1.9zM548.7 409.2h1.6v1.6h-1.6zM524.6 113.2h1.3v1.3h-1.3zM612.5 97.3h1.4v1.4h-1.4zM388.6 257.9h1.7v1.7h-1.7zM430.6 308.9h1.2v1.2h-1.2zM394.7 71.5h1.9v1.9h-1.9zM422.8 73.0h1.6v1.6h-1.6zM671.9 65.7h2.2v2.2h-2.2zM363.0 262.3h1.5v1.5h-1.5zM611.9 114.8h1.4v1.4h-1.4zM558.1 396.7h1.9v1.9h-1.9zM552.3 386.1h1.5v1.5h-1.5zM614.3 310.4h1.5v1.5h-1.5zM633.7 120.2h1.0v1.0h-1.0zM417.9 353.6h1.7v1.7h-1.7zM391.0 260.0h2.0v2.0h-2.0zM426.8 76.0h1.3v1.3h-1.3zM580.2 329.2h2.0v2.0h-2.0zM612.8 364.3h1.3v1.3h-1.3zM574.8 407.8h2.1v2.1h-2.1zM702.1 220.0h1.2v1.2h-1.2zM519.7 109.6h1.8v1.8h-1.8zM357.6 280.7h2.2v2.2h-2.2zM631.2 126.5h1.8v1.8h-1.8zM521.5 106.8h2.3v2.3h-2.3zM398.4 67.4h1.6v1.6h-1.6zM634.5 90.5h1.6v1.6h-1.6zM396.3 89.0h0.9v0.9h-0.9zM721.8 223.4h1.4v1.4h-1.4zM599.9 343.6h1.4v1.4h-1.4zM376.4 274.9h1.3v1.3h-1.3zM643.8 402.1h1.2v1.2h-1.2zM370.7 282.8h2.0v2.0h-2.0zM641.9 415.9h2.1v2.1h-2.1zM717.0 235.8h1.4v1.4h-1.4zM631.6 397.7h0.9v0.9h-0.9zM643.7 423.5h1.5v1.5h-1.5zM613.8 345.4h1.2v1.2h-1.2zM431.2 312.0h1.9v1.9h-1.9zM656.5 392.0h1.9v1.9h-1.9zM391.1 85.9h1.1v1.1h-1.1zM622.7 328.6h1.3v1.3h-1.3zM382.4 261.9h2.3v2.3h-2.3zM647.9 394.3h1.9v1.9h-1.9zM511.1 87.8h1.1v1.1h-1.1zM598.0 322.9h1.2v1.2h-1.2zM392.3 84.2h1.1v1.1h-1.1zM515.2 73.4h1.0v1.0h-1.0zM426.5 78.7h1.8v1.8h-1.8zM562.7 411.0h1.0v1.0h-1.0zM373.7 279.7h1.1v1.1h-1.1zM695.1 99.4h1.2v1.2h-1.2zM381.7 254.2h2.0v2.0h-2.0zM730.6 215.6h1.1v1.1h-1.1zM650.1 390.7h1.6v1.6h-1.6zM423.1 85.2h0.9v0.9h-0.9zM421.1 306.4h1.1v1.1h-1.1zM663.8 406.2h2.2v2.2h-2.2zM655.1 394.9h1.9v1.9h-1.9zM577.1 349.2h1.2v1.2h-1.2zM386.7 251.7h1.6v1.6h-1.6zM640.2 121.6h1.1v1.1h-1.1zM393.8 73.3h1.4v1.4h-1.4zM715.5 217.8h1.4v1.4h-1.4zM397.8 84.8h2.0v2.0h-2.0zM378.3 277.7h1.7v1.7h-1.7zM731.8 217.6h2.1v2.1h-2.1zM567.5 396.8h0.9v0.9h-0.9zM364.6 279.4h1.5v1.5h-1.5zM367.0 274.9h1.5v1.5h-1.5zM707.5 76.1h2.2v2.2h-2.2zM631.4 349.9h1.4v1.4h-1.4zM697.1 67.7h1.2v1.2h-1.2zM618.9 91.9h1.9v1.9h-1.9zM672.9 68.2h2.1v2.1h-2.1zM608.1 120.8h2.3v2.3h-2.3zM543.6 401.4h1.6v1.6h-1.6zM408.9 90.5h1.8v1.8h-1.8zM629.2 342.6h2.1v2.1h-2.1zM542.4 380.0h1.5v1.5h-1.5zM365.4 285.8h1.8v1.8h-1.8zM400.7 61.7h1.6v1.6h-1.6zM559.2 421.5h1.6v1.6h-1.6zM701.7 214.3h1.7v1.7h-1.7zM515.9 95.7h1.5v1.5h-1.5zM400.0 83.4h1.4v1.4h-1.4zM563.2 404.3h1.8v1.8h-1.8zM725.2 213.8h1.5v1.5h-1.5zM716.4 205.8h1.1v1.1h-1.1zM358.7 279.7h1.7v1.7h-1.7zM530.3 405.6h1.6v1.6h-1.6zM619.6 124.3h1.4v1.4h-1.4zM360.9 290.3h1.4v1.4h-1.4zM502.8 91.8h1.4v1.4h-1.4zM709.7 82.7h1.4v1.4h-1.4zM389.5 84.7h1.5v1.5h-1.5zM503.6 85.2h1.8v1.8h-1.8zM704.5 88.1h2.2v2.2h-2.2zM407.6 77.9h1.4v1.4h-1.4zM544.2 388.5h1.6v1.6h-1.6zM618.9 125.8h1.7v1.7h-1.7zM367.0 260.9h1.7v1.7h-1.7zM569.8 414.3h1.4v1.4h-1.4zM653.5 391.2h1.1v1.1h-1.1zM710.5 229.1h1.6v1.6h-1.6zM417.9 61.7h1.3v1.3h-1.3zM504.6 117.1h2.1v2.1h-2.1zM688.5 72.2h2.1v2.1h-2.1zM399.4 68.8h1.7v1.7h-1.7zM637.8 407.3h2.0v2.0h-2.0zM373.7 270.4h1.3v1.3h-1.3zM363.1 277.6h1.5v1.5h-1.5zM671.1 77.3h1.7v1.7h-1.7zM497.4 82.9h1.2v1.2h-1.2zM558.6 425.8h2.0v2.0h-2.0zM550.6 421.7h2.1v2.1h-2.1zM641.0 96.9h1.0v1.0h-1.0zM420.1 337.6h1.1v1.1h-1.1zM370.4 266.4h1.5v1.5h-1.5zM395.8 60.2h1.3v1.3h-1.3zM712.9 211.0h1.8v1.8h-1.8zM622.2 115.1h0.9v0.9h-0.9zM704.6 222.5h1.5v1.5h-1.5zM374.5 275.8h1.3v1.3h-1.3zM509.6 122.0h1.8v1.8h-1.8zM600.1 333.1h1.9v1.9h-1.9zM536.2 106.3h1.4v1.4h-1.4zM731.9 205.1h1.5v1.5h-1.5zM367.2 238.3h1.5v1.5h-1.5zM606.1 360.7h1.6v1.6h-1.6zM388.9 72.0h2.3v2.3h-2.3zM647.1 425.1h1.2v1.2h-1.2zM410.6 62.6h2.1v2.1h-2.1zM628.2 84.5h2.2v2.2h-2.2zM432.2 338.0h2.3v2.3h-2.3zM534.0 415.1h1.0v1.0h-1.0zM633.5 420.0h1.4v1.4h-1.4zM609.0 107.2h1.3v1.3h-1.3zM587.3 357.1h2.1v2.1h-2.1zM495.2 76.4h1.0v1.0h-1.0zM369.8 275.6h2.2v2.2h-2.2zM369.9 289.6h1.3v1.3h-1.3zM387.3 244.6h1.7v1.7h-1.7zM435.5 317.6h2.2v2.2h-2.2zM642.8 94.7h1.3v1.3h-1.3zM419.6 352.5h1.1v1.1h-1.1zM537.0 384.7h2.0v2.0h-2.0zM624.6 92.7h1.0v1.0h-1.0zM537.0 404.7h2.1v2.1h-2.1zM637.0 89.0h2.1v2.1h-2.1zM707.2 218.5h1.8v1.8h-1.8zM646.4 393.1h0.9v0.9h-0.9zM503.6 87.8h1.5v1.5h-1.5zM374.8 285.7h1.8v1.8h-1.8zM370.0 250.6h1.3v1.3h-1.3zM370.0 266.1h1.9v1.9h-1.9zM359.3 258.4h1.1v1.1h-1.1zM593.4 312.7h2.1v2.1h-2.1zM439.3 337.9h1.5v1.5h-1.5zM643.4 97.3h1.2v1.2h-1.2zM530.9 86.5h1.8v1.8h-1.8zM418.6 73.4h1.9v1.9h-1.9zM626.5 345.3h1.8v1.8h-1.8zM619.2 347.4h2.3v2.3h-2.3zM424.8 76.3h2.0v2.0h-2.0zM561.5 386.8h1.2v1.2h-1.2zM434.3 351.5h2.0v2.0h-2.0zM718.9 206.8h1.5v1.5h-1.5zM406.1 315.6h1.3v1.3h-1.3zM371.1 284.4h2.0v2.0h-2.0zM507.4 110.9h1.8v1.8h-1.8zM412.0 345.2h1.6v1.6h-1.6zM485.1 101.8h2.3v2.3h-2.3zM612.8 85.5h1.9v1.9h-1.9zM689.2 86.2h1.0v1.0h-1.0zM386.4 248.0h1.4v1.4h-1.4zM709.1 71.0h1.8v1.8h-1.8zM531.1 97.9h1.4v1.4h-1.4zM616.5 96.8h2.2v2.2h-2.2zM498.6 90.2h1.6v1.6h-1.6zM380.0 248.7h1.4v1.4h-1.4zM637.9 410.4h1.4v1.4h-1.4zM574.7 338.4h1.3v1.3h-1.3zM383.4 248.5h2.2v2.2h-2.2zM699.2 60.5h1.6v1.6h-1.6zM631.7 95.9h2.3v2.3h-2.3zM576.9 328.1h1.8v1.8h-1.8zM562.4 405.5h1.2v1.2h-1.2zM500.0 99.2h1.6v1.6h-1.6zM430.6 74.8h1.0v1.0h-1.0zM388.6 252.2h1.6v1.6h-1.6zM421.0 58.5h1.1v1.1h-1.1zM412.2 86.1h2.1v2.1h-2.1zM653.6 392.5h1.9v1.9h-1.9zM404.8 317.7h1.7v1.7h-1.7zM698.2 98.4h1.3v1.3h-1.3zM543.0 381.4h0.9v0.9h-0.9zM374.1 278.6h1.4v1.4h-1.4zM413.9 68.1h1.0v1.0h-1.0zM358.3 280.7h1.3v1.3h-1.3zM382.8 279.5h1.8v1.8h-1.8zM543.2 421.0h2.0v2.0h-2.0zM702.9 93.7h2.1v2.1h-2.1zM717.4 223.7h1.0v1.0h-1.0zM679.1 88.8h1.2v1.2h-1.2zM640.9 117.6h1.1v1.1h-1.1zM616.3 126.1h1.8v1.8h-1.8zM403.0 93.7h2.0v2.0h-2.0zM732.0 210.4h1.4v1.4h-1.4zM416.9 61.4h1.6v1.6h-1.6zM602.6 107.9h1.5v1.5h-1.5zM628.5 87.0h1.5v1.5h-1.5zM635.7 114.6h2.3v2.3h-2.3zM371.2 290.8h1.1v1.1h-1.1zM533.6 399.0h1.0v1.0h-1.0zM531.1 411.3h1.6v1.6h-1.6zM629.0 335.8h1.3v1.3h-1.3zM413.0 328.5h1.0v1.0h-1.0zM422.8 67.3h1.6v1.6h-1.6zM637.9 116.4h1.7v1.7h-1.7zM709.5 231.0h2.0v2.0h-2.0zM528.5 112.3h1.2v1.2h-1.2zM607.7 332.8h1.5v1.5h-1.5zM712.2 234.6h2.0v2.0h-2.0zM543.6 392.7h2.3v2.3h-2.3zM605.7 345.9h2.3v2.3h-2.3zM723.6 214.4h1.7v1.7h-1.7zM508.4 99.0h1.8v1.8h-1.8zM544.4 380.0h2.3v2.3h-2.3zM687.0 66.9h2.1v2.1h-2.1zM677.4 92.8h1.9v1.9h-1.9zM623.9 98.4h1.1v1.1h-1.1zM428.1 331.8h2.3v2.3h-2.3zM516.7 118.8h1.8v1.8h-1.8zM633.7 85.7h1.7v1.7h-1.7zM404.4 89.3h1.6v1.6h-1.6zM530.7 114.7h2.0v2.0h-2.0zM569.5 397.9h2.1v2.1h-2.1zM689.4 90.8h2.1v2.1h-2.1zM623.1 105.7h1.8v1.8h-1.8zM643.7 102.0h2.0v2.0h-2.0zM686.9 57.6h1.0v1.0h-1.0zM601.9 106.7h1.8v1.8h-1.8zM380.1 272.0h1.2v1.2h-1.2zM493.3 94.0h1.4v1.4h-1.4zM406.8 92.4h2.2v2.2h-2.2zM387.9 75.9h1.4v1.4h-1.4zM634.6 107.1h1.2v1.2h-1.2zM363.2 257.9h1.7v1.7h-1.7zM363.1 288.0h2.1v2.1h-2.1zM356.0 281.5h1.9v1.9h-1.9zM643.1 99.3h1.9v1.9h-1.9zM379.4 237.4h2.1v2.1h-2.1zM694.3 97.1h1.0v1.0h-1.0zM560.7 410.1h1.8v1.8h-1.8zM414.9 54.5h1.6v1.6h-1.6zM427.9 335.7h0.9v0.9h-0.9zM713.9 225.1h2.1v2.1h-2.1zM652.1 407.2h1.5v1.5h-1.5zM691.5 95.4h1.6v1.6h-1.6zM378.3 237.5h2.0v2.0h-2.0zM646.1 413.7h1.9v1.9h-1.9zM642.3 402.5h1.0v1.0h-1.0zM560.3 378.5h2.0v2.0h-2.0zM412.2 58.0h2.1v2.1h-2.1zM411.4 71.4h1.1v1.1h-1.1zM373.9 283.5h1.4v1.4h-1.4zM714.6 202.2h1.6v1.6h-1.6zM416.4 85.8h2.1v2.1h-2.1zM417.6 63.3h1.5v1.5h-1.5zM512.0 122.4h1.4v1.4h-1.4zM651.8 415.0h1.9v1.9h-1.9zM608.3 121.0h1.1v1.1h-1.1zM638.4 410.4h2.1v2.1h-2.1zM641.4 93.1h2.3v2.3h-2.3zM650.8 394.9h0.9v0.9h-0.9zM607.3 312.9h1.6v1.6h-1.6zM419.3 81.0h2.3v2.3h-2.3zM587.2 346.0h1.0v1.0h-1.0zM374.9 287.3h2.3v2.3h-2.3zM379.0 269.5h1.5v1.5h-1.5zM364.9 266.5h1.9v1.9h-1.9zM376.6 252.4h1.3v1.3h-1.3zM641.3 401.3h1.5v1.5h-1.5zM371.7 288.8h2.0v2.0h-2.0zM361.2 281.8h2.1v2.1h-2.1zM364.1 282.8h1.3v1.3h-1.3zM493.9 92.9h1.9v1.9h-1.9zM582.4 335.5h1.2v1.2h-1.2zM633.2 401.3h2.0v2.0h-2.0zM632.1 342.2h1.7v1.7h-1.7zM719.9 236.5h1.9v1.9h-1.9zM651.0 409.3h1.4v1.4h-1.4zM364.0 278.7h2.0v2.0h-2.0zM393.7 80.8h0.9v0.9h-0.9zM390.8 251.0h2.3v2.3h-2.3zM684.3 58.2h1.9v1.9h-1.9zM690.2 90.9h1.9v1.9h-1.9zM680.4 62.7h1.6v1.6h-1.6zM440.5 341.4h1.2v1.2h-1.2zM368.6 255.1h1.5v1.5h-1.5zM626.2 107.9h2.2v2.2h-2.2zM554.5 408.8h1.9v1.9h-1.9zM605.9 95.7h1.5v1.5h-1.5zM704.9 210.6h2.3v2.3h-2.3zM551.5 386.3h1.1v1.1h-1.1zM659.2 418.5h1.1v1.1h-1.1zM651.8 401.1h1.2v1.2h-1.2zM562.7 404.1h1.7v1.7h-1.7zM398.1 67.0h1.1v1.1h-1.1zM685.5 94.8h1.1v1.1h-1.1zM730.1 218.5h1.6v1.6h-1.6zM618.9 356.4h1.0v1.0h-1.0zM726.0 212.9h2.1v2.1h-2.1zM571.9 402.7h1.0v1.0h-1.0zM492.6 107.5h1.7v1.7h-1.7zM377.4 240.8h1.9v1.9h-1.9zM694.5 85.1h1.8v1.8h-1.8zM548.1 393.5h1.9v1.9h-1.9zM414.7 58.1h1.5v1.5h-1.5zM438.3 321.9h1.0v1.0h-1.0zM378.2 271.3h1.8v1.8h-1.8zM597.8 316.0h2.0v2.0h-2.0zM712.5 216.4h1.7v1.7h-1.7zM443.6 324.8h2.0v2.0h-2.0zM670.2 76.5h1.6v1.6h-1.6zM531.1 115.9h1.2v1.2h-1.2zM508.9 109.4h2.1v2.1h-2.1zM670.5 85.8h1.8v1.8h-1.8zM605.9 95.5h2.2v2.2h-2.2zM364.1 257.3h2.1v2.1h-2.1zM370.7 256.4h2.3v2.3h-2.3zM651.0 412.9h1.3v1.3h-1.3zM421.1 92.7h1.9v1.9h-1.9zM499.5 87.0h0.9v0.9h-0.9zM508.8 105.8h1.1v1.1h-1.1zM373.9 270.2h2.2v2.2h-2.2zM518.2 120.2h1.7v1.7h-1.7zM535.0 400.8h2.3v2.3h-2.3zM731.8 224.2h1.5v1.5h-1.5zM572.3 405.4h2.2v2.2h-2.2zM507.7 124.2h1.9v1.9h-1.9zM428.0 310.3h1.1v1.1h-1.1zM683.7 82.5h1.8v1.8h-1.8zM428.0 320.8h1.7v1.7h-1.7zM608.6 316.6h1.5v1.5h-1.5zM646.5 406.3h1.6v1.6h-1.6zM684.2 100.5h0.9v0.9h-0.9zM551.1 414.3h1.9v1.9h-1.9zM379.4 245.9h2.1v2.1h-2.1zM735.5 223.9h1.7v1.7h-1.7zM733.0 227.8h2.1v2.1h-2.1zM666.1 406.2h1.2v1.2h-1.2zM657.8 403.0h1.9v1.9h-1.9zM363.2 239.6h1.9v1.9h-1.9zM719.7 239.0h1.4v1.4h-1.4zM566.6 398.1h2.2v2.2h-2.2zM603.3 337.0h1.6v1.6h-1.6zM502.4 80.9h2.2v2.2h-2.2zM554.3 383.6h2.0v2.0h-2.0zM362.8 270.4h2.2v2.2h-2.2zM364.1 280.4h2.3v2.3h-2.3zM628.4 92.1h1.2v1.2h-1.2zM523.4 109.4h1.2v1.2h-1.2zM512.0 101.2h1.3v1.3h-1.3zM380.8 268.2h1.8v1.8h-1.8zM427.9 347.7h1.4v1.4h-1.4zM702.3 219.8h1.8v1.8h-1.8zM519.6 121.1h1.5v1.5h-1.5zM706.3 213.1h1.7v1.7h-1.7zM368.2 267.6h1.8v1.8h-1.8zM614.3 342.7h1.0v1.0h-1.0zM735.7 211.3h2.2v2.2h-2.2zM724.6 234.1h2.3v2.3h-2.3zM362.2 277.6h1.7v1.7h-1.7zM569.3 402.2h1.9v1.9h-1.9zM382.0 283.5h1.5v1.5h-1.5zM618.0 125.5h1.6v1.6h-1.6zM371.2 252.5h1.9v1.9h-1.9zM508.0 115.0h1.5v1.5h-1.5zM498.2 107.0h2.2v2.2h-2.2zM524.2 96.1h1.9v1.9h-1.9zM417.7 70.4h1.4v1.4h-1.4zM404.3 70.2h1.6v1.6h-1.6zM492.7 85.1h1.4v1.4h-1.4zM719.0 232.5h2.3v2.3h-2.3zM520.1 79.1h1.2v1.2h-1.2zM411.7 57.8h2.0v2.0h-2.0zM364.1 280.4h2.3v2.3h-2.3zM492.0 115.3h1.9v1.9h-1.9zM629.3 348.7h1.0v1.0h-1.0zM685.0 74.9h1.9v1.9h-1.9zM664.6 412.1h1.5v1.5h-1.5zM689.2 68.4h1.8v1.8h-1.8zM362.4 272.5h1.6v1.6h-1.6zM635.6 91.8h1.4v1.4h-1.4zM371.2 270.0h1.4v1.4h-1.4zM428.1 331.7h1.9v1.9h-1.9zM691.4 69.7h1.7v1.7h-1.7zM360.8 278.6h1.6v1.6h-1.6zM678.7 82.6h2.0v2.0h-2.0zM526.0 112.5h1.6v1.6h-1.6zM369.0 271.0h2.2v2.2h-2.2zM614.2 351.5h1.4v1.4h-1.4zM387.7 250.6h1.8v1.8h-1.8zM623.8 345.4h2.1v2.1h-2.1zM500.4 103.2h1.2v1.2h-1.2zM429.2 315.7h1.9v1.9h-1.9zM541.4 393.6h1.7v1.7h-1.7zM366.7 245.6h1.1v1.1h-1.1zM570.1 385.4h1.6v1.6h-1.6zM496.1 79.3h1.6v1.6h-1.6zM427.2 351.1h2.3v2.3h-2.3zM379.1 242.9h1.5v1.5h-1.5zM506.5 103.2h0.9v0.9h-0.9zM418.1 86.4h1.8v1.8h-1.8zM378.3 254.2h1.2v1.2h-1.2zM607.3 353.4h1.2v1.2h-1.2zM647.6 415.2h1.2v1.2h-1.2zM721.4 217.4h1.9v1.9h-1.9zM608.0 85.8h1.4v1.4h-1.4zM421.7 341.4h2.1v2.1h-2.1zM373.7 287.8h2.1v2.1h-2.1zM704.6 65.5h1.0v1.0h-1.0zM612.4 331.1h1.2v1.2h-1.2zM638.2 414.5h1.8v1.8h-1.8zM369.1 282.0h1.8v1.8h-1.8zM434.7 319.6h1.1v1.1h-1.1zM446.9 337.1h2.2v2.2h-2.2zM665.8 402.6h1.2v1.2h-1.2zM413.2 55.9h1.8v1.8h-1.8zM578.0 336.6h1.8v1.8h-1.8zM637.2 416.6h1.2v1.2h-1.2zM362.4 250.7h2.3v2.3h-2.3zM550.9 417.5h2.2v2.2h-2.2zM682.9 70.7h2.2v2.2h-2.2zM563.5 390.3h1.3v1.3h-1.3zM599.4 94.7h1.4v1.4h-1.4zM662.2 415.1h1.3v1.3h-1.3zM638.0 418.4h1.6v1.6h-1.6zM681.5 91.8h1.5v1.5h-1.5zM378.6 243.6h1.5v1.5h-1.5zM590.0 344.0h1.0v1.0h-1.0zM404.8 90.0h1.7v1.7h-1.7zM414.2 54.8h1.0v1.0h-1.0zM398.9 87.7h1.4v1.4h-1.4zM365.2 285.6h2.1v2.1h-2.1zM372.5 274.0h1.8v1.8h-1.8zM629.9 337.6h2.0v2.0h-2.0zM729.8 219.4h2.1v2.1h-2.1zM642.3 97.3h2.0v2.0h-2.0zM491.2 100.4h2.0v2.0h-2.0zM613.4 327.2h1.9v1.9h-1.9zM408.1 332.7h2.0v2.0h-2.0zM549.9 385.1h2.0v2.0h-2.0zM381.4 243.0h2.3v2.3h-2.3zM625.3 121.3h1.7v1.7h-1.7zM386.1 266.1h1.3v1.3h-1.3zM488.5 97.2h1.4v1.4h-1.4zM408.1 340.2h1.5v1.5h-1.5zM642.3 420.6h1.7v1.7h-1.7zM520.4 91.6h2.3v2.3h-2.3zM360.1 246.1h2.2v2.2h-2.2zM703.9 63.2h1.2v1.2h-1.2zM635.4 111.2h1.6v1.6h-1.6zM363.8 247.7h2.2v2.2h-2.2zM417.9 91.3h1.2v1.2h-1.2zM680.0 80.1h1.0v1.0h-1.0zM618.4 116.8h1.8v1.8h-1.8zM396.7 79.2h0.9v0.9h-0.9zM382.7 244.5h1.1v1.1h-1.1zM418.7 85.2h2.0v2.0h-2.0zM643.7 98.9h1.1v1.1h-1.1zM417.7 351.0h1.9v1.9h-1.9zM580.9 320.4h1.7v1.7h-1.7zM644.5 393.1h1.2v1.2h-1.2zM578.3 347.1h1.8v1.8h-1.8zM402.3 325.9h2.2v2.2h-2.2zM548.6 403.6h1.0v1.0h-1.0zM375.9 272.5h1.9v1.9h-1.9zM704.8 230.3h2.1v2.1h-2.1zM621.0 128.6h2.0v2.0h-2.0zM537.7 415.4h1.9v1.9h-1.9zM392.5 88.6h1.2v1.2h-1.2zM600.7 361.8h1.3v1.3h-1.3zM403.3 57.6h1.2v1.2h-1.2zM534.9 413.9h1.1v1.1h-1.1zM380.1 255.6h2.0v2.0h-2.0zM369.2 257.2h1.2v1.2h-1.2zM503.6 98.7h1.9v1.9h-1.9zM537.0 416.5h2.1v2.1h-2.1zM633.1 107.9h1.9v1.9h-1.9zM592.0 361.1h1.6v1.6h-1.6zM424.4 83.8h1.9v1.9h-1.9zM567.2 419.3h2.1v2.1h-2.1zM616.7 318.5h1.2v1.2h-1.2zM396.0 72.5h1.0v1.0h-1.0zM506.4 87.4h1.4v1.4h-1.4zM420.8 307.0h1.7v1.7h-1.7zM545.3 380.3h2.1v2.1h-2.1zM363.5 269.7h1.0v1.0h-1.0zM704.9 224.8h1.0v1.0h-1.0zM623.8 81.2h1.4v1.4h-1.4zM427.5 333.5h0.9v0.9h-0.9zM504.6 107.4h1.9v1.9h-1.9zM433.3 327.8h2.1v2.1h-2.1zM372.0 284.1h1.5v1.5h-1.5zM414.0 63.5h1.8v1.8h-1.8zM693.1 94.4h2.3v2.3h-2.3zM410.0 82.4h1.4v1.4h-1.4zM498.3 106.3h1.5v1.5h-1.5zM557.1 422.2h1.3v1.3h-1.3zM685.4 83.5h1.2v1.2h-1.2zM720.3 204.7h2.3v2.3h-2.3zM652.0 387.5h1.7v1.7h-1.7zM733.7 214.8h2.3v2.3h-2.3zM610.2 82.8h1.9v1.9h-1.9zM382.1 267.0h1.9v1.9h-1.9zM361.0 279.9h1.8v1.8h-1.8zM674.0 83.9h2.0v2.0h-2.0zM630.4 395.9h1.2v1.2h-1.2zM689.7 71.6h1.2v1.2h-1.2zM622.3 85.8h1.0v1.0h-1.0zM367.1 253.3h1.4v1.4h-1.4zM382.1 282.2h1.8v1.8h-1.8zM552.3 388.0h1.3v1.3h-1.3zM369.5 276.2h2.0v2.0h-2.0zM613.5 94.7h0.9v0.9h-0.9zM371.0 260.3h1.0v1.0h-1.0zM381.4 278.0h1.9v1.9h-1.9zM414.2 320.5h1.4v1.4h-1.4zM548.8 397.5h1.6v1.6h-1.6zM449.3 337.8h2.3v2.3h-2.3zM623.2 350.4h2.1v2.1h-2.1zM426.5 336.9h1.9v1.9h-1.9zM723.7 226.8h1.5v1.5h-1.5zM689.2 90.9h1.5v1.5h-1.5zM373.0 291.5h1.6v1.6h-1.6zM369.2 257.5h1.5v1.5h-1.5zM637.2 398.0h1.1v1.1h-1.1zM568.1 403.7h2.1v2.1h-2.1zM712.5 214.5h1.9v1.9h-1.9zM711.2 226.8h1.3v1.3h-1.3zM643.2 403.1h1.1v1.1h-1.1zM561.5 425.0h0.9v0.9h-0.9zM645.7 394.0h1.5v1.5h-1.5zM644.1 96.2h1.4v1.4h-1.4zM544.6 425.7h1.0v1.0h-1.0zM520.6 96.3h2.2v2.2h-2.2zM611.1 356.9h1.3v1.3h-1.3zM362.4 252.2h1.9v1.9h-1.9zM495.2 75.0h2.0v2.0h-2.0zM402.4 333.6h1.4v1.4h-1.4zM380.6 281.4h1.1v1.1h-1.1zM671.8 84.3h1.3v1.3h-1.3zM673.6 70.9h1.1v1.1h-1.1zM411.1 57.3h2.2v2.2h-2.2zM614.7 81.7h1.0v1.0h-1.0zM433.4 323.0h1.5v1.5h-1.5zM704.2 218.7h2.2v2.2h-2.2zM683.8 92.0h2.2v2.2h-2.2zM421.7 85.4h2.0v2.0h-2.0zM602.3 351.5h2.0v2.0h-2.0zM727.3 219.4h1.6v1.6h-1.6zM425.7 82.9h1.7v1.7h-1.7zM367.2 288.3h1.2v1.2h-1.2zM600.6 325.6h1.2v1.2h-1.2zM390.4 81.4h1.2v1.2h-1.2zM511.3 72.2h1.2v1.2h-1.2zM599.2 114.1h1.1v1.1h-1.1zM373.0 285.7h1.4v1.4h-1.4zM722.5 220.7h1.2v1.2h-1.2zM549.8 395.4h1.0v1.0h-1.0zM498.8 76.0h1.0v1.0h-1.0zM423.9 329.7h1.8v1.8h-1.8zM731.8 213.5h1.4v1.4h-1.4zM610.5 122.9h1.4v1.4h-1.4zM382.1 237.0h1.9v1.9h-1.9zM601.9 89.0h2.2v2.2h-2.2zM429.7 75.6h1.5v1.5h-1.5zM614.5 339.8h1.7v1.7h-1.7zM412.7 344.4h1.8v1.8h-1.8zM533.3 400.6h0.9v0.9h-0.9zM381.7 276.2h0.9v0.9h-0.9zM387.3 240.3h2.0v2.0h-2.0zM358.9 282.9h1.5v1.5h-1.5zM692.3 66.3h2.3v2.3h-2.3zM575.8 399.9h2.2v2.2h-2.2zM618.4 116.0h1.1v1.1h-1.1zM659.6 393.5h1.9v1.9h-1.9zM528.6 115.2h1.3v1.3h-1.3zM383.0 278.8h1.6v1.6h-1.6zM569.7 397.2h1.7v1.7h-1.7zM431.2 351.0h1.9v1.9h-1.9zM426.8 89.0h0.9v0.9h-0.9zM388.2 244.3h1.2v1.2h-1.2zM709.1 202.1h1.9v1.9h-1.9z" fill="#2af02e" opacity="0.8" filter="url(#mdot)"/>
<path d="M604.1 405.7h1.4v1.4h-1.4zM531.3 352.0h1.1v1.1h-1.1zM418.2 258.7h1.7v1.7h-1.7zM351.3 160.2h1.7v1.7h-1.7zM636.7 322.0h1.4v1.4h-1.4zM654.5 424.2h1.2v1.2h-1.2zM422.6 124.9h1.0v1.0h-1.0zM371.1 159.1h1.4v1.4h-1.4zM403.4 413.9h1.3v1.3h-1.3zM378.0 147.9h1.1v1.1h-1.1zM634.2 146.6h1.4v1.4h-1.4zM404.2 179.5h1.2v1.2h-1.2zM648.4 352.5h1.7v1.7h-1.7zM377.4 296.1h1.4v1.4h-1.4zM368.9 18.8h1.6v1.6h-1.6zM457.3 360.8h1.0v1.0h-1.0zM416.6 303.2h0.9v0.9h-0.9zM443.3 331.2h1.6v1.6h-1.6zM672.6 29.7h1.1v1.1h-1.1zM535.7 306.8h1.0v1.0h-1.0zM680.8 258.0h1.4v1.4h-1.4zM414.7 138.2h1.8v1.8h-1.8zM349.2 358.4h0.9v0.9h-0.9zM625.5 373.9h1.7v1.7h-1.7zM418.7 326.4h1.7v1.7h-1.7zM650.6 377.7h1.5v1.5h-1.5zM449.9 359.9h1.7v1.7h-1.7zM391.3 24.3h1.1v1.1h-1.1zM502.1 215.6h1.1v1.1h-1.1zM488.8 45.4h1.5v1.5h-1.5zM442.9 405.8h1.5v1.5h-1.5zM554.9 56.4h1.1v1.1h-1.1zM657.4 382.0h0.8v0.8h-0.8zM717.3 143.8h1.4v1.4h-1.4zM567.1 202.2h1.2v1.2h-1.2zM701.5 103.7h1.6v1.6h-1.6zM406.7 290.9h1.1v1.1h-1.1zM684.2 58.1h1.6v1.6h-1.6zM685.1 174.2h1.8v1.8h-1.8zM610.3 86.6h0.8v0.8h-0.8zM473.6 215.5h1.7v1.7h-1.7zM373.8 233.4h1.1v1.1h-1.1zM506.6 77.9h1.5v1.5h-1.5zM427.4 65.5h1.1v1.1h-1.1zM451.8 267.7h0.9v0.9h-0.9zM637.4 343.3h1.8v1.8h-1.8zM606.4 53.1h1.2v1.2h-1.2zM668.4 176.8h1.4v1.4h-1.4zM511.7 20.2h0.8v0.8h-0.8zM375.4 286.4h1.7v1.7h-1.7zM418.6 263.3h1.8v1.8h-1.8zM526.2 309.1h0.8v0.8h-0.8zM573.4 177.4h1.8v1.8h-1.8zM620.1 141.7h0.9v0.9h-0.9zM460.9 317.1h1.7v1.7h-1.7zM550.3 186.6h1.5v1.5h-1.5zM489.8 361.0h1.6v1.6h-1.6zM547.1 42.0h1.6v1.6h-1.6zM550.9 361.7h1.4v1.4h-1.4zM641.1 102.8h1.4v1.4h-1.4zM373.5 380.0h1.5v1.5h-1.5zM326.7 204.6h1.1v1.1h-1.1zM340.7 258.5h1.4v1.4h-1.4zM361.1 123.7h1.5v1.5h-1.5zM360.0 68.0h1.0v1.0h-1.0zM730.4 87.5h1.8v1.8h-1.8zM601.4 120.5h0.8v0.8h-0.8zM722.2 398.2h1.0v1.0h-1.0zM548.9 74.3h1.2v1.2h-1.2zM455.6 400.4h1.8v1.8h-1.8zM579.1 231.2h1.5v1.5h-1.5zM603.3 34.3h0.8v0.8h-0.8zM384.1 377.7h1.0v1.0h-1.0zM380.7 248.8h1.4v1.4h-1.4zM441.0 323.8h1.2v1.2h-1.2zM555.5 125.4h1.4v1.4h-1.4zM392.7 207.9h1.7v1.7h-1.7zM609.1 413.4h0.9v0.9h-0.9zM410.1 281.8h1.0v1.0h-1.0zM590.5 288.3h1.5v1.5h-1.5zM561.4 289.4h1.3v1.3h-1.3zM393.4 363.1h1.1v1.1h-1.1zM655.4 175.3h1.8v1.8h-1.8zM428.4 129.5h1.3v1.3h-1.3zM612.1 187.4h1.1v1.1h-1.1zM361.6 399.9h1.6v1.6h-1.6zM386.0 353.2h1.0v1.0h-1.0zM365.7 430.0h1.0v1.0h-1.0zM724.8 346.7h0.9v0.9h-0.9zM545.7 385.7h1.4v1.4h-1.4zM663.7 55.6h1.1v1.1h-1.1zM565.1 134.6h1.0v1.0h-1.0zM366.1 35.5h1.1v1.1h-1.1zM640.4 91.4h1.6v1.6h-1.6zM609.4 349.0h1.3v1.3h-1.3zM695.2 185.5h1.4v1.4h-1.4zM433.1 305.7h1.5v1.5h-1.5zM600.8 75.5h1.3v1.3h-1.3zM436.7 403.9h1.4v1.4h-1.4zM479.9 344.2h1.5v1.5h-1.5zM500.2 209.0h1.2v1.2h-1.2zM473.3 213.7h1.0v1.0h-1.0zM724.8 235.4h1.5v1.5h-1.5zM712.8 111.9h1.4v1.4h-1.4zM360.7 144.4h1.6v1.6h-1.6zM680.1 284.1h0.8v0.8h-0.8zM425.2 54.7h1.3v1.3h-1.3zM359.6 135.9h1.7v1.7h-1.7zM664.0 19.4h1.7v1.7h-1.7zM609.3 410.1h0.9v0.9h-0.9zM533.6 305.1h1.5v1.5h-1.5zM548.5 68.2h0.7v0.7h-0.7zM404.6 367.4h0.7v0.7h-0.7zM503.1 241.4h1.1v1.1h-1.1zM742.2 294.8h1.7v1.7h-1.7zM744.4 415.1h1.5v1.5h-1.5zM342.3 205.3h0.9v0.9h-0.9zM715.3 338.2h1.7v1.7h-1.7zM398.0 170.7h0.9v0.9h-0.9zM472.9 36.7h1.3v1.3h-1.3zM396.1 425.8h1.1v1.1h-1.1zM609.7 367.0h1.6v1.6h-1.6zM685.1 137.9h1.2v1.2h-1.2zM435.6 16.0h1.4v1.4h-1.4zM489.6 405.7h1.7v1.7h-1.7zM727.5 233.1h1.7v1.7h-1.7zM717.5 392.8h1.6v1.6h-1.6zM348.5 17.6h1.2v1.2h-1.2zM449.9 60.6h1.1v1.1h-1.1zM628.5 185.6h0.7v0.7h-0.7zM505.5 98.7h1.3v1.3h-1.3zM702.0 188.8h1.7v1.7h-1.7zM327.4 341.0h1.0v1.0h-1.0zM522.4 173.7h1.1v1.1h-1.1zM699.7 242.4h1.0v1.0h-1.0zM740.5 293.0h1.2v1.2h-1.2zM383.4 331.7h0.7v0.7h-0.7zM696.2 315.6h0.8v0.8h-0.8zM444.2 71.7h1.2v1.2h-1.2zM463.5 28.4h1.4v1.4h-1.4zM722.9 421.1h1.8v1.8h-1.8zM374.3 222.2h1.3v1.3h-1.3zM610.9 68.9h1.5v1.5h-1.5zM652.4 184.3h1.5v1.5h-1.5zM636.6 364.9h0.9v0.9h-0.9zM727.3 351.0h0.9v0.9h-0.9zM468.9 20.8h1.5v1.5h-1.5zM346.2 366.5h1.2v1.2h-1.2zM575.4 18.5h1.2v1.2h-1.2zM443.0 50.1h1.2v1.2h-1.2zM584.3 324.1h0.9v0.9h-0.9zM442.7 63.9h1.0v1.0h-1.0zM619.2 297.3h1.2v1.2h-1.2zM523.9 346.7h0.8v0.8h-0.8zM631.7 274.0h0.9v0.9h-0.9zM684.1 281.6h0.9v0.9h-0.9zM375.1 185.1h1.0v1.0h-1.0zM405.4 77.3h0.7v0.7h-0.7zM408.3 381.1h1.1v1.1h-1.1zM544.8 311.3h1.8v1.8h-1.8zM417.8 195.8h0.8v0.8h-0.8zM504.2 37.2h0.8v0.8h-0.8zM477.1 414.2h1.5v1.5h-1.5zM428.4 394.3h0.9v0.9h-0.9zM324.6 294.8h1.1v1.1h-1.1zM444.2 133.7h1.4v1.4h-1.4zM505.5 121.9h1.3v1.3h-1.3zM464.8 62.2h1.4v1.4h-1.4zM611.8 341.5h0.9v0.9h-0.9zM475.8 357.9h1.5v1.5h-1.5zM572.2 271.3h1.0v1.0h-1.0zM440.6 262.8h0.8v0.8h-0.8zM369.0 281.6h1.4v1.4h-1.4zM341.3 424.9h1.7v1.7h-1.7zM668.1 96.8h1.2v1.2h-1.2zM365.7 413.8h1.4v1.4h-1.4zM450.9 215.7h1.5v1.5h-1.5zM548.9 80.4h0.9v0.9h-0.9zM500.0 316.2h1.7v1.7h-1.7zM643.6 373.3h1.3v1.3h-1.3zM470.3 170.0h1.4v1.4h-1.4zM373.7 199.8h1.2v1.2h-1.2zM544.4 418.2h1.6v1.6h-1.6zM394.2 130.9h1.8v1.8h-1.8zM446.4 420.1h0.8v0.8h-0.8zM733.1 95.4h1.6v1.6h-1.6zM532.5 240.5h1.3v1.3h-1.3zM355.8 200.4h1.3v1.3h-1.3zM560.8 180.3h1.4v1.4h-1.4zM411.3 16.6h1.3v1.3h-1.3zM573.1 18.6h1.7v1.7h-1.7zM539.8 228.3h1.5v1.5h-1.5zM433.3 376.2h1.0v1.0h-1.0zM437.4 65.7h1.0v1.0h-1.0zM548.6 138.6h1.4v1.4h-1.4zM720.7 132.9h0.9v0.9h-0.9zM691.4 36.6h1.8v1.8h-1.8zM740.7 104.2h0.8v0.8h-0.8zM596.8 282.7h1.8v1.8h-1.8zM460.6 415.6h1.7v1.7h-1.7zM435.1 71.4h1.7v1.7h-1.7zM448.3 432.2h1.4v1.4h-1.4zM328.5 165.5h1.5v1.5h-1.5zM442.2 123.8h0.7v0.7h-0.7zM600.5 382.3h1.7v1.7h-1.7zM569.5 320.9h1.5v1.5h-1.5zM722.0 124.0h1.4v1.4h-1.4zM578.5 102.4h1.2v1.2h-1.2zM460.6 101.4h1.4v1.4h-1.4zM685.3 182.6h1.2v1.2h-1.2zM631.5 199.0h0.9v0.9h-0.9zM525.8 225.1h1.2v1.2h-1.2zM667.3 89.6h1.3v1.3h-1.3zM721.2 91.6h1.0v1.0h-1.0zM454.6 389.7h1.6v1.6h-1.6zM613.6 94.8h0.9v0.9h-0.9zM503.6 207.7h1.4v1.4h-1.4zM493.8 322.0h0.9v0.9h-0.9zM640.2 20.3h0.8v0.8h-0.8zM486.1 62.0h0.7v0.7h-0.7zM673.8 411.1h0.9v0.9h-0.9zM647.9 128.2h1.7v1.7h-1.7zM576.8 350.9h0.7v0.7h-0.7zM657.1 244.5h1.6v1.6h-1.6zM683.2 51.3h0.9v0.9h-0.9zM643.6 392.7h1.6v1.6h-1.6zM453.7 218.0h1.0v1.0h-1.0zM552.9 128.3h1.3v1.3h-1.3zM333.2 33.9h1.3v1.3h-1.3zM367.5 390.5h1.2v1.2h-1.2zM325.0 110.2h1.0v1.0h-1.0zM486.5 164.8h1.0v1.0h-1.0zM711.9 304.8h1.5v1.5h-1.5zM625.0 396.8h1.3v1.3h-1.3zM740.7 109.9h1.8v1.8h-1.8zM442.9 47.5h1.1v1.1h-1.1zM476.2 406.9h0.8v0.8h-0.8zM342.6 79.1h1.2v1.2h-1.2zM465.2 91.9h1.2v1.2h-1.2zM699.9 306.0h1.4v1.4h-1.4zM445.2 385.9h1.0v1.0h-1.0zM534.4 171.5h1.0v1.0h-1.0zM705.6 353.1h1.6v1.6h-1.6zM686.6 429.0h1.6v1.6h-1.6zM386.0 77.7h1.2v1.2h-1.2zM659.3 428.3h1.6v1.6h-1.6zM371.8 195.9h1.5v1.5h-1.5zM385.4 152.1h0.9v0.9h-0.9zM647.1 164.4h1.3v1.3h-1.3zM526.7 426.9h1.4v1.4h-1.4zM591.8 73.4h1.7v1.7h-1.7zM711.9 177.3h1.3v1.3h-1.3zM550.9 223.6h1.3v1.3h-1.3zM421.0 50.4h1.5v1.5h-1.5zM545.7 343.7h1.6v1.6h-1.6zM416.6 52.1h1.1v1.1h-1.1zM409.9 375.3h1.1v1.1h-1.1zM523.9 71.9h0.8v0.8h-0.8zM707.4 167.7h1.6v1.6h-1.6zM651.8 74.1h1.2v1.2h-1.2zM675.3 248.3h1.7v1.7h-1.7zM501.6 104.5h1.0v1.0h-1.0zM638.4 64.6h1.5v1.5h-1.5zM384.4 325.4h1.5v1.5h-1.5zM503.2 38.2h0.8v0.8h-0.8zM568.9 216.9h1.4v1.4h-1.4zM391.0 77.5h0.9v0.9h-0.9zM427.2 20.2h1.6v1.6h-1.6zM499.5 339.2h1.2v1.2h-1.2zM383.0 238.2h1.7v1.7h-1.7zM522.1 321.1h1.2v1.2h-1.2zM595.8 20.9h0.8v0.8h-0.8zM349.5 287.1h1.4v1.4h-1.4zM397.4 83.1h1.1v1.1h-1.1zM502.5 416.6h1.2v1.2h-1.2zM623.5 124.3h1.3v1.3h-1.3zM452.8 111.1h1.7v1.7h-1.7zM438.7 54.1h1.1v1.1h-1.1zM724.4 329.8h1.2v1.2h-1.2zM347.7 181.0h1.6v1.6h-1.6zM735.1 271.5h0.8v0.8h-0.8zM615.4 217.1h1.4v1.4h-1.4zM495.0 176.5h0.8v0.8h-0.8zM480.7 194.9h1.0v1.0h-1.0zM368.0 168.5h1.6v1.6h-1.6zM465.6 116.7h0.9v0.9h-0.9zM369.4 105.1h0.7v0.7h-0.7zM707.1 94.8h0.9v0.9h-0.9zM715.4 117.1h0.8v0.8h-0.8zM563.8 33.8h1.8v1.8h-1.8zM528.0 35.7h0.8v0.8h-0.8zM453.9 430.1h1.5v1.5h-1.5zM727.7 227.0h1.1v1.1h-1.1zM488.8 166.0h0.9v0.9h-0.9zM607.8 155.1h1.7v1.7h-1.7zM535.9 227.6h1.6v1.6h-1.6zM334.3 352.2h1.2v1.2h-1.2zM689.9 31.1h0.9v0.9h-0.9zM611.2 48.4h1.4v1.4h-1.4zM725.2 113.3h1.0v1.0h-1.0z" fill="#25d029" opacity="0.7" filter="url(#mdot)"/>
<rect x="453.3" y="324" width="81.6" height="80.3" fill="none" stroke="#ffffff" stroke-width="3.6"/>
<rect x="343.8" y="417.6" width="32" height="6.4" fill="#ffffff"/>
</g>
<rect x="324.8" y="15.5" width="421.1" height="424" fill="none" stroke="#000" stroke-width="3.0" rx="1"/>
<clipPath id="cms1"><rect x="82.2" y="16.2" width="200.4" height="200.2"/></clipPath>
<g clip-path="url(#cms1)">
<rect x="82.2" y="16.2" width="200.4" height="200.2" fill="#0b4e0e"/>
<rect x="82.2" y="16.2" width="200.4" height="200.2" filter="url(#mgrainS)" opacity="0.5"/>
<ellipse cx="205" cy="50" rx="28" ry="30" fill="#1a8a1e" opacity="0.7" filter="url(#mblur)"/><ellipse cx="235" cy="180" rx="50" ry="30" fill="#17801a" opacity="0.6" filter="url(#mblur)"/>
<path d="M125.39 17.24Q131.66 34.48 136.36 43.89Q141.07 53.29 147.34 62.7Q153.61 72.1 159.87 79.94Q166.14 87.77 172.41 94.04Q178.68 100.31 184.95 105.8L191.22 111.29M235.11 17.24Q235.11 37.62 233.54 48.59Q231.97 59.56 228.84 70.53Q225.71 81.5 221 89.34Q216.3 97.18 210.03 102.66Q203.76 108.15 197.49 109.72L191.22 111.29M191.22 111.29Q178.68 122.26 170.85 126.96Q163.01 131.66 155.17 137.93Q147.34 144.2 141.07 150.47Q134.8 156.74 130.09 163.01Q125.39 169.28 122.26 177.12Q119.12 184.95 114.42 192.79Q109.72 200.63 106.58 207.68L103.45 214.73M191.22 111.29Q213.17 115.99 224.14 118.34Q235.11 120.69 246.08 123.82Q257.05 126.96 268.81 129.31L280.56 131.66M83.07 197.49Q94.04 206.9 100.31 210.82L106.58 214.73" fill="none" stroke="#1fb823" stroke-width="13" stroke-linecap="round" stroke-linejoin="round" opacity="0.45" filter="url(#mblur2)"/>
<path d="M125.39 17.24Q131.66 34.48 136.36 43.89Q141.07 53.29 147.34 62.7Q153.61 72.1 159.87 79.94Q166.14 87.77 172.41 94.04Q178.68 100.31 184.95 105.8L191.22 111.29M235.11 17.24Q235.11 37.62 233.54 48.59Q231.97 59.56 228.84 70.53Q225.71 81.5 221 89.34Q216.3 97.18 210.03 102.66Q203.76 108.15 197.49 109.72L191.22 111.29M191.22 111.29Q178.68 122.26 170.85 126.96Q163.01 131.66 155.17 137.93Q147.34 144.2 141.07 150.47Q134.8 156.74 130.09 163.01Q125.39 169.28 122.26 177.12Q119.12 184.95 114.42 192.79Q109.72 200.63 106.58 207.68L103.45 214.73M191.22 111.29Q213.17 115.99 224.14 118.34Q235.11 120.69 246.08 123.82Q257.05 126.96 268.81 129.31L280.56 131.66M83.07 197.49Q94.04 206.9 100.31 210.82L106.58 214.73" fill="none" stroke="#27f52b" stroke-width="6.2" stroke-linecap="round" stroke-linejoin="round" filter="url(#mjagS)"/>
<path d="M192.2 156.7h2.3v2.3h-2.3zM182.8 48.5h3.8v3.8h-3.8zM233.9 176.8h4.3v4.3h-4.3zM127.3 151.4h3.9v3.9h-3.9zM114.1 68.7h4.5v4.5h-4.5zM124.3 89.3h3.5v3.5h-3.5zM136.3 140.6h4.0v4.0h-4.0zM231.8 129.6h3.6v3.6h-3.6zM120.4 106.7h3.3v3.3h-3.3zM140.6 76.0h4.5v4.5h-4.5zM214.3 75.1h4.3v4.3h-4.3zM201.2 19.1h4.6v4.6h-4.6zM119.9 167.1h2.6v2.6h-2.6zM85.6 68.0h4.3v4.3h-4.3zM143.7 165.5h2.8v2.8h-2.8zM137.3 174.4h3.5v3.5h-3.5zM146.5 105.5h2.4v2.4h-2.4zM200.1 169.4h3.4v3.4h-3.4zM186.3 50.8h4.3v4.3h-4.3zM141.1 158.6h2.7v2.7h-2.7zM205.4 25.7h4.3v4.3h-4.3zM205.8 187.5h4.3v4.3h-4.3zM98.0 93.3h3.5v3.5h-3.5zM181.8 66.0h4.6v4.6h-4.6zM194.7 169.3h3.2v3.2h-3.2zM185.0 50.2h3.6v3.6h-3.6zM130.5 170.0h3.0v3.0h-3.0zM112.0 90.2h2.7v2.7h-2.7zM210.5 167.7h2.4v2.4h-2.4zM156.8 96.6h2.3v2.3h-2.3zM178.5 56.0h2.9v2.9h-2.9zM142.7 108.4h3.0v3.0h-3.0zM210.0 60.6h4.6v4.6h-4.6zM104.9 70.4h3.9v3.9h-3.9zM143.7 169.0h3.1v3.1h-3.1zM152.8 153.8h2.8v2.8h-2.8zM256.3 166.1h4.6v4.6h-4.6zM244.9 174.7h4.0v4.0h-4.0zM198.0 183.9h3.2v3.2h-3.2zM263.2 167.7h3.9v3.9h-3.9zM152.3 192.1h3.2v3.2h-3.2zM103.7 65.7h4.0v4.0h-4.0zM269.6 164.9h2.9v2.9h-2.9zM192.0 74.8h4.0v4.0h-4.0zM138.1 163.7h3.6v3.6h-3.6zM190.8 40.0h4.4v4.4h-4.4zM160.7 192.1h4.6v4.6h-4.6zM190.8 60.8h2.7v2.7h-2.7zM129.8 156.1h4.5v4.5h-4.5zM142.3 188.7h3.0v3.0h-3.0zM151.8 166.1h2.7v2.7h-2.7zM129.9 60.8h2.5v2.5h-2.5zM153.3 191.6h4.3v4.3h-4.3zM149.5 69.3h3.5v3.5h-3.5zM236.9 177.2h2.5v2.5h-2.5zM245.3 161.7h4.1v4.1h-4.1zM102.6 105.6h2.9v2.9h-2.9zM163.3 185.4h2.4v2.4h-2.4zM187.0 57.7h4.7v4.7h-4.7zM240.4 149.8h3.7v3.7h-3.7zM167.7 178.3h3.6v3.6h-3.6zM103.7 104.4h3.5v3.5h-3.5zM187.5 51.8h4.1v4.1h-4.1zM151.3 91.2h2.4v2.4h-2.4zM215.8 24.9h2.6v2.6h-2.6zM158.4 185.0h3.9v3.9h-3.9zM227.0 158.1h4.5v4.5h-4.5zM155.3 146.9h4.2v4.2h-4.2zM113.2 66.7h2.7v2.7h-2.7zM121.4 88.4h4.6v4.6h-4.6zM114.9 65.9h3.1v3.1h-3.1zM173.9 178.5h4.6v4.6h-4.6zM158.6 176.9h3.7v3.7h-3.7zM140.0 155.1h3.5v3.5h-3.5zM125.2 110.5h4.2v4.2h-4.2zM222.9 45.8h3.8v3.8h-3.8zM141.7 79.3h2.9v2.9h-2.9zM131.8 120.8h3.6v3.6h-3.6zM118.3 100.6h3.7v3.7h-3.7zM203.6 52.7h2.8v2.8h-2.8zM199.6 75.5h4.0v4.0h-4.0zM192.0 35.5h4.2v4.2h-4.2zM121.4 174.1h2.4v2.4h-2.4zM153.0 106.7h2.6v2.6h-2.6zM269.0 169.5h3.0v3.0h-3.0zM196.0 21.4h3.7v3.7h-3.7zM240.8 162.0h4.5v4.5h-4.5zM208.0 21.2h3.7v3.7h-3.7zM241.5 200.2h2.6v2.6h-2.6zM227.3 183.9h4.6v4.6h-4.6zM126.6 160.9h4.3v4.3h-4.3zM175.9 170.4h2.6v2.6h-2.6zM172.1 171.9h3.2v3.2h-3.2zM220.1 55.4h2.5v2.5h-2.5zM257.2 207.5h2.9v2.9h-2.9zM152.3 176.0h3.4v3.4h-3.4zM196.6 167.2h3.8v3.8h-3.8zM170.2 158.3h2.7v2.7h-2.7zM90.8 89.3h2.7v2.7h-2.7zM135.6 187.8h4.0v4.0h-4.0zM136.0 84.3h4.5v4.5h-4.5zM136.4 117.1h4.4v4.4h-4.4zM111.4 108.9h3.6v3.6h-3.6zM216.3 136.1h3.7v3.7h-3.7zM226.4 30.2h3.6v3.6h-3.6zM243.9 196.9h4.5v4.5h-4.5zM184.1 48.5h3.8v3.8h-3.8zM135.7 166.6h4.0v4.0h-4.0zM194.5 47.1h2.8v2.8h-2.8zM199.3 75.9h4.6v4.6h-4.6zM262.1 165.7h4.6v4.6h-4.6zM175.3 57.2h4.6v4.6h-4.6zM174.8 157.7h3.2v3.2h-3.2zM88.9 100.1h3.4v3.4h-3.4zM253.8 197.0h3.2v3.2h-3.2zM194.8 34.9h3.1v3.1h-3.1zM224.1 42.5h3.6v3.6h-3.6zM186.4 30.9h4.3v4.3h-4.3zM236.6 188.9h2.7v2.7h-2.7zM100.6 77.6h3.9v3.9h-3.9zM197.3 163.7h4.3v4.3h-4.3zM203.2 161.5h2.9v2.9h-2.9zM206.8 45.4h3.6v3.6h-3.6zM174.5 39.5h4.1v4.1h-4.1zM252.2 185.2h4.2v4.2h-4.2zM130.1 167.7h3.5v3.5h-3.5zM221.4 66.2h3.0v3.0h-3.0zM134.3 189.7h3.6v3.6h-3.6zM192.5 33.8h2.7v2.7h-2.7zM226.7 47.0h4.0v4.0h-4.0zM258.1 170.1h4.3v4.3h-4.3zM170.8 157.7h4.6v4.6h-4.6zM193.6 185.0h2.7v2.7h-2.7zM192.5 26.9h4.6v4.6h-4.6zM137.4 64.4h4.0v4.0h-4.0zM177.0 49.1h3.8v3.8h-3.8zM100.4 69.4h3.7v3.7h-3.7zM153.3 140.7h4.1v4.1h-4.1zM193.8 60.3h3.9v3.9h-3.9zM139.2 117.9h3.4v3.4h-3.4zM133.1 167.6h2.4v2.4h-2.4zM155.2 171.5h3.3v3.3h-3.3zM184.1 170.9h3.9v3.9h-3.9zM138.0 156.5h2.9v2.9h-2.9zM230.8 199.6h2.3v2.3h-2.3zM89.5 94.7h2.3v2.3h-2.3zM98.3 59.9h4.2v4.2h-4.2zM97.0 115.3h3.1v3.1h-3.1zM160.1 191.1h4.3v4.3h-4.3zM113.6 68.1h3.7v3.7h-3.7zM231.9 166.0h4.4v4.4h-4.4zM139.7 185.7h4.1v4.1h-4.1zM130.2 118.0h2.6v2.6h-2.6zM123.3 154.4h2.5v2.5h-2.5zM102.1 91.8h4.1v4.1h-4.1zM131.8 188.4h2.8v2.8h-2.8zM223.8 149.3h2.4v2.4h-2.4zM134.9 193.5h4.6v4.6h-4.6zM224.4 55.5h4.4v4.4h-4.4zM215.2 144.2h3.5v3.5h-3.5zM133.6 191.6h2.5v2.5h-2.5zM251.6 189.1h3.4v3.4h-3.4zM148.6 138.9h2.8v2.8h-2.8zM88.9 95.6h2.7v2.7h-2.7zM102.7 114.5h4.5v4.5h-4.5zM228.3 55.3h4.3v4.3h-4.3zM146.6 64.7h2.9v2.9h-2.9zM193.6 197.6h4.1v4.1h-4.1zM230.4 165.7h3.1v3.1h-3.1zM189.8 42.7h2.4v2.4h-2.4zM125.0 84.5h2.3v2.3h-2.3zM251.3 179.9h2.5v2.5h-2.5zM211.4 68.3h2.5v2.5h-2.5zM103.6 54.0h3.8v3.8h-3.8zM141.0 182.1h2.8v2.8h-2.8zM228.7 207.2h4.1v4.1h-4.1zM207.5 201.4h3.6v3.6h-3.6zM221.4 35.6h3.5v3.5h-3.5zM155.4 164.6h2.8v2.8h-2.8zM203.3 78.2h2.5v2.5h-2.5zM254.1 140.8h2.3v2.3h-2.3zM221.4 36.9h3.4v3.4h-3.4zM209.0 47.5h3.5v3.5h-3.5zM133.2 143.4h4.1v4.1h-4.1zM170.1 172.0h2.4v2.4h-2.4zM124.6 92.1h3.1v3.1h-3.1zM112.1 101.0h4.2v4.2h-4.2zM213.4 35.2h3.2v3.2h-3.2zM207.1 172.2h4.5v4.5h-4.5zM170.7 162.4h2.4v2.4h-2.4zM125.4 164.3h4.3v4.3h-4.3zM225.2 31.9h2.9v2.9h-2.9zM237.0 200.0h3.0v3.0h-3.0zM135.9 187.5h2.3v2.3h-2.3zM98.8 99.6h2.8v2.8h-2.8zM191.1 45.6h4.5v4.5h-4.5zM124.7 58.6h3.3v3.3h-3.3zM159.1 141.1h4.5v4.5h-4.5zM217.4 64.2h3.6v3.6h-3.6zM124.9 55.0h4.0v4.0h-4.0zM153.9 86.2h3.1v3.1h-3.1zM250.6 177.6h2.7v2.7h-2.7zM244.3 162.5h3.2v3.2h-3.2zM214.1 20.4h3.9v3.9h-3.9zM205.2 55.4h3.6v3.6h-3.6zM219.9 27.4h2.7v2.7h-2.7zM198.5 170.8h3.6v3.6h-3.6zM143.6 152.1h4.4v4.4h-4.4zM167.0 147.0h3.2v3.2h-3.2zM80.3 77.0h4.2v4.2h-4.2zM215.2 20.9h2.8v2.8h-2.8zM261.0 175.0h3.1v3.1h-3.1zM169.0 179.0h3.4v3.4h-3.4zM175.0 175.1h3.3v3.3h-3.3zM264.3 163.7h3.8v3.8h-3.8zM211.8 28.1h4.7v4.7h-4.7zM147.0 82.6h3.6v3.6h-3.6zM88.6 82.9h4.2v4.2h-4.2zM129.9 154.4h3.3v3.3h-3.3zM193.6 171.7h3.5v3.5h-3.5zM228.1 177.6h3.2v3.2h-3.2zM189.6 61.5h4.5v4.5h-4.5zM225.8 30.5h4.3v4.3h-4.3zM145.9 183.2h4.1v4.1h-4.1zM149.9 149.1h4.2v4.2h-4.2zM137.0 184.1h2.2v2.2h-2.2zM239.3 148.5h2.5v2.5h-2.5zM141.9 79.5h4.5v4.5h-4.5z" fill="#2af02e" opacity="0.8" filter="url(#mdotS)"/>
<path d="M138.5 99.2h2.3v2.3h-2.3zM148.3 198.0h2.2v2.2h-2.2zM247.1 204.9h2.5v2.5h-2.5zM166.2 27.9h2.2v2.2h-2.2zM111.1 161.3h2.0v2.0h-2.0zM112.3 170.2h2.0v2.0h-2.0zM211.4 52.7h1.8v1.8h-1.8zM166.9 206.3h1.9v1.9h-1.9zM124.9 99.6h1.9v1.9h-1.9zM211.0 199.9h3.1v3.1h-3.1zM216.5 181.6h3.1v3.1h-3.1zM280.4 152.1h2.1v2.1h-2.1zM242.5 156.1h1.9v1.9h-1.9zM123.3 143.3h3.4v3.4h-3.4zM105.3 104.1h3.0v3.0h-3.0zM180.4 93.3h2.9v2.9h-2.9zM176.6 44.4h2.9v2.9h-2.9zM221.7 48.4h2.3v2.3h-2.3zM229.6 201.9h2.8v2.8h-2.8zM254.5 141.2h3.3v3.3h-3.3zM263.5 172.5h2.9v2.9h-2.9zM253.0 35.0h3.2v3.2h-3.2zM226.5 83.8h3.4v3.4h-3.4zM222.6 25.9h2.9v2.9h-2.9zM141.2 196.1h2.0v2.0h-2.0zM182.8 69.1h2.2v2.2h-2.2zM110.5 66.1h2.5v2.5h-2.5zM207.4 196.0h1.9v1.9h-1.9zM247.5 116.2h3.5v3.5h-3.5zM135.0 111.0h2.4v2.4h-2.4zM179.1 114.5h2.9v2.9h-2.9zM128.9 49.7h3.2v3.2h-3.2zM228.9 131.0h2.6v2.6h-2.6zM110.6 115.6h2.8v2.8h-2.8zM107.3 166.6h3.6v3.6h-3.6zM123.4 139.4h2.7v2.7h-2.7zM104.2 192.1h3.1v3.1h-3.1zM125.5 141.6h3.3v3.3h-3.3zM91.1 49.5h2.0v2.0h-2.0zM193.4 115.2h3.0v3.0h-3.0zM142.1 80.0h3.2v3.2h-3.2zM245.7 179.6h2.2v2.2h-2.2zM229.5 70.7h2.9v2.9h-2.9zM253.1 68.3h3.1v3.1h-3.1zM156.9 39.2h2.4v2.4h-2.4zM103.8 195.0h2.1v2.1h-2.1zM196.1 84.6h2.0v2.0h-2.0zM281.1 75.0h2.2v2.2h-2.2zM187.3 87.5h1.9v1.9h-1.9zM266.0 89.0h3.1v3.1h-3.1zM219.4 33.7h2.4v2.4h-2.4zM81.8 192.1h3.5v3.5h-3.5zM102.9 199.3h3.2v3.2h-3.2zM225.4 39.5h3.5v3.5h-3.5zM134.9 32.9h2.8v2.8h-2.8zM226.1 110.0h2.6v2.6h-2.6zM268.1 75.3h2.2v2.2h-2.2zM141.3 41.3h2.9v2.9h-2.9zM102.3 62.5h3.4v3.4h-3.4zM135.7 18.7h2.8v2.8h-2.8zM270.4 67.5h2.0v2.0h-2.0zM223.2 164.3h1.9v1.9h-1.9zM276.5 87.3h2.8v2.8h-2.8zM241.8 116.2h2.8v2.8h-2.8zM205.1 104.3h2.0v2.0h-2.0zM95.4 130.5h3.0v3.0h-3.0zM246.1 111.3h3.2v3.2h-3.2zM234.7 88.0h2.3v2.3h-2.3zM111.6 173.5h3.3v3.3h-3.3zM162.3 210.6h2.1v2.1h-2.1zM139.7 152.1h2.9v2.9h-2.9zM272.2 122.8h1.8v1.8h-1.8zM243.8 41.0h3.1v3.1h-3.1zM270.0 35.4h1.9v1.9h-1.9zM167.5 150.9h2.3v2.3h-2.3zM154.9 96.0h2.6v2.6h-2.6zM100.4 170.5h3.0v3.0h-3.0zM220.1 177.0h3.3v3.3h-3.3zM198.2 120.6h3.2v3.2h-3.2zM191.1 171.4h2.8v2.8h-2.8zM274.8 86.1h2.7v2.7h-2.7zM220.4 200.3h2.9v2.9h-2.9zM101.5 204.9h3.4v3.4h-3.4zM103.8 22.6h3.1v3.1h-3.1zM165.6 160.5h2.3v2.3h-2.3zM205.7 194.1h3.4v3.4h-3.4zM204.5 97.9h2.4v2.4h-2.4zM231.5 82.7h3.2v3.2h-3.2zM128.8 137.1h2.1v2.1h-2.1zM149.1 37.4h2.7v2.7h-2.7z" fill="#22cc26" opacity="0.7" filter="url(#mdotS)"/>

<rect x="95.7" y="188.6" width="68.2" height="6.6" fill="#ffffff"/>
</g>
<rect x="81.2" y="15.5" width="202" height="201.5" fill="none" stroke="#000" stroke-width="3.7" rx="1"/>
<clipPath id="cms2"><rect x="82.2" y="238.8" width="200.4" height="200.2"/></clipPath>
<g clip-path="url(#cms2)">
<rect x="82.2" y="238.8" width="200.4" height="200.2" fill="#0b4e0e"/>
<rect x="82.2" y="238.8" width="200.4" height="200.2" filter="url(#mgrainS)" opacity="0.5"/>
<ellipse cx="235" cy="395" rx="50" ry="40" fill="#17851b" opacity="0.6" filter="url(#mblur)"/><ellipse cx="120" cy="340" rx="35" ry="60" fill="#073a09" opacity="0.6" filter="url(#mblur)"/>
<path d="M106.19 241.02Q115.04 257.61 120.58 266.46Q126.11 275.31 130.53 284.16Q134.96 293.01 139.38 299.65Q143.81 306.28 148.23 312.92Q152.65 319.56 154.87 326.19L157.08 332.83M227.88 241.02Q221.24 253.19 217.92 260.93Q214.6 268.67 211.28 276.42Q207.96 284.16 203.54 290.8Q199.12 297.43 195.8 304.07Q192.48 310.71 191.37 315.13L190.27 319.56M159.29 366.02Q152.65 379.29 148.23 384.82Q143.81 390.35 139.38 395.88Q134.96 401.42 132.74 405.84L130.53 410.27M123.89 425.75L119.47 436.81M203.54 350.53Q216.81 348.32 221.24 350.53Q225.66 352.74 227.88 356.06L230.09 359.38M247.79 359.38Q261.06 357.17 265.49 354.96L269.91 352.74M181.42 248.76Q174.78 257.61 175.88 260.93L176.99 264.25M279.2 259.82Q280.09 293.01 279.65 311.81Q279.2 330.62 277.32 346.11L275.44 361.59M143.81 306.28Q154.87 317.35 157.08 323.98L159.29 330.62M192.48 308.5Q188.05 317.35 190.27 320.66L192.48 323.98" fill="none" stroke="#1fb823" stroke-width="13" stroke-linecap="round" stroke-linejoin="round" opacity="0.45" filter="url(#mblur2)"/>
<path d="M106.19 241.02Q115.04 257.61 120.58 266.46Q126.11 275.31 130.53 284.16Q134.96 293.01 139.38 299.65Q143.81 306.28 148.23 312.92Q152.65 319.56 154.87 326.19L157.08 332.83M227.88 241.02Q221.24 253.19 217.92 260.93Q214.6 268.67 211.28 276.42Q207.96 284.16 203.54 290.8Q199.12 297.43 195.8 304.07Q192.48 310.71 191.37 315.13L190.27 319.56M159.29 366.02Q152.65 379.29 148.23 384.82Q143.81 390.35 139.38 395.88Q134.96 401.42 132.74 405.84L130.53 410.27M123.89 425.75L119.47 436.81M203.54 350.53Q216.81 348.32 221.24 350.53Q225.66 352.74 227.88 356.06L230.09 359.38M247.79 359.38Q261.06 357.17 265.49 354.96L269.91 352.74M181.42 248.76Q174.78 257.61 175.88 260.93L176.99 264.25M279.2 259.82Q280.09 293.01 279.65 311.81Q279.2 330.62 277.32 346.11L275.44 361.59M143.81 306.28Q154.87 317.35 157.08 323.98L159.29 330.62M192.48 308.5Q188.05 317.35 190.27 320.66L192.48 323.98" fill="none" stroke="#27f52b" stroke-width="6.2" stroke-linecap="round" stroke-linejoin="round" filter="url(#mjagS)"/>
<path d="M198.7 291.6h2.6v2.6h-2.6zM228.5 419.5h2.3v2.3h-2.3zM269.6 327.6h4.2v4.2h-4.2zM169.2 391.3h3.3v3.3h-3.3zM262.5 373.9h3.1v3.1h-3.1zM252.1 381.5h4.4v4.4h-4.4zM220.7 321.6h2.2v2.2h-2.2zM243.1 426.8h3.1v3.1h-3.1zM141.7 386.2h4.4v4.4h-4.4zM114.0 289.8h4.1v4.1h-4.1zM129.4 421.1h4.6v4.6h-4.6zM262.1 320.7h4.0v4.0h-4.0zM148.1 414.0h3.4v3.4h-3.4zM156.3 382.0h4.4v4.4h-4.4zM97.9 355.5h3.6v3.6h-3.6zM99.6 329.9h3.0v3.0h-3.0zM260.2 305.8h4.1v4.1h-4.1zM103.5 364.2h3.9v3.9h-3.9zM128.2 389.8h3.7v3.7h-3.7zM111.2 345.0h3.4v3.4h-3.4zM167.9 380.4h3.0v3.0h-3.0zM192.4 268.2h4.0v4.0h-4.0zM170.1 274.0h3.7v3.7h-3.7zM178.8 263.7h2.8v2.8h-2.8zM246.8 324.1h4.4v4.4h-4.4zM200.9 286.8h2.8v2.8h-2.8zM212.7 298.2h2.2v2.2h-2.2zM167.5 287.7h4.5v4.5h-4.5zM236.2 327.7h3.6v3.6h-3.6zM242.7 334.5h3.0v3.0h-3.0zM130.4 379.7h2.9v2.9h-2.9zM144.0 332.9h4.1v4.1h-4.1zM206.0 257.5h4.3v4.3h-4.3zM219.2 331.1h3.8v3.8h-3.8zM231.4 391.7h4.1v4.1h-4.1zM203.0 324.1h3.4v3.4h-3.4zM255.7 433.1h2.8v2.8h-2.8zM171.7 393.4h3.9v3.9h-3.9zM229.0 311.0h2.5v2.5h-2.5zM264.4 346.1h3.4v3.4h-3.4zM197.5 277.5h3.3v3.3h-3.3zM246.5 408.1h4.2v4.2h-4.2zM144.4 383.5h3.2v3.2h-3.2zM148.3 386.6h3.1v3.1h-3.1zM264.5 350.3h2.8v2.8h-2.8zM213.0 283.0h2.4v2.4h-2.4zM151.3 274.8h2.9v2.9h-2.9zM126.4 364.5h4.6v4.6h-4.6zM112.8 330.6h3.7v3.7h-3.7zM145.0 314.3h4.5v4.5h-4.5zM98.3 349.0h4.5v4.5h-4.5zM130.8 416.0h4.5v4.5h-4.5zM265.6 403.1h2.4v2.4h-2.4zM240.3 435.2h4.2v4.2h-4.2zM147.8 339.9h3.3v3.3h-3.3zM147.1 397.3h2.2v2.2h-2.2zM239.2 392.8h4.1v4.1h-4.1zM256.1 344.1h4.0v4.0h-4.0zM239.2 303.5h2.5v2.5h-2.5zM200.8 300.3h3.0v3.0h-3.0zM151.0 320.4h2.2v2.2h-2.2zM123.9 294.6h3.4v3.4h-3.4zM244.7 394.0h3.1v3.1h-3.1zM90.2 322.9h4.6v4.6h-4.6zM151.7 313.2h2.9v2.9h-2.9zM255.2 353.7h3.5v3.5h-3.5zM147.6 260.1h2.4v2.4h-2.4zM242.5 427.4h4.2v4.2h-4.2zM189.3 241.4h3.9v3.9h-3.9zM193.5 294.2h2.7v2.7h-2.7zM198.4 410.9h2.4v2.4h-2.4zM177.6 395.7h3.2v3.2h-3.2zM190.6 394.5h2.8v2.8h-2.8zM205.7 336.4h3.2v3.2h-3.2zM235.6 365.2h2.5v2.5h-2.5zM111.3 293.0h3.1v3.1h-3.1zM231.2 334.2h2.9v2.9h-2.9zM217.1 355.6h3.9v3.9h-3.9zM98.9 350.6h4.0v4.0h-4.0zM181.2 241.7h2.7v2.7h-2.7zM158.6 423.3h3.1v3.1h-3.1zM166.4 304.2h4.4v4.4h-4.4zM97.6 299.5h2.2v2.2h-2.2zM233.5 296.6h4.4v4.4h-4.4zM154.7 296.7h4.2v4.2h-4.2zM227.3 364.1h2.6v2.6h-2.6zM163.4 416.1h3.3v3.3h-3.3zM209.1 396.2h4.0v4.0h-4.0zM155.6 308.8h3.5v3.5h-3.5zM178.7 250.0h3.9v3.9h-3.9zM187.4 408.8h3.3v3.3h-3.3zM159.9 262.3h4.1v4.1h-4.1zM116.6 359.2h4.3v4.3h-4.3zM264.1 336.8h4.7v4.7h-4.7zM241.5 418.0h3.3v3.3h-3.3zM158.7 300.1h3.1v3.1h-3.1zM127.4 359.7h3.4v3.4h-3.4zM208.3 330.5h4.5v4.5h-4.5zM177.2 300.7h3.0v3.0h-3.0zM211.5 374.5h4.3v4.3h-4.3zM159.6 277.0h3.7v3.7h-3.7zM247.8 298.1h2.9v2.9h-2.9zM266.5 318.7h3.5v3.5h-3.5zM190.6 274.1h4.2v4.2h-4.2zM129.8 313.8h3.1v3.1h-3.1zM210.5 403.0h3.3v3.3h-3.3zM211.8 401.8h4.0v4.0h-4.0zM259.3 318.9h2.4v2.4h-2.4zM203.6 334.4h4.3v4.3h-4.3zM216.4 356.5h2.7v2.7h-2.7zM134.9 383.6h4.2v4.2h-4.2zM220.6 435.4h3.7v3.7h-3.7zM137.0 370.6h4.0v4.0h-4.0zM193.5 391.5h2.3v2.3h-2.3zM212.6 409.0h4.6v4.6h-4.6zM215.1 402.4h4.5v4.5h-4.5zM244.3 394.8h2.2v2.2h-2.2zM233.8 408.4h4.4v4.4h-4.4zM140.3 328.8h4.2v4.2h-4.2zM135.6 408.1h3.8v3.8h-3.8zM226.7 342.0h3.4v3.4h-3.4zM243.5 306.1h2.5v2.5h-2.5zM228.4 424.8h2.8v2.8h-2.8zM236.3 318.9h4.5v4.5h-4.5zM158.2 401.9h4.3v4.3h-4.3zM98.8 335.6h3.0v3.0h-3.0zM157.6 383.3h4.1v4.1h-4.1zM162.5 394.9h2.3v2.3h-2.3zM80.8 330.4h3.5v3.5h-3.5zM129.2 384.8h3.5v3.5h-3.5zM154.8 325.6h3.3v3.3h-3.3zM97.3 345.2h4.4v4.4h-4.4zM131.8 327.1h4.5v4.5h-4.5zM155.6 394.1h2.9v2.9h-2.9zM177.9 311.2h2.7v2.7h-2.7zM198.4 304.8h2.4v2.4h-2.4zM154.5 340.1h2.8v2.8h-2.8zM122.3 333.2h3.9v3.9h-3.9zM160.0 402.5h4.5v4.5h-4.5zM137.1 417.1h2.8v2.8h-2.8zM212.3 399.4h2.5v2.5h-2.5zM143.0 285.4h3.7v3.7h-3.7zM101.6 355.8h3.2v3.2h-3.2zM119.9 397.3h2.6v2.6h-2.6zM185.2 264.0h4.6v4.6h-4.6zM222.6 343.4h3.2v3.2h-3.2zM133.7 344.8h2.9v2.9h-2.9zM153.0 267.9h2.9v2.9h-2.9zM136.9 326.2h3.9v3.9h-3.9zM145.2 393.6h3.6v3.6h-3.6zM244.6 353.1h2.3v2.3h-2.3zM213.5 303.4h3.9v3.9h-3.9zM84.3 319.1h4.3v4.3h-4.3zM254.6 302.2h2.3v2.3h-2.3zM252.8 327.6h3.9v3.9h-3.9zM238.8 315.7h3.9v3.9h-3.9zM91.6 300.0h2.6v2.6h-2.6zM220.3 375.0h4.4v4.4h-4.4zM173.8 409.6h3.8v3.8h-3.8zM147.4 287.6h2.5v2.5h-2.5zM233.5 396.3h3.2v3.2h-3.2zM200.7 391.4h3.5v3.5h-3.5zM225.6 334.7h2.6v2.6h-2.6zM145.5 299.8h3.1v3.1h-3.1zM147.8 411.2h3.4v3.4h-3.4zM239.6 291.5h3.0v3.0h-3.0zM192.5 304.9h4.3v4.3h-4.3zM241.8 295.9h3.6v3.6h-3.6zM229.3 308.3h2.7v2.7h-2.7zM261.4 421.9h2.2v2.2h-2.2zM258.4 409.5h4.2v4.2h-4.2zM233.5 387.3h3.3v3.3h-3.3zM172.3 308.2h2.7v2.7h-2.7zM219.5 313.5h2.3v2.3h-2.3zM133.7 403.8h2.4v2.4h-2.4zM130.6 292.2h2.5v2.5h-2.5zM252.7 364.6h2.7v2.7h-2.7zM139.9 371.1h3.7v3.7h-3.7zM99.3 325.6h2.7v2.7h-2.7zM176.0 297.4h4.5v4.5h-4.5zM124.4 315.8h3.3v3.3h-3.3zM94.2 332.4h2.7v2.7h-2.7zM264.8 337.4h4.4v4.4h-4.4zM171.9 390.5h2.3v2.3h-2.3zM95.3 345.3h2.4v2.4h-2.4zM129.4 420.4h3.4v3.4h-3.4zM168.9 245.6h2.7v2.7h-2.7zM185.9 279.4h3.8v3.8h-3.8zM225.2 354.3h3.7v3.7h-3.7zM241.5 392.9h3.6v3.6h-3.6zM171.4 264.5h3.9v3.9h-3.9zM166.1 308.3h3.4v3.4h-3.4zM136.8 411.3h4.5v4.5h-4.5zM133.4 416.4h3.0v3.0h-3.0zM242.5 358.0h3.4v3.4h-3.4zM260.7 331.4h4.3v4.3h-4.3zM155.0 310.1h3.5v3.5h-3.5zM185.2 269.6h3.5v3.5h-3.5zM150.9 379.0h2.8v2.8h-2.8zM242.4 335.2h3.7v3.7h-3.7zM216.2 375.9h4.4v4.4h-4.4zM207.0 271.6h4.5v4.5h-4.5zM207.4 350.5h2.4v2.4h-2.4zM160.6 390.3h3.5v3.5h-3.5zM203.5 279.1h3.4v3.4h-3.4zM209.6 387.6h3.5v3.5h-3.5zM164.9 388.4h4.1v4.1h-4.1zM214.0 340.3h3.1v3.1h-3.1zM158.6 422.2h4.5v4.5h-4.5zM173.5 389.8h3.8v3.8h-3.8zM197.8 328.7h4.3v4.3h-4.3zM270.7 332.3h4.6v4.6h-4.6zM100.1 319.7h3.3v3.3h-3.3zM127.7 352.1h4.1v4.1h-4.1zM227.8 353.7h4.2v4.2h-4.2zM157.5 380.7h4.5v4.5h-4.5zM207.2 273.0h3.6v3.6h-3.6zM229.0 436.3h3.1v3.1h-3.1zM124.3 403.8h3.6v3.6h-3.6zM156.2 411.1h4.5v4.5h-4.5zM199.5 413.0h4.4v4.4h-4.4zM140.8 348.7h3.7v3.7h-3.7zM146.7 346.1h4.3v4.3h-4.3zM91.8 304.5h3.9v3.9h-3.9zM257.3 381.2h2.6v2.6h-2.6zM221.7 300.5h3.2v3.2h-3.2zM109.8 295.7h2.6v2.6h-2.6zM257.1 380.3h3.2v3.2h-3.2zM210.6 366.0h3.2v3.2h-3.2zM182.3 291.0h2.2v2.2h-2.2zM217.1 421.0h3.2v3.2h-3.2zM234.8 366.2h3.4v3.4h-3.4zM166.1 388.9h2.4v2.4h-2.4zM166.3 296.8h2.5v2.5h-2.5zM203.3 279.4h3.8v3.8h-3.8zM175.5 392.7h3.8v3.8h-3.8zM155.8 423.1h3.0v3.0h-3.0zM214.6 436.7h3.6v3.6h-3.6zM97.5 332.7h3.4v3.4h-3.4zM136.2 411.7h3.1v3.1h-3.1zM261.1 309.9h3.8v3.8h-3.8zM152.1 421.1h2.8v2.8h-2.8zM201.1 381.8h2.6v2.6h-2.6zM121.6 293.7h3.8v3.8h-3.8zM234.0 297.7h2.6v2.6h-2.6zM92.0 305.1h2.5v2.5h-2.5zM256.6 327.1h3.7v3.7h-3.7zM121.7 311.1h2.6v2.6h-2.6zM113.9 324.3h3.1v3.1h-3.1zM167.9 306.6h3.4v3.4h-3.4zM202.8 291.1h2.5v2.5h-2.5zM145.5 311.3h2.8v2.8h-2.8zM80.4 318.6h4.4v4.4h-4.4zM225.9 404.8h4.4v4.4h-4.4zM272.3 346.5h2.6v2.6h-2.6zM209.2 403.2h2.3v2.3h-2.3zM216.5 400.3h4.6v4.6h-4.6zM138.0 411.2h3.9v3.9h-3.9zM186.8 264.7h4.5v4.5h-4.5zM169.0 297.0h3.1v3.1h-3.1z" fill="#2af02e" opacity="0.8" filter="url(#mdotS)"/>
<path d="M94.7 399.1h3.3v3.3h-3.3zM273.0 381.3h2.0v2.0h-2.0zM106.8 321.9h3.1v3.1h-3.1zM142.6 389.4h3.2v3.2h-3.2zM149.4 267.7h1.9v1.9h-1.9zM189.3 246.4h3.5v3.5h-3.5zM179.7 321.0h2.4v2.4h-2.4zM213.1 296.4h3.4v3.4h-3.4zM111.4 385.8h1.8v1.8h-1.8zM98.3 265.5h3.4v3.4h-3.4zM223.2 426.9h3.2v3.2h-3.2zM217.0 422.3h2.0v2.0h-2.0zM279.3 282.9h3.1v3.1h-3.1zM229.6 398.0h3.6v3.6h-3.6zM256.4 371.2h2.2v2.2h-2.2zM210.4 244.3h3.5v3.5h-3.5zM166.7 336.8h2.8v2.8h-2.8zM266.3 343.2h2.0v2.0h-2.0zM253.2 261.9h3.5v3.5h-3.5zM109.5 390.4h3.1v3.1h-3.1zM207.4 360.3h3.1v3.1h-3.1zM105.5 340.2h2.8v2.8h-2.8zM204.3 276.6h3.6v3.6h-3.6zM215.5 251.3h3.5v3.5h-3.5zM106.4 284.6h3.0v3.0h-3.0zM215.8 328.8h2.4v2.4h-2.4zM90.8 259.2h1.8v1.8h-1.8zM104.3 399.8h2.4v2.4h-2.4zM129.4 322.5h1.9v1.9h-1.9zM114.0 263.3h3.1v3.1h-3.1zM268.6 315.3h3.6v3.6h-3.6zM210.0 390.3h2.6v2.6h-2.6zM103.2 238.0h2.0v2.0h-2.0zM87.6 324.5h2.1v2.1h-2.1zM252.1 400.8h3.3v3.3h-3.3zM115.3 407.8h3.3v3.3h-3.3zM194.4 430.1h3.5v3.5h-3.5zM142.7 350.0h2.7v2.7h-2.7zM254.1 314.8h2.3v2.3h-2.3zM159.6 368.1h2.6v2.6h-2.6zM239.2 329.6h2.6v2.6h-2.6zM218.7 345.2h2.8v2.8h-2.8zM131.8 319.8h2.8v2.8h-2.8zM225.5 415.6h3.3v3.3h-3.3zM189.4 342.4h2.3v2.3h-2.3zM274.6 311.8h2.0v2.0h-2.0zM125.6 279.9h2.0v2.0h-2.0zM183.1 275.7h2.5v2.5h-2.5zM243.7 410.8h2.4v2.4h-2.4zM172.4 388.6h2.0v2.0h-2.0zM155.2 274.1h3.4v3.4h-3.4zM192.0 325.1h1.9v1.9h-1.9zM159.4 390.6h2.2v2.2h-2.2zM113.3 317.4h2.2v2.2h-2.2zM253.3 277.0h3.6v3.6h-3.6zM126.5 416.6h2.8v2.8h-2.8zM201.9 268.8h3.0v3.0h-3.0zM272.7 339.6h3.1v3.1h-3.1zM91.8 335.5h2.8v2.8h-2.8zM268.4 383.5h3.4v3.4h-3.4zM90.0 304.5h2.6v2.6h-2.6zM122.1 288.6h3.1v3.1h-3.1zM133.9 338.1h2.3v2.3h-2.3zM224.8 239.4h3.0v3.0h-3.0zM117.5 375.4h2.7v2.7h-2.7zM165.7 437.9h1.9v1.9h-1.9zM276.2 390.5h1.9v1.9h-1.9zM260.7 250.5h2.8v2.8h-2.8zM111.7 243.7h2.2v2.2h-2.2zM216.9 350.6h2.8v2.8h-2.8zM166.7 371.1h3.2v3.2h-3.2zM218.3 303.0h3.3v3.3h-3.3zM96.1 241.9h2.8v2.8h-2.8zM272.8 403.4h2.7v2.7h-2.7zM112.1 296.8h2.0v2.0h-2.0zM209.8 241.4h2.4v2.4h-2.4zM135.5 314.4h3.4v3.4h-3.4zM208.4 275.3h1.8v1.8h-1.8zM124.2 269.8h2.9v2.9h-2.9zM168.0 411.1h2.8v2.8h-2.8zM101.6 355.0h1.9v1.9h-1.9zM244.5 284.3h3.3v3.3h-3.3zM206.2 400.4h2.1v2.1h-2.1zM105.7 277.6h2.2v2.2h-2.2zM146.7 253.9h3.0v3.0h-3.0zM207.3 351.0h3.5v3.5h-3.5zM278.7 309.1h3.0v3.0h-3.0zM123.3 315.3h1.8v1.8h-1.8zM126.7 436.5h2.4v2.4h-2.4zM154.7 345.3h3.5v3.5h-3.5z" fill="#22cc26" opacity="0.7" filter="url(#mdotS)"/>
<g filter="url(#mjagS)"><ellipse cx="176" cy="346" rx="19" ry="21" fill="#021602"/><ellipse cx="184" cy="338" rx="12" ry="14" fill="#021602"/></g><ellipse cx="176" cy="345" rx="13" ry="14" fill="#010d01" filter="url(#mblur2)"/>
<rect x="95.7" y="417" width="68.2" height="6.6" fill="#ffffff"/>
</g>
<rect x="81.2" y="238.1" width="202" height="201.5" fill="none" stroke="#000" stroke-width="3.7" rx="1"/>
<clipPath id="cms3"><rect x="82.2" y="463.2" width="200.4" height="200.2"/></clipPath>
<g clip-path="url(#cms3)">
<rect x="82.2" y="463.2" width="200.4" height="200.2" fill="#0b4e0e"/>
<rect x="82.2" y="463.2" width="200.4" height="200.2" filter="url(#mgrainS)" opacity="0.5"/>
<ellipse cx="225" cy="625" rx="62" ry="38" fill="#1d9a21" opacity="0.75" filter="url(#mblur)"/><ellipse cx="265" cy="590" rx="22" ry="18" fill="#24c028" opacity="0.7" filter="url(#mblur)"/>
<path d="M106.19 465.44Q112.83 484.25 116.15 494.2Q119.47 504.16 123.89 513.01Q128.32 521.86 132.74 529.6Q137.17 537.35 141.59 543.98Q146.02 550.62 151.55 556.15Q157.08 561.68 164.82 563.89L172.57 566.11M225.66 465.44Q221.24 479.82 216.81 488.67Q212.39 497.52 207.96 506.37Q203.54 515.22 199.12 524.07Q194.69 532.92 191.37 538.45L188.05 543.98M154.87 597.08Q143.81 608.14 138.27 613.67Q132.74 619.2 129.42 624.73Q126.11 630.27 123.89 636.9Q121.68 643.54 120.58 650.18L119.47 656.81M188.05 581.59Q199.12 581.59 205.75 582.7Q212.39 583.81 220.13 584.91Q227.88 586.02 235.62 584.91Q243.36 583.81 250 582.7Q256.64 581.59 263.27 579.38Q269.91 577.17 274.34 580.49Q278.76 583.81 278.76 589.34L278.76 594.87" fill="none" stroke="#1fb823" stroke-width="13" stroke-linecap="round" stroke-linejoin="round" opacity="0.45" filter="url(#mblur2)"/>
<path d="M106.19 465.44Q112.83 484.25 116.15 494.2Q119.47 504.16 123.89 513.01Q128.32 521.86 132.74 529.6Q137.17 537.35 141.59 543.98Q146.02 550.62 151.55 556.15Q157.08 561.68 164.82 563.89L172.57 566.11M225.66 465.44Q221.24 479.82 216.81 488.67Q212.39 497.52 207.96 506.37Q203.54 515.22 199.12 524.07Q194.69 532.92 191.37 538.45L188.05 543.98M154.87 597.08Q143.81 608.14 138.27 613.67Q132.74 619.2 129.42 624.73Q126.11 630.27 123.89 636.9Q121.68 643.54 120.58 650.18L119.47 656.81M188.05 581.59Q199.12 581.59 205.75 582.7Q212.39 583.81 220.13 584.91Q227.88 586.02 235.62 584.91Q243.36 583.81 250 582.7Q256.64 581.59 263.27 579.38Q269.91 577.17 274.34 580.49Q278.76 583.81 278.76 589.34L278.76 594.87" fill="none" stroke="#27f52b" stroke-width="6.2" stroke-linecap="round" stroke-linejoin="round" filter="url(#mjagS)"/>
<path d="M212.4 597.6h4.5v4.5h-4.5zM111.6 551.5h2.2v2.2h-2.2zM116.3 576.7h4.7v4.7h-4.7zM89.6 550.7h3.2v3.2h-3.2zM229.7 626.8h4.5v4.5h-4.5zM116.9 526.0h2.3v2.3h-2.3zM273.2 524.7h4.2v4.2h-4.2zM174.2 643.3h4.4v4.4h-4.4zM152.4 618.7h4.0v4.0h-4.0zM220.3 527.5h4.4v4.4h-4.4zM205.9 504.7h2.8v2.8h-2.8zM126.5 647.7h2.9v2.9h-2.9zM259.4 498.4h3.5v3.5h-3.5zM85.0 538.6h3.9v3.9h-3.9zM202.5 466.6h3.9v3.9h-3.9zM219.0 581.0h3.5v3.5h-3.5zM225.5 507.8h2.7v2.7h-2.7zM247.0 528.6h3.4v3.4h-3.4zM156.6 637.1h4.2v4.2h-4.2zM122.7 554.8h3.2v3.2h-3.2zM123.8 551.9h3.7v3.7h-3.7zM156.0 519.3h3.5v3.5h-3.5zM168.4 637.0h2.9v2.9h-2.9zM200.2 515.9h4.6v4.6h-4.6zM112.5 577.7h3.9v3.9h-3.9zM91.6 584.3h3.1v3.1h-3.1zM243.4 508.7h4.6v4.6h-4.6zM244.6 541.5h4.0v4.0h-4.0zM189.6 646.2h2.9v2.9h-2.9zM233.7 639.8h3.6v3.6h-3.6zM156.7 520.1h2.5v2.5h-2.5zM133.6 623.2h3.9v3.9h-3.9zM191.7 624.8h3.4v3.4h-3.4zM270.4 526.6h4.6v4.6h-4.6zM192.8 622.2h3.7v3.7h-3.7zM209.9 629.4h3.1v3.1h-3.1zM246.3 545.2h2.4v2.4h-2.4zM211.2 492.7h2.5v2.5h-2.5zM253.1 545.0h2.8v2.8h-2.8zM211.1 572.4h2.4v2.4h-2.4zM240.1 533.2h4.3v4.3h-4.3zM133.1 522.2h2.4v2.4h-2.4zM131.6 615.3h3.3v3.3h-3.3zM229.6 598.5h4.6v4.6h-4.6zM221.3 604.2h2.6v2.6h-2.6zM186.8 476.6h2.5v2.5h-2.5zM171.5 633.9h3.3v3.3h-3.3zM131.4 647.9h3.2v3.2h-3.2zM119.0 559.7h4.5v4.5h-4.5zM267.2 515.8h4.6v4.6h-4.6zM147.7 608.6h3.5v3.5h-3.5zM257.3 572.0h4.6v4.6h-4.6zM180.7 489.6h4.4v4.4h-4.4zM134.2 636.5h4.4v4.4h-4.4zM113.7 555.6h4.0v4.0h-4.0zM204.3 608.3h2.2v2.2h-2.2zM223.0 532.9h3.7v3.7h-3.7zM222.0 522.1h3.0v3.0h-3.0zM262.5 641.4h2.5v2.5h-2.5zM240.1 561.3h4.2v4.2h-4.2zM148.1 500.6h3.2v3.2h-3.2zM229.5 527.3h4.1v4.1h-4.1zM200.7 471.2h2.3v2.3h-2.3zM213.5 514.1h4.3v4.3h-4.3zM150.7 495.9h2.6v2.6h-2.6zM158.9 523.9h3.6v3.6h-3.6zM139.0 578.7h4.0v4.0h-4.0zM127.2 529.8h2.3v2.3h-2.3zM90.2 536.7h3.1v3.1h-3.1zM159.5 479.9h3.1v3.1h-3.1zM118.9 535.1h4.6v4.6h-4.6zM98.8 562.9h3.5v3.5h-3.5zM125.8 624.1h2.7v2.7h-2.7zM263.5 575.1h3.1v3.1h-3.1zM252.1 503.3h3.3v3.3h-3.3zM209.3 484.8h4.3v4.3h-4.3zM254.2 494.1h4.0v4.0h-4.0zM221.3 512.4h4.0v4.0h-4.0zM140.6 586.3h2.3v2.3h-2.3zM148.4 485.5h3.1v3.1h-3.1zM158.7 529.8h2.2v2.2h-2.2zM160.6 465.0h4.6v4.6h-4.6zM244.7 525.9h4.7v4.7h-4.7zM223.3 516.8h2.4v2.4h-2.4zM166.1 651.1h3.5v3.5h-3.5zM250.9 525.0h4.7v4.7h-4.7zM116.9 588.5h4.5v4.5h-4.5zM240.6 522.4h3.4v3.4h-3.4zM140.0 525.5h3.2v3.2h-3.2zM249.0 493.5h3.5v3.5h-3.5zM131.6 578.6h4.4v4.4h-4.4zM263.2 632.0h4.5v4.5h-4.5zM269.5 510.6h4.3v4.3h-4.3zM225.6 630.2h3.6v3.6h-3.6zM241.9 623.3h3.5v3.5h-3.5zM190.4 605.4h3.7v3.7h-3.7zM235.1 510.6h2.7v2.7h-2.7zM174.5 534.2h2.7v2.7h-2.7zM236.8 530.8h4.1v4.1h-4.1zM191.4 628.3h3.9v3.9h-3.9zM182.9 616.8h4.2v4.2h-4.2zM278.1 523.9h2.3v2.3h-2.3zM126.5 522.0h2.3v2.3h-2.3zM258.9 582.2h4.1v4.1h-4.1zM214.2 489.0h2.8v2.8h-2.8zM230.9 589.6h3.7v3.7h-3.7zM166.4 616.4h2.8v2.8h-2.8zM167.7 521.8h4.0v4.0h-4.0zM192.7 511.4h4.5v4.5h-4.5zM158.9 521.7h3.9v3.9h-3.9zM200.9 502.5h3.1v3.1h-3.1zM185.1 527.1h4.6v4.6h-4.6zM133.5 573.6h4.4v4.4h-4.4zM170.8 486.0h4.4v4.4h-4.4zM240.1 660.5h3.1v3.1h-3.1zM208.9 616.1h3.9v3.9h-3.9zM174.1 629.3h2.4v2.4h-2.4zM195.0 612.7h2.4v2.4h-2.4zM108.6 557.9h2.9v2.9h-2.9zM136.2 632.7h3.8v3.8h-3.8zM158.3 652.3h4.5v4.5h-4.5zM146.2 585.6h2.5v2.5h-2.5zM188.4 612.7h3.2v3.2h-3.2zM192.1 616.7h2.9v2.9h-2.9zM224.0 592.8h2.6v2.6h-2.6zM223.4 511.4h3.1v3.1h-3.1zM207.4 647.8h2.5v2.5h-2.5zM97.8 557.1h4.1v4.1h-4.1zM235.7 610.7h3.3v3.3h-3.3zM156.5 528.0h2.4v2.4h-2.4zM180.1 620.3h3.6v3.6h-3.6zM167.1 654.2h3.6v3.6h-3.6zM146.6 610.7h4.0v4.0h-4.0zM226.0 500.2h4.2v4.2h-4.2zM226.2 514.6h2.7v2.7h-2.7zM192.8 653.4h4.3v4.3h-4.3zM148.5 533.6h3.1v3.1h-3.1zM262.0 508.8h3.4v3.4h-3.4zM241.2 502.5h4.3v4.3h-4.3zM135.1 561.2h3.8v3.8h-3.8zM182.3 465.8h3.4v3.4h-3.4zM238.2 508.2h4.1v4.1h-4.1zM262.3 616.1h3.8v3.8h-3.8zM134.1 571.6h3.8v3.8h-3.8zM257.2 641.4h3.7v3.7h-3.7zM209.1 503.1h3.4v3.4h-3.4zM80.9 549.0h3.0v3.0h-3.0zM202.6 623.8h4.3v4.3h-4.3zM249.6 513.2h2.4v2.4h-2.4zM226.8 638.5h2.3v2.3h-2.3zM188.0 624.9h3.4v3.4h-3.4zM183.5 472.7h4.3v4.3h-4.3zM159.1 655.7h3.9v3.9h-3.9zM256.3 507.1h3.4v3.4h-3.4zM144.3 506.0h3.2v3.2h-3.2zM219.2 611.1h2.8v2.8h-2.8zM185.5 646.0h3.2v3.2h-3.2zM185.1 479.1h3.1v3.1h-3.1zM103.2 555.4h2.2v2.2h-2.2zM238.6 525.8h2.2v2.2h-2.2zM157.9 481.7h2.6v2.6h-2.6zM160.3 511.7h2.2v2.2h-2.2zM166.3 644.3h3.2v3.2h-3.2zM210.1 478.1h2.8v2.8h-2.8zM101.9 560.5h3.7v3.7h-3.7zM234.0 621.6h4.2v4.2h-4.2zM127.7 520.1h3.4v3.4h-3.4zM245.2 544.9h3.7v3.7h-3.7zM204.3 646.9h3.3v3.3h-3.3zM176.7 497.4h2.2v2.2h-2.2zM206.3 501.5h3.4v3.4h-3.4zM201.7 569.4h2.7v2.7h-2.7zM103.5 581.7h3.0v3.0h-3.0zM164.1 641.5h3.7v3.7h-3.7zM136.1 569.0h4.3v4.3h-4.3zM148.5 496.7h3.5v3.5h-3.5zM133.5 588.4h4.0v4.0h-4.0zM239.5 527.6h4.2v4.2h-4.2zM122.7 593.1h3.4v3.4h-3.4zM220.0 612.0h4.1v4.1h-4.1zM139.2 611.1h2.3v2.3h-2.3zM226.3 600.8h3.3v3.3h-3.3zM144.3 630.1h2.8v2.8h-2.8zM170.7 646.9h2.3v2.3h-2.3zM145.6 537.7h3.0v3.0h-3.0zM225.4 637.9h4.1v4.1h-4.1zM166.4 517.1h3.3v3.3h-3.3zM244.8 600.0h4.6v4.6h-4.6zM183.4 537.5h2.7v2.7h-2.7zM226.3 515.4h4.4v4.4h-4.4zM215.6 610.1h2.6v2.6h-2.6zM220.4 600.6h4.2v4.2h-4.2zM277.7 523.0h2.7v2.7h-2.7zM231.9 652.5h2.7v2.7h-2.7zM129.7 621.8h4.1v4.1h-4.1zM135.0 657.4h3.3v3.3h-3.3zM168.1 535.7h3.3v3.3h-3.3zM126.2 586.4h3.3v3.3h-3.3zM137.6 624.8h2.6v2.6h-2.6zM207.7 483.0h3.1v3.1h-3.1zM168.2 647.3h2.8v2.8h-2.8zM165.3 521.3h2.4v2.4h-2.4zM209.3 647.3h2.7v2.7h-2.7zM263.0 572.8h3.7v3.7h-3.7zM128.5 633.2h4.5v4.5h-4.5zM267.6 511.2h4.1v4.1h-4.1zM88.7 564.6h2.2v2.2h-2.2zM182.7 509.1h4.0v4.0h-4.0zM198.2 637.9h3.3v3.3h-3.3zM227.4 581.9h3.2v3.2h-3.2zM190.3 641.2h4.1v4.1h-4.1zM250.0 624.8h3.2v3.2h-3.2zM185.4 524.5h4.2v4.2h-4.2zM246.7 631.7h4.4v4.4h-4.4zM232.1 628.2h4.5v4.5h-4.5zM89.2 553.5h3.1v3.1h-3.1zM216.1 618.0h2.8v2.8h-2.8zM258.9 518.7h3.5v3.5h-3.5zM277.8 522.6h2.2v2.2h-2.2zM94.2 589.4h3.1v3.1h-3.1zM261.4 521.6h2.2v2.2h-2.2zM148.1 537.3h3.7v3.7h-3.7zM158.4 504.2h3.9v3.9h-3.9zM101.0 568.8h2.3v2.3h-2.3zM157.4 567.8h2.6v2.6h-2.6zM247.9 528.8h4.1v4.1h-4.1zM81.6 556.0h3.6v3.6h-3.6zM216.6 639.0h3.4v3.4h-3.4zM208.5 475.2h3.3v3.3h-3.3zM148.2 609.6h4.6v4.6h-4.6zM230.0 529.6h2.6v2.6h-2.6zM244.3 616.0h4.3v4.3h-4.3zM158.3 511.1h3.3v3.3h-3.3zM171.1 650.1h2.6v2.6h-2.6zM213.1 644.1h3.4v3.4h-3.4zM250.5 565.3h3.7v3.7h-3.7zM166.1 526.9h2.5v2.5h-2.5zM219.7 648.9h4.5v4.5h-4.5zM168.6 503.1h2.2v2.2h-2.2zM149.0 534.0h3.8v3.8h-3.8zM216.8 635.1h3.8v3.8h-3.8zM109.1 576.5h4.6v4.6h-4.6zM198.1 661.3h2.9v2.9h-2.9zM199.6 623.5h4.4v4.4h-4.4zM121.0 576.4h2.4v2.4h-2.4zM266.5 534.4h2.5v2.5h-2.5zM214.7 483.8h3.9v3.9h-3.9zM115.4 586.0h2.8v2.8h-2.8zM236.4 513.5h3.4v3.4h-3.4zM257.9 646.0h2.6v2.6h-2.6zM103.9 530.0h2.5v2.5h-2.5zM191.8 527.0h2.9v2.9h-2.9zM161.1 613.5h2.3v2.3h-2.3zM198.5 602.0h2.4v2.4h-2.4zM121.3 564.6h2.4v2.4h-2.4zM187.0 509.6h3.0v3.0h-3.0zM259.1 523.6h4.5v4.5h-4.5zM252.9 605.2h3.1v3.1h-3.1zM147.4 580.5h3.4v3.4h-3.4zM133.1 659.1h4.1v4.1h-4.1zM230.0 530.5h2.9v2.9h-2.9zM183.9 598.7h2.7v2.7h-2.7zM240.4 542.7h4.0v4.0h-4.0zM244.3 630.2h2.6v2.6h-2.6zM215.7 625.8h3.7v3.7h-3.7zM147.2 518.8h2.4v2.4h-2.4zM185.9 510.0h3.2v3.2h-3.2zM239.2 497.7h4.1v4.1h-4.1zM148.7 505.3h3.0v3.0h-3.0zM234.3 508.0h3.4v3.4h-3.4zM187.7 614.5h3.9v3.9h-3.9zM173.3 626.8h4.3v4.3h-4.3zM230.1 635.3h2.6v2.6h-2.6zM222.7 518.2h3.0v3.0h-3.0zM148.6 658.2h2.8v2.8h-2.8zM191.5 612.6h4.4v4.4h-4.4zM228.3 514.4h3.7v3.7h-3.7zM152.2 512.7h3.7v3.7h-3.7zM242.7 651.7h3.1v3.1h-3.1zM165.6 511.8h3.5v3.5h-3.5zM144.0 513.4h4.0v4.0h-4.0zM232.6 640.1h3.1v3.1h-3.1zM95.1 580.8h4.4v4.4h-4.4zM231.7 519.3h2.2v2.2h-2.2zM167.5 488.8h2.4v2.4h-2.4zM192.5 645.8h2.2v2.2h-2.2zM167.1 627.4h4.0v4.0h-4.0zM163.2 613.8h3.3v3.3h-3.3zM129.0 626.7h4.5v4.5h-4.5zM181.8 615.7h2.9v2.9h-2.9zM243.0 621.6h4.4v4.4h-4.4zM142.1 562.9h2.2v2.2h-2.2zM210.1 611.7h2.7v2.7h-2.7zM126.2 647.7h3.8v3.8h-3.8zM110.4 588.9h4.0v4.0h-4.0zM212.2 512.5h4.0v4.0h-4.0zM211.7 639.7h3.4v3.4h-3.4zM109.5 548.9h3.8v3.8h-3.8zM127.6 648.8h4.4v4.4h-4.4zM199.6 569.4h2.3v2.3h-2.3zM276.7 522.9h3.5v3.5h-3.5zM253.7 506.5h4.2v4.2h-4.2zM234.2 528.9h3.3v3.3h-3.3zM251.6 540.8h3.0v3.0h-3.0zM262.6 534.1h3.7v3.7h-3.7zM264.6 498.4h2.7v2.7h-2.7zM171.3 461.5h3.7v3.7h-3.7zM130.5 544.2h4.2v4.2h-4.2zM146.2 584.4h3.2v3.2h-3.2z" fill="#2af02e" opacity="0.8" filter="url(#mdotS)"/>
<path d="M123.6 499.5h1.9v1.9h-1.9zM180.3 538.3h3.3v3.3h-3.3zM247.7 473.2h2.5v2.5h-2.5zM158.9 497.5h2.3v2.3h-2.3zM133.6 600.8h2.4v2.4h-2.4zM103.0 505.9h2.6v2.6h-2.6zM193.7 510.6h3.1v3.1h-3.1zM123.8 595.9h2.9v2.9h-2.9zM116.0 612.2h2.5v2.5h-2.5zM188.7 581.2h2.9v2.9h-2.9zM169.1 472.6h3.2v3.2h-3.2zM252.9 559.8h2.8v2.8h-2.8zM134.3 641.4h3.0v3.0h-3.0zM124.7 624.9h3.6v3.6h-3.6zM150.0 661.0h2.7v2.7h-2.7zM116.7 605.4h2.4v2.4h-2.4zM227.9 578.9h2.0v2.0h-2.0zM186.5 632.1h2.7v2.7h-2.7zM188.8 634.6h2.6v2.6h-2.6zM179.1 578.1h3.3v3.3h-3.3zM121.1 480.2h3.2v3.2h-3.2zM191.0 521.9h3.4v3.4h-3.4zM257.5 569.6h3.6v3.6h-3.6zM248.4 611.7h2.3v2.3h-2.3zM82.6 597.3h3.1v3.1h-3.1zM150.9 557.5h2.8v2.8h-2.8zM130.7 601.3h2.8v2.8h-2.8zM157.9 483.6h2.8v2.8h-2.8zM145.1 607.1h2.1v2.1h-2.1zM159.8 501.1h2.5v2.5h-2.5zM196.7 483.5h1.9v1.9h-1.9zM177.3 502.0h2.7v2.7h-2.7zM114.2 481.8h2.8v2.8h-2.8zM265.7 635.6h2.7v2.7h-2.7zM160.5 475.2h2.3v2.3h-2.3zM144.1 650.6h2.0v2.0h-2.0zM270.7 557.2h2.6v2.6h-2.6zM133.6 654.7h2.1v2.1h-2.1zM195.5 564.3h2.2v2.2h-2.2zM125.1 658.7h3.2v3.2h-3.2zM228.1 642.9h2.0v2.0h-2.0zM222.0 612.2h2.2v2.2h-2.2zM172.5 657.0h2.4v2.4h-2.4zM233.3 494.6h3.0v3.0h-3.0zM134.8 563.7h2.5v2.5h-2.5zM255.1 610.8h2.7v2.7h-2.7zM218.1 547.0h3.2v3.2h-3.2zM132.2 570.6h2.9v2.9h-2.9zM158.8 471.4h2.1v2.1h-2.1zM208.8 503.8h3.2v3.2h-3.2zM181.5 652.2h3.3v3.3h-3.3zM226.9 536.7h1.9v1.9h-1.9zM191.8 610.6h3.5v3.5h-3.5zM120.8 492.9h3.6v3.6h-3.6zM228.6 558.5h3.1v3.1h-3.1zM110.5 570.4h3.0v3.0h-3.0zM202.1 494.3h2.0v2.0h-2.0zM206.3 639.1h2.0v2.0h-2.0zM81.8 478.0h3.2v3.2h-3.2zM158.5 552.5h3.6v3.6h-3.6zM203.0 514.2h3.1v3.1h-3.1zM80.9 517.9h3.1v3.1h-3.1zM114.9 468.2h2.7v2.7h-2.7zM146.8 656.5h2.0v2.0h-2.0zM241.2 539.2h3.2v3.2h-3.2zM170.1 595.5h2.4v2.4h-2.4zM125.4 552.0h3.2v3.2h-3.2zM150.0 507.8h2.5v2.5h-2.5zM99.8 524.8h2.8v2.8h-2.8zM190.2 581.5h2.3v2.3h-2.3zM85.8 467.2h2.4v2.4h-2.4zM120.3 575.8h2.3v2.3h-2.3zM233.2 581.9h3.0v3.0h-3.0zM228.2 566.2h2.6v2.6h-2.6zM142.2 474.0h3.2v3.2h-3.2zM180.5 481.2h3.5v3.5h-3.5zM197.4 586.6h2.6v2.6h-2.6zM106.3 662.1h2.1v2.1h-2.1zM154.5 662.1h2.0v2.0h-2.0zM181.1 558.0h2.2v2.2h-2.2zM266.5 545.1h1.8v1.8h-1.8zM175.4 462.4h3.1v3.1h-3.1zM255.3 643.5h1.9v1.9h-1.9zM216.0 522.7h2.7v2.7h-2.7zM141.3 523.1h2.0v2.0h-2.0zM205.6 479.0h3.5v3.5h-3.5zM89.8 655.0h2.1v2.1h-2.1zM97.4 610.8h2.8v2.8h-2.8zM234.7 563.4h2.9v2.9h-2.9zM97.3 596.6h2.7v2.7h-2.7z" fill="#22cc26" opacity="0.7" filter="url(#mdotS)"/>
<ellipse cx="160" cy="581" rx="5" ry="4" fill="#2af02e" filter="url(#mdotS)"/>
<rect x="95.7" y="629.2" width="68.2" height="6.6" fill="#ffffff"/>
</g>
<rect x="81.2" y="462.5" width="202" height="201.5" fill="none" stroke="#000" stroke-width="3.7" rx="1"/>
<clipPath id="cb1"><rect x="844.85" y="11.35" width="211.3" height="203.3"/></clipPath>
<g clip-path="url(#cb1)">
<rect x="844.85" y="11.35" width="211.3" height="203.3" fill="#ffffff"/>
<path d="M813.55 23.41L807.05 32.36M818.9 26.5L812.65 35.59M824.22 29.57L818.23 38.81M829.53 32.64L823.79 42.02M834.84 35.7L829.34 45.23M840.14 38.76L834.89 48.43M845.45 41.83L840.45 51.64M850.77 44.9L846.02 54.86M856.12 47.99L851.62 58.09M861.5 51.09L857.25 61.34M866.91 54.22L862.92 64.61M872.37 57.37L868.63 67.91M877.88 60.55L874.4 71.24M883.45 63.77L880.24 74.61M889.1 67.03L886.15 78.03M894.82 70.33L892.14 81.49M900.63 73.69L898.23 85M906.55 77.1L904.42 88.57M996.95 77.1L999.08 88.57M1002.87 73.69L1005.27 85M1008.68 70.33L1011.36 81.49M1014.4 67.03L1017.35 78.03M1020.05 63.77L1023.26 74.61M1025.62 60.55L1029.1 71.24M1031.13 57.37L1034.87 67.91M1036.59 54.22L1040.58 64.61M1042 51.09L1046.25 61.34M1047.38 47.99L1051.88 58.09M1052.73 44.9L1057.48 54.86M1058.05 41.83L1063.05 51.64M1063.36 38.76L1068.61 48.43M1068.66 35.7L1074.16 45.23M1073.97 32.64L1079.71 42.02M1079.28 29.57L1085.27 38.81M1084.6 26.5L1090.85 35.59M1089.95 23.41L1096.45 32.36M1100.95 42.46L1096.45 32.36M1095.6 45.55L1090.85 35.59M1090.27 48.62L1085.27 38.81M1084.96 51.69L1079.71 42.02M1079.66 54.75L1074.16 45.22M1074.36 57.81L1068.61 48.43M1069.05 60.88L1063.05 51.64M1063.72 63.95L1057.48 54.86M1058.38 67.04L1051.88 58.09M1053 70.14L1046.25 61.34M1047.59 73.27L1040.58 64.61M1042.13 76.42L1034.87 67.91M1036.62 79.6L1029.1 71.24M1031.05 82.82L1023.26 74.61M1025.4 86.08L1017.35 78.03M1019.68 89.38L1011.36 81.49M1013.87 92.74L1005.27 85M1007.95 96.15L999.08 88.57M962.75 174.45L951.75 170.55M962.75 181.28L951.75 177.7M962.75 187.99L951.75 184.73M962.75 194.6L951.75 191.65M962.75 201.11L951.75 198.47M962.75 207.55L951.75 205.21M962.75 213.91L951.75 211.87M962.75 220.22L951.75 218.47M962.75 226.47L951.75 225.02M962.75 232.67L951.75 231.52M962.75 238.85L951.75 237.98M962.75 245L951.75 244.42M962.75 251.13L951.75 250.84M962.75 257.25L951.75 257.25M962.75 263.37L951.75 263.66M962.75 269.5L951.75 270.08M962.75 275.65L951.75 276.52M962.75 281.83L951.75 282.98M940.75 281.83L951.75 282.98M940.75 275.65L951.75 276.52M940.75 269.5L951.75 270.08M940.75 263.37L951.75 263.66M940.75 257.25L951.75 257.25M940.75 251.13L951.75 250.84M940.75 245L951.75 244.42M940.75 238.85L951.75 237.98M940.75 232.67L951.75 231.52M940.75 226.47L951.75 225.02M940.75 220.22L951.75 218.47M940.75 213.91L951.75 211.87M940.75 207.55L951.75 205.21M940.75 201.11L951.75 198.47M940.75 194.6L951.75 191.65M940.75 187.99L951.75 184.73M940.75 181.28L951.75 177.7M940.75 174.45L951.75 170.55M895.55 96.15L904.42 88.57M889.63 92.74L898.23 85M883.82 89.38L892.14 81.49M878.1 86.08L886.15 78.03M872.45 82.82L880.24 74.61M866.88 79.6L874.4 71.24M861.37 76.42L868.63 67.91M855.91 73.27L862.92 64.61M850.5 70.14L857.25 61.34M845.12 67.04L851.62 58.09M839.78 63.95L846.02 54.86M834.45 60.88L840.45 51.64M829.14 57.81L834.89 48.43M823.84 54.75L829.34 45.23M818.54 51.69L823.79 42.02M813.23 48.62L818.23 38.81M807.9 45.55L812.65 35.59M802.55 42.46L807.05 32.36" fill="none" stroke="#b4dcb7" stroke-width="2.4" stroke-linecap="round"/>
<path d="M912.57 80.58L910.73 92.21M990.93 80.58L992.77 92.21M1001.93 99.63L992.77 92.21M962.75 167.49L951.75 163.27M940.75 167.49L951.75 163.27M901.57 99.63L910.73 92.21" fill="none" stroke="#93cc97" stroke-width="2.4" stroke-linecap="round"/>
<path d="M918.71 84.13L917.16 95.93M984.79 84.13L986.34 95.93M995.78 103.18L986.34 95.93M962.75 160.4L951.75 155.84M940.75 160.4L951.75 155.84M907.72 103.18L917.16 95.93" fill="none" stroke="#5db162" stroke-width="2.4" stroke-linecap="round"/>
<path d="M925 87.75L923.74 99.73M978.5 87.75L979.76 99.73M989.5 106.8L979.76 99.73M962.75 153.14L951.75 148.25M940.75 153.14L951.75 148.25M914 106.8L923.74 99.73" fill="none" stroke="#4ea853" stroke-width="2.4" stroke-linecap="round"/>
<path d="M931.42 91.46L930.47 103.61M972.08 91.46L973.03 103.61M983.07 110.51L973.03 103.61M962.75 145.72L951.75 140.47M940.75 145.72L951.75 140.47M920.43 110.51L930.47 103.61" fill="none" stroke="#44a349" stroke-width="2.4" stroke-linecap="round"/>
<path d="M938.02 95.27L937.37 107.6M944.79 99.18L944.46 111.69M958.71 99.18L959.04 111.69M965.48 95.27L966.13 107.6M976.48 114.32L966.13 107.6M969.71 118.23L959.04 111.69M962.75 130.29L951.75 124.32M962.75 138.11L951.75 132.51M940.75 138.11L951.75 132.51M940.75 130.29L951.75 124.32M933.79 118.23L944.46 111.69M927.02 114.32L937.37 107.6" fill="none" stroke="#3d9f42" stroke-width="2.4" stroke-linecap="round"/>
<path d="M951.75 103.2L951.75 115.9M962.75 122.25L951.75 115.9M940.75 122.25L951.75 115.9" fill="none" stroke="#a9d8ac" stroke-width="2.4" stroke-linecap="round"/>
<path d="M951.75 -166.8L813.55 23.41M951.75 -166.8L818.9 26.5M951.75 -166.8L824.22 29.57M951.75 -166.8L829.53 32.64M951.75 -166.8L834.84 35.7M951.75 -166.8L840.14 38.76M951.75 -166.8L845.45 41.83M951.75 -166.8L850.77 44.9M951.75 -166.8L856.12 47.99M951.75 -166.8L861.5 51.09M951.75 -166.8L866.91 54.22M951.75 -166.8L872.37 57.37M951.75 -166.8L877.88 60.55M951.75 -166.8L883.45 63.77M951.75 -166.8L889.1 67.03M951.75 -166.8L894.82 70.33M951.75 -166.8L900.63 73.69M951.75 -166.8L906.55 77.1M951.75 -166.8L912.57 80.58M951.75 -166.8L918.71 84.13M951.75 -166.8L925 87.75M951.75 -166.8L931.42 91.46M951.75 -166.8L938.02 95.27M951.75 -166.8L944.79 99.18M951.75 -166.8L951.75 103.2M951.75 -166.8L958.71 99.18M951.75 -166.8L965.48 95.27M951.75 -166.8L972.08 91.46M951.75 -166.8L978.5 87.75M951.75 -166.8L984.79 84.13M951.75 -166.8L990.93 80.58M951.75 -166.8L996.95 77.1M951.75 -166.8L1002.87 73.69M951.75 -166.8L1008.68 70.33M951.75 -166.8L1014.4 67.03M951.75 -166.8L1020.05 63.77M951.75 -166.8L1025.62 60.55M951.75 -166.8L1031.13 57.37M951.75 -166.8L1036.59 54.22M951.75 -166.8L1042 51.09M951.75 -166.8L1047.38 47.99M951.75 -166.8L1052.73 44.9M951.75 -166.8L1058.05 41.83M951.75 -166.8L1063.36 38.76M951.75 -166.8L1068.66 35.7M951.75 -166.8L1073.97 32.64M951.75 -166.8L1079.28 29.57M951.75 -166.8L1084.6 26.5M951.75 -166.8L1089.95 23.41M1196.58 257.25L1100.95 42.46M1196.58 257.25L1095.6 45.55M1196.58 257.25L1090.27 48.62M1196.58 257.25L1084.96 51.69M1196.58 257.25L1079.66 54.75M1196.58 257.25L1074.36 57.81M1196.58 257.25L1069.05 60.88M1196.58 257.25L1063.72 63.95M1196.58 257.25L1058.38 67.04M1196.58 257.25L1053 70.14M1196.58 257.25L1047.59 73.27M1196.58 257.25L1042.13 76.42M1196.58 257.25L1036.62 79.6M1196.58 257.25L1031.05 82.82M1196.58 257.25L1025.4 86.08M1196.58 257.25L1019.68 89.38M1196.58 257.25L1013.87 92.74M1196.58 257.25L1007.95 96.15M1196.58 257.25L1001.93 99.63M1196.58 257.25L995.78 103.18M1196.58 257.25L989.5 106.8M1196.58 257.25L983.07 110.51M1196.58 257.25L976.48 114.32M1196.58 257.25L969.71 118.23M1196.58 257.25L962.75 122.25M1196.58 257.25L962.75 130.29M1196.58 257.25L962.75 138.11M1196.58 257.25L962.75 145.72M1196.58 257.25L962.75 153.14M1196.58 257.25L962.75 160.4M1196.58 257.25L962.75 167.49M1196.58 257.25L962.75 174.45M1196.58 257.25L962.75 181.28M1196.58 257.25L962.75 187.99M1196.58 257.25L962.75 194.6M1196.58 257.25L962.75 201.11M1196.58 257.25L962.75 207.55M1196.58 257.25L962.75 213.91M1196.58 257.25L962.75 220.22M1196.58 257.25L962.75 226.47M1196.58 257.25L962.75 232.67M1196.58 257.25L962.75 238.85M1196.58 257.25L962.75 245M1196.58 257.25L962.75 251.13M1196.58 257.25L962.75 257.25M1196.58 257.25L962.75 263.37M1196.58 257.25L962.75 269.5M1196.58 257.25L962.75 275.65M1196.58 257.25L962.75 281.83M706.92 257.25L940.75 281.83M706.92 257.25L940.75 275.65M706.92 257.25L940.75 269.5M706.92 257.25L940.75 263.37M706.92 257.25L940.75 257.25M706.92 257.25L940.75 251.13M706.92 257.25L940.75 245M706.92 257.25L940.75 238.85M706.92 257.25L940.75 232.67M706.92 257.25L940.75 226.47M706.92 257.25L940.75 220.22M706.92 257.25L940.75 213.91M706.92 257.25L940.75 207.55M706.92 257.25L940.75 201.11M706.92 257.25L940.75 194.6M706.92 257.25L940.75 187.99M706.92 257.25L940.75 181.28M706.92 257.25L940.75 174.45M706.92 257.25L940.75 167.49M706.92 257.25L940.75 160.4M706.92 257.25L940.75 153.14M706.92 257.25L940.75 145.72M706.92 257.25L940.75 138.11M706.92 257.25L940.75 130.29M706.92 257.25L940.75 122.25M706.92 257.25L933.79 118.23M706.92 257.25L927.02 114.32M706.92 257.25L920.43 110.51M706.92 257.25L914 106.8M706.92 257.25L907.72 103.18M706.92 257.25L901.57 99.63M706.92 257.25L895.55 96.15M706.92 257.25L889.63 92.74M706.92 257.25L883.82 89.38M706.92 257.25L878.1 86.08M706.92 257.25L872.45 82.82M706.92 257.25L866.88 79.6M706.92 257.25L861.37 76.42M706.92 257.25L855.91 73.27M706.92 257.25L850.5 70.14M706.92 257.25L845.12 67.04M706.92 257.25L839.78 63.95M706.92 257.25L834.45 60.88M706.92 257.25L829.14 57.81M706.92 257.25L823.84 54.75M706.92 257.25L818.54 51.69M706.92 257.25L813.23 48.62M706.92 257.25L807.9 45.55M706.92 257.25L802.55 42.46" fill="none" stroke="#640404" stroke-width="2.25"/>
<path d="M813.55 23.41L818.9 26.5L824.22 29.57L829.53 32.64L834.84 35.7L840.14 38.76L845.45 41.83L850.77 44.9L856.12 47.99L861.5 51.09L866.91 54.22L872.37 57.37L877.88 60.55L883.45 63.77L889.1 67.03L894.82 70.33L900.63 73.69L906.55 77.1L912.57 80.58L918.71 84.13L925 87.75L931.42 91.46L938.02 95.27L944.79 99.18L951.75 103.2L958.71 99.18L965.48 95.27L972.08 91.46L978.5 87.75L984.79 84.13L990.93 80.58L996.95 77.1L1002.87 73.69L1008.68 70.33L1014.4 67.03L1020.05 63.77L1025.62 60.55L1031.13 57.37L1036.59 54.22L1042 51.09L1047.38 47.99L1052.73 44.9L1058.05 41.83L1063.36 38.76L1068.66 35.7L1073.97 32.64L1079.28 29.57L1084.6 26.5L1089.95 23.41M1100.95 42.46L1095.6 45.55L1090.27 48.62L1084.96 51.69L1079.66 54.75L1074.36 57.81L1069.05 60.88L1063.72 63.95L1058.38 67.04L1053 70.14L1047.59 73.27L1042.13 76.42L1036.62 79.6L1031.05 82.82L1025.4 86.08L1019.68 89.38L1013.87 92.74L1007.95 96.15L1001.93 99.63L995.78 103.18L989.5 106.8L983.07 110.51L976.48 114.32L969.71 118.23L962.75 122.25L962.75 130.29L962.75 138.11L962.75 145.72L962.75 153.14L962.75 160.4L962.75 167.49L962.75 174.45L962.75 181.28L962.75 187.99L962.75 194.6L962.75 201.11L962.75 207.55L962.75 213.91L962.75 220.22L962.75 226.47L962.75 232.67L962.75 238.85L962.75 245L962.75 251.13L962.75 257.25L962.75 263.37L962.75 269.5L962.75 275.65L962.75 281.83M940.75 281.83L940.75 275.65L940.75 269.5L940.75 263.37L940.75 257.25L940.75 251.13L940.75 245L940.75 238.85L940.75 232.67L940.75 226.47L940.75 220.22L940.75 213.91L940.75 207.55L940.75 201.11L940.75 194.6L940.75 187.99L940.75 181.28L940.75 174.45L940.75 167.49L940.75 160.4L940.75 153.14L940.75 145.72L940.75 138.11L940.75 130.29L940.75 122.25L933.79 118.23L927.02 114.32L920.43 110.51L914 106.8L907.72 103.18L901.57 99.63L895.55 96.15L889.63 92.74L883.82 89.38L878.1 86.08L872.45 82.82L866.88 79.6L861.37 76.42L855.91 73.27L850.5 70.14L845.12 67.04L839.78 63.95L834.45 60.88L829.14 57.81L823.84 54.75L818.54 51.69L813.23 48.62L807.9 45.55L802.55 42.46" fill="none" stroke="#3a0505" stroke-width="1.3" stroke-linejoin="round"/>
<path d="M843.1 41.8a2.3 2.3 0 1 0 4.6 0a2.3 2.3 0 1 0 -4.6 0M848.5 44.9a2.3 2.3 0 1 0 4.6 0a2.3 2.3 0 1 0 -4.6 0M853.8 48.0a2.3 2.3 0 1 0 4.6 0a2.3 2.3 0 1 0 -4.6 0M859.2 51.1a2.3 2.3 0 1 0 4.6 0a2.3 2.3 0 1 0 -4.6 0M864.6 54.2a2.3 2.3 0 1 0 4.6 0a2.3 2.3 0 1 0 -4.6 0M870.1 57.4a2.3 2.3 0 1 0 4.6 0a2.3 2.3 0 1 0 -4.6 0M875.6 60.6a2.3 2.3 0 1 0 4.6 0a2.3 2.3 0 1 0 -4.6 0M881.2 63.8a2.3 2.3 0 1 0 4.6 0a2.3 2.3 0 1 0 -4.6 0M886.8 67.0a2.3 2.3 0 1 0 4.6 0a2.3 2.3 0 1 0 -4.6 0M892.5 70.3a2.3 2.3 0 1 0 4.6 0a2.3 2.3 0 1 0 -4.6 0M898.3 73.7a2.3 2.3 0 1 0 4.6 0a2.3 2.3 0 1 0 -4.6 0M904.2 77.1a2.3 2.3 0 1 0 4.6 0a2.3 2.3 0 1 0 -4.6 0M910.3 80.6a2.3 2.3 0 1 0 4.6 0a2.3 2.3 0 1 0 -4.6 0M916.4 84.1a2.3 2.3 0 1 0 4.6 0a2.3 2.3 0 1 0 -4.6 0M922.7 87.8a2.3 2.3 0 1 0 4.6 0a2.3 2.3 0 1 0 -4.6 0M929.1 91.5a2.3 2.3 0 1 0 4.6 0a2.3 2.3 0 1 0 -4.6 0M935.7 95.3a2.3 2.3 0 1 0 4.6 0a2.3 2.3 0 1 0 -4.6 0M942.5 99.2a2.3 2.3 0 1 0 4.6 0a2.3 2.3 0 1 0 -4.6 0M949.5 103.2a2.3 2.3 0 1 0 4.6 0a2.3 2.3 0 1 0 -4.6 0M956.4 99.2a2.3 2.3 0 1 0 4.6 0a2.3 2.3 0 1 0 -4.6 0M963.2 95.3a2.3 2.3 0 1 0 4.6 0a2.3 2.3 0 1 0 -4.6 0M969.8 91.5a2.3 2.3 0 1 0 4.6 0a2.3 2.3 0 1 0 -4.6 0M976.2 87.8a2.3 2.3 0 1 0 4.6 0a2.3 2.3 0 1 0 -4.6 0M982.5 84.1a2.3 2.3 0 1 0 4.6 0a2.3 2.3 0 1 0 -4.6 0M988.6 80.6a2.3 2.3 0 1 0 4.6 0a2.3 2.3 0 1 0 -4.6 0M994.7 77.1a2.3 2.3 0 1 0 4.6 0a2.3 2.3 0 1 0 -4.6 0M1000.6 73.7a2.3 2.3 0 1 0 4.6 0a2.3 2.3 0 1 0 -4.6 0M1006.4 70.3a2.3 2.3 0 1 0 4.6 0a2.3 2.3 0 1 0 -4.6 0M1012.1 67.0a2.3 2.3 0 1 0 4.6 0a2.3 2.3 0 1 0 -4.6 0M1017.7 63.8a2.3 2.3 0 1 0 4.6 0a2.3 2.3 0 1 0 -4.6 0M1023.3 60.6a2.3 2.3 0 1 0 4.6 0a2.3 2.3 0 1 0 -4.6 0M1028.8 57.4a2.3 2.3 0 1 0 4.6 0a2.3 2.3 0 1 0 -4.6 0M1034.3 54.2a2.3 2.3 0 1 0 4.6 0a2.3 2.3 0 1 0 -4.6 0M1039.7 51.1a2.3 2.3 0 1 0 4.6 0a2.3 2.3 0 1 0 -4.6 0M1045.1 48.0a2.3 2.3 0 1 0 4.6 0a2.3 2.3 0 1 0 -4.6 0M1050.4 44.9a2.3 2.3 0 1 0 4.6 0a2.3 2.3 0 1 0 -4.6 0M1055.8 41.8a2.3 2.3 0 1 0 4.6 0a2.3 2.3 0 1 0 -4.6 0M1056.1 67.0a2.3 2.3 0 1 0 4.6 0a2.3 2.3 0 1 0 -4.6 0M1050.7 70.1a2.3 2.3 0 1 0 4.6 0a2.3 2.3 0 1 0 -4.6 0M1045.3 73.3a2.3 2.3 0 1 0 4.6 0a2.3 2.3 0 1 0 -4.6 0M1039.8 76.4a2.3 2.3 0 1 0 4.6 0a2.3 2.3 0 1 0 -4.6 0M1034.3 79.6a2.3 2.3 0 1 0 4.6 0a2.3 2.3 0 1 0 -4.6 0M1028.7 82.8a2.3 2.3 0 1 0 4.6 0a2.3 2.3 0 1 0 -4.6 0M1023.1 86.1a2.3 2.3 0 1 0 4.6 0a2.3 2.3 0 1 0 -4.6 0M1017.4 89.4a2.3 2.3 0 1 0 4.6 0a2.3 2.3 0 1 0 -4.6 0M1011.6 92.7a2.3 2.3 0 1 0 4.6 0a2.3 2.3 0 1 0 -4.6 0M1005.7 96.2a2.3 2.3 0 1 0 4.6 0a2.3 2.3 0 1 0 -4.6 0M999.6 99.6a2.3 2.3 0 1 0 4.6 0a2.3 2.3 0 1 0 -4.6 0M993.5 103.2a2.3 2.3 0 1 0 4.6 0a2.3 2.3 0 1 0 -4.6 0M987.2 106.8a2.3 2.3 0 1 0 4.6 0a2.3 2.3 0 1 0 -4.6 0M980.8 110.5a2.3 2.3 0 1 0 4.6 0a2.3 2.3 0 1 0 -4.6 0M974.2 114.3a2.3 2.3 0 1 0 4.6 0a2.3 2.3 0 1 0 -4.6 0M967.4 118.2a2.3 2.3 0 1 0 4.6 0a2.3 2.3 0 1 0 -4.6 0M960.4 122.3a2.3 2.3 0 1 0 4.6 0a2.3 2.3 0 1 0 -4.6 0M960.4 130.3a2.3 2.3 0 1 0 4.6 0a2.3 2.3 0 1 0 -4.6 0M960.4 138.1a2.3 2.3 0 1 0 4.6 0a2.3 2.3 0 1 0 -4.6 0M960.4 145.7a2.3 2.3 0 1 0 4.6 0a2.3 2.3 0 1 0 -4.6 0M960.4 153.1a2.3 2.3 0 1 0 4.6 0a2.3 2.3 0 1 0 -4.6 0M960.4 160.4a2.3 2.3 0 1 0 4.6 0a2.3 2.3 0 1 0 -4.6 0M960.4 167.5a2.3 2.3 0 1 0 4.6 0a2.3 2.3 0 1 0 -4.6 0M960.4 174.4a2.3 2.3 0 1 0 4.6 0a2.3 2.3 0 1 0 -4.6 0M960.4 181.3a2.3 2.3 0 1 0 4.6 0a2.3 2.3 0 1 0 -4.6 0M960.4 188.0a2.3 2.3 0 1 0 4.6 0a2.3 2.3 0 1 0 -4.6 0M960.4 194.6a2.3 2.3 0 1 0 4.6 0a2.3 2.3 0 1 0 -4.6 0M960.4 201.1a2.3 2.3 0 1 0 4.6 0a2.3 2.3 0 1 0 -4.6 0M960.4 207.5a2.3 2.3 0 1 0 4.6 0a2.3 2.3 0 1 0 -4.6 0M960.4 213.9a2.3 2.3 0 1 0 4.6 0a2.3 2.3 0 1 0 -4.6 0M938.5 213.9a2.3 2.3 0 1 0 4.6 0a2.3 2.3 0 1 0 -4.6 0M938.5 207.5a2.3 2.3 0 1 0 4.6 0a2.3 2.3 0 1 0 -4.6 0M938.5 201.1a2.3 2.3 0 1 0 4.6 0a2.3 2.3 0 1 0 -4.6 0M938.5 194.6a2.3 2.3 0 1 0 4.6 0a2.3 2.3 0 1 0 -4.6 0M938.5 188.0a2.3 2.3 0 1 0 4.6 0a2.3 2.3 0 1 0 -4.6 0M938.5 181.3a2.3 2.3 0 1 0 4.6 0a2.3 2.3 0 1 0 -4.6 0M938.5 174.4a2.3 2.3 0 1 0 4.6 0a2.3 2.3 0 1 0 -4.6 0M938.5 167.5a2.3 2.3 0 1 0 4.6 0a2.3 2.3 0 1 0 -4.6 0M938.5 160.4a2.3 2.3 0 1 0 4.6 0a2.3 2.3 0 1 0 -4.6 0M938.5 153.1a2.3 2.3 0 1 0 4.6 0a2.3 2.3 0 1 0 -4.6 0M938.5 145.7a2.3 2.3 0 1 0 4.6 0a2.3 2.3 0 1 0 -4.6 0M938.5 138.1a2.3 2.3 0 1 0 4.6 0a2.3 2.3 0 1 0 -4.6 0M938.5 130.3a2.3 2.3 0 1 0 4.6 0a2.3 2.3 0 1 0 -4.6 0M938.5 122.3a2.3 2.3 0 1 0 4.6 0a2.3 2.3 0 1 0 -4.6 0M931.5 118.2a2.3 2.3 0 1 0 4.6 0a2.3 2.3 0 1 0 -4.6 0M924.7 114.3a2.3 2.3 0 1 0 4.6 0a2.3 2.3 0 1 0 -4.6 0M918.1 110.5a2.3 2.3 0 1 0 4.6 0a2.3 2.3 0 1 0 -4.6 0M911.7 106.8a2.3 2.3 0 1 0 4.6 0a2.3 2.3 0 1 0 -4.6 0M905.4 103.2a2.3 2.3 0 1 0 4.6 0a2.3 2.3 0 1 0 -4.6 0M899.3 99.6a2.3 2.3 0 1 0 4.6 0a2.3 2.3 0 1 0 -4.6 0M893.2 96.2a2.3 2.3 0 1 0 4.6 0a2.3 2.3 0 1 0 -4.6 0M887.3 92.7a2.3 2.3 0 1 0 4.6 0a2.3 2.3 0 1 0 -4.6 0M881.5 89.4a2.3 2.3 0 1 0 4.6 0a2.3 2.3 0 1 0 -4.6 0M875.8 86.1a2.3 2.3 0 1 0 4.6 0a2.3 2.3 0 1 0 -4.6 0M870.2 82.8a2.3 2.3 0 1 0 4.6 0a2.3 2.3 0 1 0 -4.6 0M864.6 79.6a2.3 2.3 0 1 0 4.6 0a2.3 2.3 0 1 0 -4.6 0M859.1 76.4a2.3 2.3 0 1 0 4.6 0a2.3 2.3 0 1 0 -4.6 0M853.6 73.3a2.3 2.3 0 1 0 4.6 0a2.3 2.3 0 1 0 -4.6 0M848.2 70.1a2.3 2.3 0 1 0 4.6 0a2.3 2.3 0 1 0 -4.6 0M842.8 67.0a2.3 2.3 0 1 0 4.6 0a2.3 2.3 0 1 0 -4.6 0" fill="#000"/>
</g>
<rect x="844.85" y="11.35" width="211.3" height="203.3" fill="none" stroke="#231f20" stroke-width="2.8"/>
<clipPath id="cb2"><rect x="844.85" y="234.85" width="211.3" height="203.3"/></clipPath>
<g clip-path="url(#cb2)">
<rect x="844.85" y="234.85" width="211.3" height="203.3" fill="#ffffff"/>
<path d="M813.55 248.11L807.05 257.06M818.9 251.2L812.65 260.29M824.22 254.27L818.23 263.51M829.53 257.34L823.79 266.72M834.84 260.4L829.34 269.92M840.14 263.46L834.89 273.13M845.45 266.53L840.45 276.34M850.77 269.6L846.02 279.56M856.12 272.69L851.62 282.79M861.5 275.79L857.25 286.04M866.91 278.92L862.92 289.31M872.37 282.07L868.63 292.61M877.88 285.25L874.4 295.94M883.45 288.47L880.24 299.31M889.1 291.73L886.15 302.73M894.82 295.03L892.14 306.19M900.63 298.39L898.23 309.7M906.55 301.8L904.42 313.27M912.57 305.28L910.73 316.91M918.71 308.83L917.16 320.63M984.79 308.83L986.34 320.63M990.93 305.28L992.77 316.91M996.95 301.8L999.08 313.27M1002.87 298.39L1005.27 309.7M1008.68 295.03L1011.36 306.19M1014.4 291.73L1017.35 302.73M1020.05 288.47L1023.26 299.31M1025.62 285.25L1029.1 295.94M1031.13 282.07L1034.87 292.61M1036.59 278.92L1040.58 289.31M1042 275.79L1046.25 286.04M1047.38 272.69L1051.88 282.79M1052.73 269.6L1057.48 279.56M1058.05 266.53L1063.05 276.34M1063.36 263.46L1068.61 273.13M1068.66 260.4L1074.16 269.92M1073.97 257.34L1079.71 266.72M1079.28 254.27L1085.27 263.51M1084.6 251.2L1090.85 260.29M1089.95 248.11L1096.45 257.06M1100.95 267.16L1096.45 257.06M1095.6 270.25L1090.85 260.29M1090.27 273.32L1085.27 263.51M1084.96 276.39L1079.71 266.72M1079.66 279.45L1074.16 269.92M1074.36 282.51L1068.61 273.13M1069.05 285.58L1063.05 276.34M1063.72 288.65L1057.48 279.56M1058.38 291.74L1051.88 282.79M1053 294.84L1046.25 286.04M1047.59 297.97L1040.58 289.31M1042.13 301.12L1034.87 292.61M1036.62 304.3L1029.1 295.94M1031.05 307.52L1023.26 299.31M1025.4 310.78L1017.35 302.73M1019.68 314.08L1011.36 306.19M1013.87 317.44L1005.27 309.7M1007.95 320.85L999.08 313.27M1001.93 324.33L992.77 316.91M995.78 327.88L986.34 320.63M962.75 385.1L951.75 380.54M962.75 392.19L951.75 387.97M962.75 399.15L951.75 395.25M962.75 405.98L951.75 402.4M962.75 412.69L951.75 409.43M962.75 419.3L951.75 416.35M962.75 425.81L951.75 423.17M962.75 432.25L951.75 429.91M962.75 438.61L951.75 436.57M962.75 444.92L951.75 443.17M962.75 451.17L951.75 449.72M962.75 457.37L951.75 456.22M962.75 463.55L951.75 462.68M962.75 469.7L951.75 469.12M962.75 475.83L951.75 475.54M962.75 481.95L951.75 481.95M962.75 488.07L951.75 488.36M962.75 494.2L951.75 494.78M962.75 500.35L951.75 501.22M962.75 506.53L951.75 507.68M940.75 506.53L951.75 507.68M940.75 500.35L951.75 501.22M940.75 494.2L951.75 494.78M940.75 488.07L951.75 488.36M940.75 481.95L951.75 481.95M940.75 475.83L951.75 475.54M940.75 469.7L951.75 469.12M940.75 463.55L951.75 462.68M940.75 457.37L951.75 456.22M940.75 451.17L951.75 449.72M940.75 444.92L951.75 443.17M940.75 438.61L951.75 436.57M940.75 432.25L951.75 429.91M940.75 425.81L951.75 423.17M940.75 419.3L951.75 416.35M940.75 412.69L951.75 409.43M940.75 405.98L951.75 402.4M940.75 399.15L951.75 395.25M940.75 392.19L951.75 387.97M940.75 385.1L951.75 380.54M907.72 327.88L917.16 320.63M901.57 324.33L910.73 316.91M895.55 320.85L904.42 313.27M889.63 317.44L898.23 309.7M883.82 314.08L892.14 306.19M878.1 310.78L886.15 302.73M872.45 307.52L880.24 299.31M866.88 304.3L874.4 295.94M861.37 301.12L868.63 292.61M855.91 297.97L862.92 289.31M850.5 294.84L857.25 286.04M845.12 291.74L851.62 282.79M839.78 288.65L846.02 279.56M834.45 285.58L840.45 276.34M829.14 282.51L834.89 273.13M823.84 279.45L829.34 269.93M818.54 276.39L823.79 266.72M813.23 273.32L818.23 263.51M807.9 270.25L812.65 260.29M802.55 267.16L807.05 257.06" fill="none" stroke="#b4dcb7" stroke-width="2.4" stroke-linecap="round"/>
<path d="M951.75 57.9L813.55 248.11M951.75 57.9L818.9 251.2M951.75 57.9L824.22 254.27M951.75 57.9L829.53 257.34M951.75 57.9L834.84 260.4M951.75 57.9L840.14 263.46M951.75 57.9L845.45 266.53M951.75 57.9L850.77 269.6M951.75 57.9L856.12 272.69M951.75 57.9L861.5 275.79M951.75 57.9L866.91 278.92M951.75 57.9L872.37 282.07M951.75 57.9L877.88 285.25M951.75 57.9L883.45 288.47M951.75 57.9L889.1 291.73M951.75 57.9L894.82 295.03M951.75 57.9L900.63 298.39M951.75 57.9L906.55 301.8M951.75 57.9L912.57 305.28M951.75 57.9L918.71 308.83M951.75 57.9L926.38 299.3M951.75 57.9L932.92 297.2M951.75 57.9L939.31 295.2M951.75 57.9L945.55 294.6M951.75 57.9L951.75 296.3M951.75 57.9L957.95 294.6M951.75 57.9L964.19 295.2M951.75 57.9L970.58 297.2M951.75 57.9L977.12 299.3M951.75 57.9L984.79 308.83M951.75 57.9L990.93 305.28M951.75 57.9L996.95 301.8M951.75 57.9L1002.87 298.39M951.75 57.9L1008.68 295.03M951.75 57.9L1014.4 291.73M951.75 57.9L1020.05 288.47M951.75 57.9L1025.62 285.25M951.75 57.9L1031.13 282.07M951.75 57.9L1036.59 278.92M951.75 57.9L1042 275.79M951.75 57.9L1047.38 272.69M951.75 57.9L1052.73 269.6M951.75 57.9L1058.05 266.53M951.75 57.9L1063.36 263.46M951.75 57.9L1068.66 260.4M951.75 57.9L1073.97 257.34M951.75 57.9L1079.28 254.27M951.75 57.9L1084.6 251.2M951.75 57.9L1089.95 248.11M1196.58 481.95L1100.95 267.16M1196.58 481.95L1095.6 270.25M1196.58 481.95L1090.27 273.32M1196.58 481.95L1084.96 276.39M1196.58 481.95L1079.66 279.45M1196.58 481.95L1074.36 282.51M1196.58 481.95L1069.05 285.58M1196.58 481.95L1063.72 288.65M1196.58 481.95L1058.38 291.74M1196.58 481.95L1053 294.84M1196.58 481.95L1047.59 297.97M1196.58 481.95L1042.13 301.12M1196.58 481.95L1036.62 304.3M1196.58 481.95L1031.05 307.52M1196.58 481.95L1025.4 310.78M1196.58 481.95L1019.68 314.08M1196.58 481.95L1013.87 317.44M1196.58 481.95L1007.95 320.85M1196.58 481.95L1001.93 324.33M1196.58 481.95L995.78 327.88M1196.58 481.95L1000.2 339.28M1196.58 481.95L998.75 345.99M1196.58 481.95L997.29 352.53M1196.58 481.95L994.69 358.23M1196.58 481.95L990.11 362.75M1196.58 481.95L988.49 368.97M1196.58 481.95L984.85 374.07M1196.58 481.95L979.92 378.61M1196.58 481.95L974.83 383.22M1196.58 481.95L962.75 385.1M1196.58 481.95L962.75 392.19M1196.58 481.95L962.75 399.15M1196.58 481.95L962.75 405.98M1196.58 481.95L962.75 412.69M1196.58 481.95L962.75 419.3M1196.58 481.95L962.75 425.81M1196.58 481.95L962.75 432.25M1196.58 481.95L962.75 438.61M1196.58 481.95L962.75 444.92M1196.58 481.95L962.75 451.17M1196.58 481.95L962.75 457.37M1196.58 481.95L962.75 463.55M1196.58 481.95L962.75 469.7M1196.58 481.95L962.75 475.83M1196.58 481.95L962.75 481.95M1196.58 481.95L962.75 488.07M1196.58 481.95L962.75 494.2M1196.58 481.95L962.75 500.35M1196.58 481.95L962.75 506.53M706.92 481.95L940.75 506.53M706.92 481.95L940.75 500.35M706.92 481.95L940.75 494.2M706.92 481.95L940.75 488.07M706.92 481.95L940.75 481.95M706.92 481.95L940.75 475.83M706.92 481.95L940.75 469.7M706.92 481.95L940.75 463.55M706.92 481.95L940.75 457.37M706.92 481.95L940.75 451.17M706.92 481.95L940.75 444.92M706.92 481.95L940.75 438.61M706.92 481.95L940.75 432.25M706.92 481.95L940.75 425.81M706.92 481.95L940.75 419.3M706.92 481.95L940.75 412.69M706.92 481.95L940.75 405.98M706.92 481.95L940.75 399.15M706.92 481.95L940.75 392.19M706.92 481.95L940.75 385.1M706.92 481.95L928.67 383.22M706.92 481.95L923.58 378.61M706.92 481.95L918.65 374.07M706.92 481.95L915.01 368.97M706.92 481.95L913.39 362.75M706.92 481.95L908.81 358.23M706.92 481.95L906.21 352.53M706.92 481.95L904.75 345.99M706.92 481.95L903.3 339.28M706.92 481.95L907.72 327.88M706.92 481.95L901.57 324.33M706.92 481.95L895.55 320.85M706.92 481.95L889.63 317.44M706.92 481.95L883.82 314.08M706.92 481.95L878.1 310.78M706.92 481.95L872.45 307.52M706.92 481.95L866.88 304.3M706.92 481.95L861.37 301.12M706.92 481.95L855.91 297.97M706.92 481.95L850.5 294.84M706.92 481.95L845.12 291.74M706.92 481.95L839.78 288.65M706.92 481.95L834.45 285.58M706.92 481.95L829.14 282.51M706.92 481.95L823.84 279.45M706.92 481.95L818.54 276.39M706.92 481.95L813.23 273.32M706.92 481.95L807.9 270.25M706.92 481.95L802.55 267.16" fill="none" stroke="#640404" stroke-width="2.25"/>
<path d="M813.55 248.11L818.9 251.2L824.22 254.27L829.53 257.34L834.84 260.4L840.14 263.46L845.45 266.53L850.77 269.6L856.12 272.69L861.5 275.79L866.91 278.92L872.37 282.07L877.88 285.25L883.45 288.47L889.1 291.73L894.82 295.03L900.63 298.39L906.55 301.8L912.57 305.28L918.71 308.83L926.38 299.3L932.92 297.2L939.31 295.2L945.55 294.6L951.75 296.3L957.95 294.6L964.19 295.2L970.58 297.2L977.12 299.3L984.79 308.83L990.93 305.28L996.95 301.8L1002.87 298.39L1008.68 295.03L1014.4 291.73L1020.05 288.47L1025.62 285.25L1031.13 282.07L1036.59 278.92L1042 275.79L1047.38 272.69L1052.73 269.6L1058.05 266.53L1063.36 263.46L1068.66 260.4L1073.97 257.34L1079.28 254.27L1084.6 251.2L1089.95 248.11M1100.95 267.16L1095.6 270.25L1090.27 273.32L1084.96 276.39L1079.66 279.45L1074.36 282.51L1069.05 285.58L1063.72 288.65L1058.38 291.74L1053 294.84L1047.59 297.97L1042.13 301.12L1036.62 304.3L1031.05 307.52L1025.4 310.78L1019.68 314.08L1013.87 317.44L1007.95 320.85L1001.93 324.33L995.78 327.88L1000.2 339.28L998.75 345.99L997.29 352.53L994.69 358.23L990.11 362.75L988.49 368.97L984.85 374.07L979.92 378.61L974.83 383.22L962.75 385.1L962.75 392.19L962.75 399.15L962.75 405.98L962.75 412.69L962.75 419.3L962.75 425.81L962.75 432.25L962.75 438.61L962.75 444.92L962.75 451.17L962.75 457.37L962.75 463.55L962.75 469.7L962.75 475.83L962.75 481.95L962.75 488.07L962.75 494.2L962.75 500.35L962.75 506.53M940.75 506.53L940.75 500.35L940.75 494.2L940.75 488.07L940.75 481.95L940.75 475.83L940.75 469.7L940.75 463.55L940.75 457.37L940.75 451.17L940.75 444.92L940.75 438.61L940.75 432.25L940.75 425.81L940.75 419.3L940.75 412.69L940.75 405.98L940.75 399.15L940.75 392.19L940.75 385.1L928.67 383.22L923.58 378.61L918.65 374.07L915.01 368.97L913.39 362.75L908.81 358.23L906.21 352.53L904.75 345.99L903.3 339.28L907.72 327.88L901.57 324.33L895.55 320.85L889.63 317.44L883.82 314.08L878.1 310.78L872.45 307.52L866.88 304.3L861.37 301.12L855.91 297.97L850.5 294.84L845.12 291.74L839.78 288.65L834.45 285.58L829.14 282.51L823.84 279.45L818.54 276.39L813.23 273.32L807.9 270.25L802.55 267.16" fill="none" stroke="#3a0505" stroke-width="1.3" stroke-linejoin="round"/>
<path d="M843.1 266.5a2.3 2.3 0 1 0 4.6 0a2.3 2.3 0 1 0 -4.6 0M848.5 269.6a2.3 2.3 0 1 0 4.6 0a2.3 2.3 0 1 0 -4.6 0M853.8 272.7a2.3 2.3 0 1 0 4.6 0a2.3 2.3 0 1 0 -4.6 0M859.2 275.8a2.3 2.3 0 1 0 4.6 0a2.3 2.3 0 1 0 -4.6 0M864.6 278.9a2.3 2.3 0 1 0 4.6 0a2.3 2.3 0 1 0 -4.6 0M870.1 282.1a2.3 2.3 0 1 0 4.6 0a2.3 2.3 0 1 0 -4.6 0M875.6 285.3a2.3 2.3 0 1 0 4.6 0a2.3 2.3 0 1 0 -4.6 0M881.2 288.5a2.3 2.3 0 1 0 4.6 0a2.3 2.3 0 1 0 -4.6 0M886.8 291.7a2.3 2.3 0 1 0 4.6 0a2.3 2.3 0 1 0 -4.6 0M892.5 295.0a2.3 2.3 0 1 0 4.6 0a2.3 2.3 0 1 0 -4.6 0M898.3 298.4a2.3 2.3 0 1 0 4.6 0a2.3 2.3 0 1 0 -4.6 0M904.2 301.8a2.3 2.3 0 1 0 4.6 0a2.3 2.3 0 1 0 -4.6 0M910.3 305.3a2.3 2.3 0 1 0 4.6 0a2.3 2.3 0 1 0 -4.6 0M916.4 308.8a2.3 2.3 0 1 0 4.6 0a2.3 2.3 0 1 0 -4.6 0M924.1 299.3a2.3 2.3 0 1 0 4.6 0a2.3 2.3 0 1 0 -4.6 0M930.6 297.2a2.3 2.3 0 1 0 4.6 0a2.3 2.3 0 1 0 -4.6 0M937.0 295.2a2.3 2.3 0 1 0 4.6 0a2.3 2.3 0 1 0 -4.6 0M943.3 294.6a2.3 2.3 0 1 0 4.6 0a2.3 2.3 0 1 0 -4.6 0M949.5 296.3a2.3 2.3 0 1 0 4.6 0a2.3 2.3 0 1 0 -4.6 0M955.6 294.6a2.3 2.3 0 1 0 4.6 0a2.3 2.3 0 1 0 -4.6 0M961.9 295.2a2.3 2.3 0 1 0 4.6 0a2.3 2.3 0 1 0 -4.6 0M968.3 297.2a2.3 2.3 0 1 0 4.6 0a2.3 2.3 0 1 0 -4.6 0M974.8 299.3a2.3 2.3 0 1 0 4.6 0a2.3 2.3 0 1 0 -4.6 0M982.5 308.8a2.3 2.3 0 1 0 4.6 0a2.3 2.3 0 1 0 -4.6 0M988.6 305.3a2.3 2.3 0 1 0 4.6 0a2.3 2.3 0 1 0 -4.6 0M994.7 301.8a2.3 2.3 0 1 0 4.6 0a2.3 2.3 0 1 0 -4.6 0M1000.6 298.4a2.3 2.3 0 1 0 4.6 0a2.3 2.3 0 1 0 -4.6 0M1006.4 295.0a2.3 2.3 0 1 0 4.6 0a2.3 2.3 0 1 0 -4.6 0M1012.1 291.7a2.3 2.3 0 1 0 4.6 0a2.3 2.3 0 1 0 -4.6 0M1017.7 288.5a2.3 2.3 0 1 0 4.6 0a2.3 2.3 0 1 0 -4.6 0M1023.3 285.3a2.3 2.3 0 1 0 4.6 0a2.3 2.3 0 1 0 -4.6 0M1028.8 282.1a2.3 2.3 0 1 0 4.6 0a2.3 2.3 0 1 0 -4.6 0M1034.3 278.9a2.3 2.3 0 1 0 4.6 0a2.3 2.3 0 1 0 -4.6 0M1039.7 275.8a2.3 2.3 0 1 0 4.6 0a2.3 2.3 0 1 0 -4.6 0M1045.1 272.7a2.3 2.3 0 1 0 4.6 0a2.3 2.3 0 1 0 -4.6 0M1050.4 269.6a2.3 2.3 0 1 0 4.6 0a2.3 2.3 0 1 0 -4.6 0M1055.8 266.5a2.3 2.3 0 1 0 4.6 0a2.3 2.3 0 1 0 -4.6 0M1056.1 291.7a2.3 2.3 0 1 0 4.6 0a2.3 2.3 0 1 0 -4.6 0M1050.7 294.8a2.3 2.3 0 1 0 4.6 0a2.3 2.3 0 1 0 -4.6 0M1045.3 298.0a2.3 2.3 0 1 0 4.6 0a2.3 2.3 0 1 0 -4.6 0M1039.8 301.1a2.3 2.3 0 1 0 4.6 0a2.3 2.3 0 1 0 -4.6 0M1034.3 304.3a2.3 2.3 0 1 0 4.6 0a2.3 2.3 0 1 0 -4.6 0M1028.7 307.5a2.3 2.3 0 1 0 4.6 0a2.3 2.3 0 1 0 -4.6 0M1023.1 310.8a2.3 2.3 0 1 0 4.6 0a2.3 2.3 0 1 0 -4.6 0M1017.4 314.1a2.3 2.3 0 1 0 4.6 0a2.3 2.3 0 1 0 -4.6 0M1011.6 317.4a2.3 2.3 0 1 0 4.6 0a2.3 2.3 0 1 0 -4.6 0M1005.7 320.9a2.3 2.3 0 1 0 4.6 0a2.3 2.3 0 1 0 -4.6 0M999.6 324.3a2.3 2.3 0 1 0 4.6 0a2.3 2.3 0 1 0 -4.6 0M993.5 327.9a2.3 2.3 0 1 0 4.6 0a2.3 2.3 0 1 0 -4.6 0M997.9 339.3a2.3 2.3 0 1 0 4.6 0a2.3 2.3 0 1 0 -4.6 0M996.5 346.0a2.3 2.3 0 1 0 4.6 0a2.3 2.3 0 1 0 -4.6 0M995.0 352.5a2.3 2.3 0 1 0 4.6 0a2.3 2.3 0 1 0 -4.6 0M992.4 358.2a2.3 2.3 0 1 0 4.6 0a2.3 2.3 0 1 0 -4.6 0M987.8 362.7a2.3 2.3 0 1 0 4.6 0a2.3 2.3 0 1 0 -4.6 0M986.2 369.0a2.3 2.3 0 1 0 4.6 0a2.3 2.3 0 1 0 -4.6 0M982.5 374.1a2.3 2.3 0 1 0 4.6 0a2.3 2.3 0 1 0 -4.6 0M977.6 378.6a2.3 2.3 0 1 0 4.6 0a2.3 2.3 0 1 0 -4.6 0M972.5 383.2a2.3 2.3 0 1 0 4.6 0a2.3 2.3 0 1 0 -4.6 0M960.4 385.1a2.3 2.3 0 1 0 4.6 0a2.3 2.3 0 1 0 -4.6 0M960.4 392.2a2.3 2.3 0 1 0 4.6 0a2.3 2.3 0 1 0 -4.6 0M960.4 399.1a2.3 2.3 0 1 0 4.6 0a2.3 2.3 0 1 0 -4.6 0M960.4 406.0a2.3 2.3 0 1 0 4.6 0a2.3 2.3 0 1 0 -4.6 0M960.4 412.7a2.3 2.3 0 1 0 4.6 0a2.3 2.3 0 1 0 -4.6 0M960.4 419.3a2.3 2.3 0 1 0 4.6 0a2.3 2.3 0 1 0 -4.6 0M960.4 425.8a2.3 2.3 0 1 0 4.6 0a2.3 2.3 0 1 0 -4.6 0M960.4 432.2a2.3 2.3 0 1 0 4.6 0a2.3 2.3 0 1 0 -4.6 0M960.4 438.6a2.3 2.3 0 1 0 4.6 0a2.3 2.3 0 1 0 -4.6 0M938.5 438.6a2.3 2.3 0 1 0 4.6 0a2.3 2.3 0 1 0 -4.6 0M938.5 432.2a2.3 2.3 0 1 0 4.6 0a2.3 2.3 0 1 0 -4.6 0M938.5 425.8a2.3 2.3 0 1 0 4.6 0a2.3 2.3 0 1 0 -4.6 0M938.5 419.3a2.3 2.3 0 1 0 4.6 0a2.3 2.3 0 1 0 -4.6 0M938.5 412.7a2.3 2.3 0 1 0 4.6 0a2.3 2.3 0 1 0 -4.6 0M938.5 406.0a2.3 2.3 0 1 0 4.6 0a2.3 2.3 0 1 0 -4.6 0M938.5 399.1a2.3 2.3 0 1 0 4.6 0a2.3 2.3 0 1 0 -4.6 0M938.5 392.2a2.3 2.3 0 1 0 4.6 0a2.3 2.3 0 1 0 -4.6 0M938.5 385.1a2.3 2.3 0 1 0 4.6 0a2.3 2.3 0 1 0 -4.6 0M926.4 383.2a2.3 2.3 0 1 0 4.6 0a2.3 2.3 0 1 0 -4.6 0M921.3 378.6a2.3 2.3 0 1 0 4.6 0a2.3 2.3 0 1 0 -4.6 0M916.4 374.1a2.3 2.3 0 1 0 4.6 0a2.3 2.3 0 1 0 -4.6 0M912.7 369.0a2.3 2.3 0 1 0 4.6 0a2.3 2.3 0 1 0 -4.6 0M911.1 362.8a2.3 2.3 0 1 0 4.6 0a2.3 2.3 0 1 0 -4.6 0M906.5 358.2a2.3 2.3 0 1 0 4.6 0a2.3 2.3 0 1 0 -4.6 0M903.9 352.5a2.3 2.3 0 1 0 4.6 0a2.3 2.3 0 1 0 -4.6 0M902.4 346.0a2.3 2.3 0 1 0 4.6 0a2.3 2.3 0 1 0 -4.6 0M901.0 339.3a2.3 2.3 0 1 0 4.6 0a2.3 2.3 0 1 0 -4.6 0M905.4 327.9a2.3 2.3 0 1 0 4.6 0a2.3 2.3 0 1 0 -4.6 0M899.3 324.3a2.3 2.3 0 1 0 4.6 0a2.3 2.3 0 1 0 -4.6 0M893.2 320.9a2.3 2.3 0 1 0 4.6 0a2.3 2.3 0 1 0 -4.6 0M887.3 317.4a2.3 2.3 0 1 0 4.6 0a2.3 2.3 0 1 0 -4.6 0M881.5 314.1a2.3 2.3 0 1 0 4.6 0a2.3 2.3 0 1 0 -4.6 0M875.8 310.8a2.3 2.3 0 1 0 4.6 0a2.3 2.3 0 1 0 -4.6 0M870.2 307.5a2.3 2.3 0 1 0 4.6 0a2.3 2.3 0 1 0 -4.6 0M864.6 304.3a2.3 2.3 0 1 0 4.6 0a2.3 2.3 0 1 0 -4.6 0M859.1 301.1a2.3 2.3 0 1 0 4.6 0a2.3 2.3 0 1 0 -4.6 0M853.6 298.0a2.3 2.3 0 1 0 4.6 0a2.3 2.3 0 1 0 -4.6 0M848.2 294.8a2.3 2.3 0 1 0 4.6 0a2.3 2.3 0 1 0 -4.6 0M842.8 291.7a2.3 2.3 0 1 0 4.6 0a2.3 2.3 0 1 0 -4.6 0" fill="#000"/>
</g>
<rect x="844.85" y="234.85" width="211.3" height="203.3" fill="none" stroke="#231f20" stroke-width="2.8"/>
<clipPath id="cb3"><rect x="844.85" y="459.85" width="211.3" height="203.3"/></clipPath>
<g clip-path="url(#cb3)">
<rect x="844.85" y="459.85" width="211.3" height="203.3" fill="#ffffff"/>
<path d="M813.55 471.91L807.05 480.86M818.9 475L812.65 484.09M824.22 478.07L818.23 487.31M829.53 481.14L823.79 490.52M834.84 484.2L829.34 493.73M840.14 487.26L834.89 496.93M845.45 490.33L840.45 500.14M850.77 493.4L846.02 503.36M856.12 496.49L851.62 506.59M861.5 499.59L857.25 509.84M866.91 502.72L862.92 513.11M872.37 505.87L868.63 516.41M877.88 509.05L874.4 519.74M883.45 512.27L880.24 523.11M889.1 515.53L886.15 526.53M894.82 518.83L892.14 529.99M900.63 522.19L898.23 533.5M906.55 525.6L904.42 537.07M912.57 529.08L910.73 540.71M925 536.25L923.74 548.23M978.5 536.25L979.76 548.23M990.93 529.08L992.77 540.71M996.95 525.6L999.08 537.07M1002.87 522.19L1005.27 533.5M1008.68 518.83L1011.36 529.99M1014.4 515.53L1017.35 526.53M1020.05 512.27L1023.26 523.11M1025.62 509.05L1029.1 519.74M1031.13 505.87L1034.87 516.41M1036.59 502.72L1040.58 513.11M1042 499.59L1046.25 509.84M1047.38 496.49L1051.88 506.59M1052.73 493.4L1057.48 503.36M1058.05 490.33L1063.05 500.14M1063.36 487.26L1068.61 496.93M1068.66 484.2L1074.16 493.73M1073.97 481.14L1079.71 490.52M1079.28 478.07L1085.27 487.31M1084.6 475L1090.85 484.09M1089.95 471.91L1096.45 480.86M1100.95 490.96L1096.45 480.86M1095.6 494.05L1090.85 484.09M1090.27 497.12L1085.27 487.31M1084.96 500.19L1079.71 490.52M1079.66 503.25L1074.16 493.72M1074.36 506.31L1068.61 496.93M1069.05 509.38L1063.05 500.14M1063.72 512.45L1057.48 503.36M1058.38 515.54L1051.88 506.59M1053 518.64L1046.25 509.84M1047.59 521.77L1040.58 513.11M1042.13 524.92L1034.87 516.41M1036.62 528.1L1029.1 519.74M1031.05 531.32L1023.26 523.11M1025.4 534.58L1017.35 526.53M1019.68 537.88L1011.36 529.99M1013.87 541.24L1005.27 533.5M1007.95 544.65L999.08 537.07M1001.93 548.13L992.77 540.71M989.5 555.3L979.76 548.23M962.75 601.64L951.75 596.75M962.75 615.99L951.75 611.77M962.75 622.95L951.75 619.05M962.75 629.78L951.75 626.2M962.75 636.49L951.75 633.23M962.75 643.1L951.75 640.15M962.75 649.61L951.75 646.97M962.75 656.05L951.75 653.71M962.75 662.41L951.75 660.37M962.75 668.72L951.75 666.97M962.75 674.97L951.75 673.52M962.75 681.17L951.75 680.02M962.75 687.35L951.75 686.48M962.75 693.5L951.75 692.92M962.75 699.63L951.75 699.34M962.75 705.75L951.75 705.75M962.75 711.87L951.75 712.16M962.75 718L951.75 718.58M962.75 724.15L951.75 725.02M962.75 730.33L951.75 731.48M940.75 730.33L951.75 731.48M940.75 724.15L951.75 725.02M940.75 718L951.75 718.58M940.75 711.87L951.75 712.16M940.75 705.75L951.75 705.75M940.75 699.63L951.75 699.34M940.75 693.5L951.75 692.92M940.75 687.35L951.75 686.48M940.75 681.17L951.75 680.02M940.75 674.97L951.75 673.52M940.75 668.72L951.75 666.97M940.75 662.41L951.75 660.37M940.75 656.05L951.75 653.71M940.75 649.61L951.75 646.97M940.75 643.1L951.75 640.15M940.75 636.49L951.75 633.23M940.75 629.78L951.75 626.2M940.75 622.95L951.75 619.05M940.75 615.99L951.75 611.77M940.75 601.64L951.75 596.75M914 555.3L923.74 548.23M901.57 548.13L910.73 540.71M895.55 544.65L904.42 537.07M889.63 541.24L898.23 533.5M883.82 537.88L892.14 529.99M878.1 534.58L886.15 526.53M872.45 531.32L880.24 523.11M866.88 528.1L874.4 519.74M861.37 524.92L868.63 516.41M855.91 521.77L862.92 513.11M850.5 518.64L857.25 509.84M845.12 515.54L851.62 506.59M839.78 512.45L846.02 503.36M834.45 509.38L840.45 500.14M829.14 506.31L834.89 496.93M823.84 503.25L829.34 493.73M818.54 500.19L823.79 490.52M813.23 497.12L818.23 487.31M807.9 494.05L812.65 484.09M802.55 490.96L807.05 480.86" fill="none" stroke="#b4dcb7" stroke-width="2.4" stroke-linecap="round"/>
<path d="M918.71 532.63L917.16 544.43M984.79 532.63L986.34 544.43M995.78 551.68L986.34 544.43M962.75 608.9L951.75 604.34M940.75 608.9L951.75 604.34M907.72 551.68L917.16 544.43" fill="none" stroke="#4ea853" stroke-width="2.4" stroke-linecap="round"/>
<path d="M931.46 539.47L930.47 552.11M972.04 539.47L973.03 552.11M983.49 559.3L973.03 552.11M963.2 594.44L951.75 588.97M940.3 594.44L951.75 588.97M920.01 559.3L930.47 552.11" fill="none" stroke="#c4e3c6" stroke-width="2.4" stroke-linecap="round"/>
<path d="M951.75 281.7L813.55 471.91M951.75 281.7L818.9 475M951.75 281.7L824.22 478.07M951.75 281.7L829.53 481.14M951.75 281.7L834.84 484.2M951.75 281.7L840.14 487.26M951.75 281.7L845.45 490.33M951.75 281.7L850.77 493.4M951.75 281.7L856.12 496.49M951.75 281.7L861.5 499.59M951.75 281.7L866.91 502.72M951.75 281.7L872.37 505.87M951.75 281.7L877.88 509.05M951.75 281.7L883.45 512.27M951.75 281.7L889.1 515.53M951.75 281.7L894.82 518.83M951.75 281.7L900.63 522.19M951.75 281.7L906.55 525.6M951.75 281.7L912.57 529.08M951.75 281.7L918.71 532.63M951.75 281.7L925 536.25M951.75 281.7L931.46 539.47M951.75 281.7L938.09 542.37M951.75 281.7L944.85 545.08M951.75 281.7L951.75 547.8M951.75 281.7L958.65 545.08M951.75 281.7L965.41 542.37M951.75 281.7L972.04 539.47M951.75 281.7L978.5 536.25M951.75 281.7L984.79 532.63M951.75 281.7L990.93 529.08M951.75 281.7L996.95 525.6M951.75 281.7L1002.87 522.19M951.75 281.7L1008.68 518.83M951.75 281.7L1014.4 515.53M951.75 281.7L1020.05 512.27M951.75 281.7L1025.62 509.05M951.75 281.7L1031.13 505.87M951.75 281.7L1036.59 502.72M951.75 281.7L1042 499.59M951.75 281.7L1047.38 496.49M951.75 281.7L1052.73 493.4M951.75 281.7L1058.05 490.33M951.75 281.7L1063.36 487.26M951.75 281.7L1068.66 484.2M951.75 281.7L1073.97 481.14M951.75 281.7L1079.28 478.07M951.75 281.7L1084.6 475M951.75 281.7L1089.95 471.91M1196.58 705.75L1100.95 490.96M1196.58 705.75L1095.6 494.05M1196.58 705.75L1090.27 497.12M1196.58 705.75L1084.96 500.19M1196.58 705.75L1079.66 503.25M1196.58 705.75L1074.36 506.31M1196.58 705.75L1069.05 509.38M1196.58 705.75L1063.72 512.45M1196.58 705.75L1058.38 515.54M1196.58 705.75L1053 518.64M1196.58 705.75L1047.59 521.77M1196.58 705.75L1042.13 524.92M1196.58 705.75L1036.62 528.1M1196.58 705.75L1031.05 531.32M1196.58 705.75L1025.4 534.58M1196.58 705.75L1019.68 537.88M1196.58 705.75L1013.87 541.24M1196.58 705.75L1007.95 544.65M1196.58 705.75L1001.93 548.13M1196.58 705.75L995.78 551.68M1196.58 705.75L989.5 555.3M1196.58 705.75L983.49 559.3M1196.58 705.75L977.66 563.58M1196.58 705.75L971.93 568.09M1196.58 705.75L966.13 572.7M1196.58 705.75L965.03 580.03M1196.58 705.75L964 587.24M1196.58 705.75L963.2 594.44M1196.58 705.75L962.75 601.64M1196.58 705.75L962.75 608.9M1196.58 705.75L962.75 615.99M1196.58 705.75L962.75 622.95M1196.58 705.75L962.75 629.78M1196.58 705.75L962.75 636.49M1196.58 705.75L962.75 643.1M1196.58 705.75L962.75 649.61M1196.58 705.75L962.75 656.05M1196.58 705.75L962.75 662.41M1196.58 705.75L962.75 668.72M1196.58 705.75L962.75 674.97M1196.58 705.75L962.75 681.17M1196.58 705.75L962.75 687.35M1196.58 705.75L962.75 693.5M1196.58 705.75L962.75 699.63M1196.58 705.75L962.75 705.75M1196.58 705.75L962.75 711.87M1196.58 705.75L962.75 718M1196.58 705.75L962.75 724.15M1196.58 705.75L962.75 730.33M706.92 705.75L940.75 730.33M706.92 705.75L940.75 724.15M706.92 705.75L940.75 718M706.92 705.75L940.75 711.87M706.92 705.75L940.75 705.75M706.92 705.75L940.75 699.63M706.92 705.75L940.75 693.5M706.92 705.75L940.75 687.35M706.92 705.75L940.75 681.17M706.92 705.75L940.75 674.97M706.92 705.75L940.75 668.72M706.92 705.75L940.75 662.41M706.92 705.75L940.75 656.05M706.92 705.75L940.75 649.61M706.92 705.75L940.75 643.1M706.92 705.75L940.75 636.49M706.92 705.75L940.75 629.78M706.92 705.75L940.75 622.95M706.92 705.75L940.75 615.99M706.92 705.75L940.75 608.9M706.92 705.75L940.75 601.64M706.92 705.75L940.3 594.44M706.92 705.75L939.5 587.24M706.92 705.75L938.47 580.03M706.92 705.75L937.37 572.7M706.92 705.75L931.57 568.09M706.92 705.75L925.84 563.58M706.92 705.75L920.01 559.3M706.92 705.75L914 555.3M706.92 705.75L907.72 551.68M706.92 705.75L901.57 548.13M706.92 705.75L895.55 544.65M706.92 705.75L889.63 541.24M706.92 705.75L883.82 537.88M706.92 705.75L878.1 534.58M706.92 705.75L872.45 531.32M706.92 705.75L866.88 528.1M706.92 705.75L861.37 524.92M706.92 705.75L855.91 521.77M706.92 705.75L850.5 518.64M706.92 705.75L845.12 515.54M706.92 705.75L839.78 512.45M706.92 705.75L834.45 509.38M706.92 705.75L829.14 506.31M706.92 705.75L823.84 503.25M706.92 705.75L818.54 500.19M706.92 705.75L813.23 497.12M706.92 705.75L807.9 494.05M706.92 705.75L802.55 490.96" fill="none" stroke="#640404" stroke-width="2.25"/>
<path d="M813.55 471.91L818.9 475L824.22 478.07L829.53 481.14L834.84 484.2L840.14 487.26L845.45 490.33L850.77 493.4L856.12 496.49L861.5 499.59L866.91 502.72L872.37 505.87L877.88 509.05L883.45 512.27L889.1 515.53L894.82 518.83L900.63 522.19L906.55 525.6L912.57 529.08L918.71 532.63L925 536.25L931.46 539.47L938.09 542.37L944.85 545.08L951.75 547.8L958.65 545.08L965.41 542.37L972.04 539.47L978.5 536.25L984.79 532.63L990.93 529.08L996.95 525.6L1002.87 522.19L1008.68 518.83L1014.4 515.53L1020.05 512.27L1025.62 509.05L1031.13 505.87L1036.59 502.72L1042 499.59L1047.38 496.49L1052.73 493.4L1058.05 490.33L1063.36 487.26L1068.66 484.2L1073.97 481.14L1079.28 478.07L1084.6 475L1089.95 471.91M1100.95 490.96L1095.6 494.05L1090.27 497.12L1084.96 500.19L1079.66 503.25L1074.36 506.31L1069.05 509.38L1063.72 512.45L1058.38 515.54L1053 518.64L1047.59 521.77L1042.13 524.92L1036.62 528.1L1031.05 531.32L1025.4 534.58L1019.68 537.88L1013.87 541.24L1007.95 544.65L1001.93 548.13L995.78 551.68L989.5 555.3L983.49 559.3L977.66 563.58L971.93 568.09L966.13 572.7L965.03 580.03L964 587.24L963.2 594.44L962.75 601.64L962.75 608.9L962.75 615.99L962.75 622.95L962.75 629.78L962.75 636.49L962.75 643.1L962.75 649.61L962.75 656.05L962.75 662.41L962.75 668.72L962.75 674.97L962.75 681.17L962.75 687.35L962.75 693.5L962.75 699.63L962.75 705.75L962.75 711.87L962.75 718L962.75 724.15L962.75 730.33M940.75 730.33L940.75 724.15L940.75 718L940.75 711.87L940.75 705.75L940.75 699.63L940.75 693.5L940.75 687.35L940.75 681.17L940.75 674.97L940.75 668.72L940.75 662.41L940.75 656.05L940.75 649.61L940.75 643.1L940.75 636.49L940.75 629.78L940.75 622.95L940.75 615.99L940.75 608.9L940.75 601.64L940.3 594.44L939.5 587.24L938.47 580.03L937.37 572.7L931.57 568.09L925.84 563.58L920.01 559.3L914 555.3L907.72 551.68L901.57 548.13L895.55 544.65L889.63 541.24L883.82 537.88L878.1 534.58L872.45 531.32L866.88 528.1L861.37 524.92L855.91 521.77L850.5 518.64L845.12 515.54L839.78 512.45L834.45 509.38L829.14 506.31L823.84 503.25L818.54 500.19L813.23 497.12L807.9 494.05L802.55 490.96" fill="none" stroke="#3a0505" stroke-width="1.3" stroke-linejoin="round"/>
<path d="M843.1 490.3a2.3 2.3 0 1 0 4.6 0a2.3 2.3 0 1 0 -4.6 0M848.5 493.4a2.3 2.3 0 1 0 4.6 0a2.3 2.3 0 1 0 -4.6 0M853.8 496.5a2.3 2.3 0 1 0 4.6 0a2.3 2.3 0 1 0 -4.6 0M859.2 499.6a2.3 2.3 0 1 0 4.6 0a2.3 2.3 0 1 0 -4.6 0M864.6 502.7a2.3 2.3 0 1 0 4.6 0a2.3 2.3 0 1 0 -4.6 0M870.1 505.9a2.3 2.3 0 1 0 4.6 0a2.3 2.3 0 1 0 -4.6 0M875.6 509.1a2.3 2.3 0 1 0 4.6 0a2.3 2.3 0 1 0 -4.6 0M881.2 512.3a2.3 2.3 0 1 0 4.6 0a2.3 2.3 0 1 0 -4.6 0M886.8 515.5a2.3 2.3 0 1 0 4.6 0a2.3 2.3 0 1 0 -4.6 0M892.5 518.8a2.3 2.3 0 1 0 4.6 0a2.3 2.3 0 1 0 -4.6 0M898.3 522.2a2.3 2.3 0 1 0 4.6 0a2.3 2.3 0 1 0 -4.6 0M904.2 525.6a2.3 2.3 0 1 0 4.6 0a2.3 2.3 0 1 0 -4.6 0M910.3 529.1a2.3 2.3 0 1 0 4.6 0a2.3 2.3 0 1 0 -4.6 0M916.4 532.6a2.3 2.3 0 1 0 4.6 0a2.3 2.3 0 1 0 -4.6 0M922.7 536.3a2.3 2.3 0 1 0 4.6 0a2.3 2.3 0 1 0 -4.6 0M929.2 539.5a2.3 2.3 0 1 0 4.6 0a2.3 2.3 0 1 0 -4.6 0M935.8 542.4a2.3 2.3 0 1 0 4.6 0a2.3 2.3 0 1 0 -4.6 0M942.6 545.1a2.3 2.3 0 1 0 4.6 0a2.3 2.3 0 1 0 -4.6 0M949.5 547.8a2.3 2.3 0 1 0 4.6 0a2.3 2.3 0 1 0 -4.6 0M956.3 545.1a2.3 2.3 0 1 0 4.6 0a2.3 2.3 0 1 0 -4.6 0M963.1 542.4a2.3 2.3 0 1 0 4.6 0a2.3 2.3 0 1 0 -4.6 0M969.7 539.5a2.3 2.3 0 1 0 4.6 0a2.3 2.3 0 1 0 -4.6 0M976.2 536.3a2.3 2.3 0 1 0 4.6 0a2.3 2.3 0 1 0 -4.6 0M982.5 532.6a2.3 2.3 0 1 0 4.6 0a2.3 2.3 0 1 0 -4.6 0M988.6 529.1a2.3 2.3 0 1 0 4.6 0a2.3 2.3 0 1 0 -4.6 0M994.7 525.6a2.3 2.3 0 1 0 4.6 0a2.3 2.3 0 1 0 -4.6 0M1000.6 522.2a2.3 2.3 0 1 0 4.6 0a2.3 2.3 0 1 0 -4.6 0M1006.4 518.8a2.3 2.3 0 1 0 4.6 0a2.3 2.3 0 1 0 -4.6 0M1012.1 515.5a2.3 2.3 0 1 0 4.6 0a2.3 2.3 0 1 0 -4.6 0M1017.7 512.3a2.3 2.3 0 1 0 4.6 0a2.3 2.3 0 1 0 -4.6 0M1023.3 509.1a2.3 2.3 0 1 0 4.6 0a2.3 2.3 0 1 0 -4.6 0M1028.8 505.9a2.3 2.3 0 1 0 4.6 0a2.3 2.3 0 1 0 -4.6 0M1034.3 502.7a2.3 2.3 0 1 0 4.6 0a2.3 2.3 0 1 0 -4.6 0M1039.7 499.6a2.3 2.3 0 1 0 4.6 0a2.3 2.3 0 1 0 -4.6 0M1045.1 496.5a2.3 2.3 0 1 0 4.6 0a2.3 2.3 0 1 0 -4.6 0M1050.4 493.4a2.3 2.3 0 1 0 4.6 0a2.3 2.3 0 1 0 -4.6 0M1055.8 490.3a2.3 2.3 0 1 0 4.6 0a2.3 2.3 0 1 0 -4.6 0M1056.1 515.5a2.3 2.3 0 1 0 4.6 0a2.3 2.3 0 1 0 -4.6 0M1050.7 518.6a2.3 2.3 0 1 0 4.6 0a2.3 2.3 0 1 0 -4.6 0M1045.3 521.8a2.3 2.3 0 1 0 4.6 0a2.3 2.3 0 1 0 -4.6 0M1039.8 524.9a2.3 2.3 0 1 0 4.6 0a2.3 2.3 0 1 0 -4.6 0M1034.3 528.1a2.3 2.3 0 1 0 4.6 0a2.3 2.3 0 1 0 -4.6 0M1028.7 531.3a2.3 2.3 0 1 0 4.6 0a2.3 2.3 0 1 0 -4.6 0M1023.1 534.6a2.3 2.3 0 1 0 4.6 0a2.3 2.3 0 1 0 -4.6 0M1017.4 537.9a2.3 2.3 0 1 0 4.6 0a2.3 2.3 0 1 0 -4.6 0M1011.6 541.2a2.3 2.3 0 1 0 4.6 0a2.3 2.3 0 1 0 -4.6 0M1005.7 544.7a2.3 2.3 0 1 0 4.6 0a2.3 2.3 0 1 0 -4.6 0M999.6 548.1a2.3 2.3 0 1 0 4.6 0a2.3 2.3 0 1 0 -4.6 0M993.5 551.7a2.3 2.3 0 1 0 4.6 0a2.3 2.3 0 1 0 -4.6 0M987.2 555.3a2.3 2.3 0 1 0 4.6 0a2.3 2.3 0 1 0 -4.6 0M981.2 559.3a2.3 2.3 0 1 0 4.6 0a2.3 2.3 0 1 0 -4.6 0M975.4 563.6a2.3 2.3 0 1 0 4.6 0a2.3 2.3 0 1 0 -4.6 0M969.6 568.1a2.3 2.3 0 1 0 4.6 0a2.3 2.3 0 1 0 -4.6 0M963.8 572.7a2.3 2.3 0 1 0 4.6 0a2.3 2.3 0 1 0 -4.6 0M962.7 580.0a2.3 2.3 0 1 0 4.6 0a2.3 2.3 0 1 0 -4.6 0M961.7 587.2a2.3 2.3 0 1 0 4.6 0a2.3 2.3 0 1 0 -4.6 0M960.9 594.4a2.3 2.3 0 1 0 4.6 0a2.3 2.3 0 1 0 -4.6 0M960.4 601.6a2.3 2.3 0 1 0 4.6 0a2.3 2.3 0 1 0 -4.6 0M960.4 608.9a2.3 2.3 0 1 0 4.6 0a2.3 2.3 0 1 0 -4.6 0M960.4 616.0a2.3 2.3 0 1 0 4.6 0a2.3 2.3 0 1 0 -4.6 0M960.4 622.9a2.3 2.3 0 1 0 4.6 0a2.3 2.3 0 1 0 -4.6 0M960.4 629.8a2.3 2.3 0 1 0 4.6 0a2.3 2.3 0 1 0 -4.6 0M960.4 636.5a2.3 2.3 0 1 0 4.6 0a2.3 2.3 0 1 0 -4.6 0M960.4 643.1a2.3 2.3 0 1 0 4.6 0a2.3 2.3 0 1 0 -4.6 0M960.4 649.6a2.3 2.3 0 1 0 4.6 0a2.3 2.3 0 1 0 -4.6 0M960.4 656.0a2.3 2.3 0 1 0 4.6 0a2.3 2.3 0 1 0 -4.6 0M960.4 662.4a2.3 2.3 0 1 0 4.6 0a2.3 2.3 0 1 0 -4.6 0M938.5 662.4a2.3 2.3 0 1 0 4.6 0a2.3 2.3 0 1 0 -4.6 0M938.5 656.0a2.3 2.3 0 1 0 4.6 0a2.3 2.3 0 1 0 -4.6 0M938.5 649.6a2.3 2.3 0 1 0 4.6 0a2.3 2.3 0 1 0 -4.6 0M938.5 643.1a2.3 2.3 0 1 0 4.6 0a2.3 2.3 0 1 0 -4.6 0M938.5 636.5a2.3 2.3 0 1 0 4.6 0a2.3 2.3 0 1 0 -4.6 0M938.5 629.8a2.3 2.3 0 1 0 4.6 0a2.3 2.3 0 1 0 -4.6 0M938.5 622.9a2.3 2.3 0 1 0 4.6 0a2.3 2.3 0 1 0 -4.6 0M938.5 616.0a2.3 2.3 0 1 0 4.6 0a2.3 2.3 0 1 0 -4.6 0M938.5 608.9a2.3 2.3 0 1 0 4.6 0a2.3 2.3 0 1 0 -4.6 0M938.5 601.6a2.3 2.3 0 1 0 4.6 0a2.3 2.3 0 1 0 -4.6 0M938.0 594.4a2.3 2.3 0 1 0 4.6 0a2.3 2.3 0 1 0 -4.6 0M937.2 587.2a2.3 2.3 0 1 0 4.6 0a2.3 2.3 0 1 0 -4.6 0M936.2 580.0a2.3 2.3 0 1 0 4.6 0a2.3 2.3 0 1 0 -4.6 0M935.1 572.7a2.3 2.3 0 1 0 4.6 0a2.3 2.3 0 1 0 -4.6 0M929.3 568.1a2.3 2.3 0 1 0 4.6 0a2.3 2.3 0 1 0 -4.6 0M923.5 563.6a2.3 2.3 0 1 0 4.6 0a2.3 2.3 0 1 0 -4.6 0M917.7 559.3a2.3 2.3 0 1 0 4.6 0a2.3 2.3 0 1 0 -4.6 0M911.7 555.3a2.3 2.3 0 1 0 4.6 0a2.3 2.3 0 1 0 -4.6 0M905.4 551.7a2.3 2.3 0 1 0 4.6 0a2.3 2.3 0 1 0 -4.6 0M899.3 548.1a2.3 2.3 0 1 0 4.6 0a2.3 2.3 0 1 0 -4.6 0M893.2 544.7a2.3 2.3 0 1 0 4.6 0a2.3 2.3 0 1 0 -4.6 0M887.3 541.2a2.3 2.3 0 1 0 4.6 0a2.3 2.3 0 1 0 -4.6 0M881.5 537.9a2.3 2.3 0 1 0 4.6 0a2.3 2.3 0 1 0 -4.6 0M875.8 534.6a2.3 2.3 0 1 0 4.6 0a2.3 2.3 0 1 0 -4.6 0M870.2 531.3a2.3 2.3 0 1 0 4.6 0a2.3 2.3 0 1 0 -4.6 0M864.6 528.1a2.3 2.3 0 1 0 4.6 0a2.3 2.3 0 1 0 -4.6 0M859.1 524.9a2.3 2.3 0 1 0 4.6 0a2.3 2.3 0 1 0 -4.6 0M853.6 521.8a2.3 2.3 0 1 0 4.6 0a2.3 2.3 0 1 0 -4.6 0M848.2 518.6a2.3 2.3 0 1 0 4.6 0a2.3 2.3 0 1 0 -4.6 0M842.8 515.5a2.3 2.3 0 1 0 4.6 0a2.3 2.3 0 1 0 -4.6 0" fill="#000"/>
</g>
<rect x="844.85" y="459.85" width="211.3" height="203.3" fill="none" stroke="#231f20" stroke-width="2.8"/>
<text x="816.5" y="350.5" font-size="37.6" font-weight="normal" fill="#231f20" text-anchor="middle" stroke="#231f20" stroke-width="1.8" transform="rotate(-90 816.5 350.5)">simulated junction dynamics</text>
<defs><linearGradient id="cbar" x1="0" y1="0" x2="0" y2="1"><stop offset="0" stop-color="#1b6b20"/><stop offset="0.25" stop-color="#4f8a52"/><stop offset="0.5" stop-color="#8fb090"/><stop offset="0.75" stop-color="#cfdcd2"/><stop offset="1" stop-color="#f4f8fa"/></linearGradient></defs>
<rect x="1084.6" y="211.8" width="21.2" height="254.2" fill="url(#cbar)" stroke="#000" stroke-width="1.8"/>
<text x="1095.5" y="200.2" font-size="25.5" font-weight="bold" fill="#000" text-anchor="middle" stroke="#000" stroke-width="0.3">30</text>
<text x="1094" y="498.2" font-size="25.5" font-weight="bold" fill="#000" text-anchor="middle" stroke="#000" stroke-width="0.3">5</text>
<text x="1130.5" y="361" font-size="24.1" font-weight="bold" fill="#231f20" text-anchor="middle" stroke="#231f20" stroke-width="0.3" transform="rotate(90 1130.5 361)">bound cadherin density c<tspan font-size="15" dy="5.5">b</tspan><tspan dy="-5.5"> (µm</tspan><tspan font-size="15" dy="-9">-2</tspan><tspan dy="9">)</tspan></text>
<line x1="397.8" y1="682.7" x2="671.1" y2="682.7" stroke="#808080" stroke-width="1.9"/>
<line x1="397.8" y1="672.3" x2="397.8" y2="691.4" stroke="#808080" stroke-width="1.9"/>
<line x1="585.3" y1="672.3" x2="585.3" y2="691.4" stroke="#808080" stroke-width="1.9"/>
<line x1="671.1" y1="672.3" x2="671.1" y2="691.4" stroke="#808080" stroke-width="1.9"/>
<line x1="565.6" y1="583.2" x2="668.9" y2="534.1" stroke="#58595b" stroke-width="1.7" stroke-dasharray="6.5 5"/>
<line x1="577" y1="610" x2="669.4" y2="581.4" stroke="#58595b" stroke-width="1.7" stroke-dasharray="6.5 5"/>
<line x1="584.8" y1="637.4" x2="669.6" y2="625.5" stroke="#58595b" stroke-width="1.7" stroke-dasharray="6.5 5"/>
<line x1="549.4" y1="560.3" x2="668.9" y2="478.1" stroke="#0b6b3a" stroke-width="2.8" stroke-dasharray="11 5.5 2.8 5.5"/>
<line x1="668.9" y1="478.1" x2="669.4" y2="664" stroke="#0b6b3a" stroke-width="2.8" stroke-dasharray="11 5.5 2.8 5.5"/>
<line x1="586" y1="664" x2="669.4" y2="664" stroke="#0b6b3a" stroke-width="2.8" stroke-dasharray="11 5.5 2.8 5.5"/>
<line x1="399.8" y1="663.5" x2="549.4" y2="560.3" stroke="#8a1f2d" stroke-width="2.5"/>
<line x1="399.8" y1="663.5" x2="565.6" y2="583.2" stroke="#8a1f2d" stroke-width="2.5"/>
<line x1="399.8" y1="663.5" x2="577" y2="610" stroke="#8a1f2d" stroke-width="2.5"/>
<line x1="399.8" y1="663.5" x2="584.8" y2="637.4" stroke="#8a1f2d" stroke-width="2.5"/>
<line x1="399.8" y1="663.5" x2="586" y2="664" stroke="#8a1f2d" stroke-width="2.5"/>
<path d="M447.3 663.5A47.5 47.5 0 0 0 438.9 636.53" fill="none" stroke="#6d6e70" stroke-width="2.5"/>
<path d="M481.13 638.79A85 85 0 0 0 476.26 626.37" fill="none" stroke="#6d6e70" stroke-width="2.5"/>
<polyline points="549.4,560.3 565.6,583.2 577,610 584.8,637.4 586,664" fill="none" stroke="#3c3c3c" stroke-width="2.0"/>
<circle cx="549.4" cy="560.3" r="4.3" fill="#333333"/>
<circle cx="565.6" cy="583.2" r="4.3" fill="#333333"/>
<circle cx="577" cy="610" r="4.3" fill="#333333"/>
<circle cx="584.8" cy="637.4" r="4.3" fill="#333333"/>
<circle cx="586" cy="664" r="4.3" fill="#333333"/>
<circle cx="668.9" cy="478.1" r="4.3" fill="#6a6a6a"/>
<circle cx="668.9" cy="534.1" r="4.3" fill="#6a6a6a"/>
<circle cx="669.4" cy="581.4" r="4.3" fill="#6a6a6a"/>
<circle cx="669.6" cy="625.5" r="4.3" fill="#6a6a6a"/>
<circle cx="669.4" cy="664" r="4.3" fill="#6a6a6a"/>
<circle cx="399.8" cy="663.5" r="4.4" fill="#6a6a6a"/>
<line x1="509.3" y1="545.8" x2="540.9" y2="587.6" stroke="#000" stroke-width="1.5"/>
<line x1="454.1" y1="584.6" x2="474.5" y2="634.2" stroke="#000" stroke-width="1.5"/>
<line x1="420.5" y1="624.2" x2="441.4" y2="647.9" stroke="#000" stroke-width="1.5"/>
<line x1="596.2" y1="593.9" x2="588.5" y2="629.2" stroke="#000" stroke-width="1.5"/>
<line x1="589.7" y1="651.6" x2="612.1" y2="653.1" stroke="#000" stroke-width="1.5"/>
<text x="367.5" y="576.2" font-size="22.6" font-weight="bold" fill="#000000" text-anchor="start" stroke="#000000" stroke-width="0.3">ω=30°/(m-1)</text>
<text x="401.3" y="617.2" font-size="22.2" font-weight="bold" fill="#000000" text-anchor="start" stroke="#000000" stroke-width="0.3">30°</text>
<text x="479" y="529.6" font-size="21.8" font-weight="bold" fill="#000000" text-anchor="start" stroke="#000000" stroke-width="0.3">E<tspan font-size="13" dy="8">cyto</tspan></text>
<text x="597.2" y="581.2" font-size="21.8" font-weight="bold" fill="#000000" text-anchor="start" stroke="#000000" stroke-width="0.3">n<tspan font-size="12.6" dy="7.2">mem</tspan></text>
<text x="617" y="654.1" font-size="21.8" font-weight="bold" fill="#000000" text-anchor="start" stroke="#000000" stroke-width="0.3">E<tspan font-size="12.6" dy="7.9">mem</tspan></text>
<text x="474.2" y="706.3" font-size="21.8" font-weight="bold" fill="#000000" text-anchor="start" stroke="#000000" stroke-width="0.3">R<tspan font-size="13" dy="7.5">0</tspan></text>
<text x="615.6" y="706.3" font-size="21.8" font-weight="bold" fill="#000000" text-anchor="start" stroke="#000000" stroke-width="0.3">L<tspan font-size="13" dy="5.5">g</tspan></text>
<text x="543.3" y="554.6" font-size="16.5" font-weight="bold" fill="#0b6b3a" text-anchor="start" stroke="#0b6b3a" stroke-width="0.3" transform="rotate(-34.5 543.3 554.6)">axes of symmetry</text>
<text x="684.8" y="561.2" font-size="18.2" font-weight="bold" fill="#6d6e70" text-anchor="middle" stroke="#6d6e70" stroke-width="0.2" transform="rotate(90 684.8 561.2)">fixed nodes</text>
<text x="-3" y="41.9" font-size="46.9" font-weight="normal" fill="#000" text-anchor="start" stroke="#000" stroke-width="0.5">a</text>
<text x="778.1" y="43.9" font-size="46.9" font-weight="normal" fill="#000" text-anchor="start" stroke="#000" stroke-width="0.5">b</text>
<text x="1175.1" y="35.1" font-size="46.9" font-weight="normal" fill="#000" text-anchor="start" stroke="#000" stroke-width="0.5">c</text>
<text x="1527.2" y="33.9" font-size="46.9" font-weight="normal" fill="#000" text-anchor="start" stroke="#000" stroke-width="0.5">d</text>
<text x="1183.4" y="411" font-size="46.9" font-weight="normal" fill="#000" text-anchor="start" stroke="#000" stroke-width="0.5">e</text>
<text x="13.5" y="768.2" font-size="46.9" font-weight="normal" fill="#000" text-anchor="start" stroke="#000" stroke-width="0.5">f</text>
<text x="1589.1" y="756.7" font-size="46.9" font-weight="normal" fill="#000" text-anchor="start" stroke="#000" stroke-width="0.5">g</text>
<text x="70.4" y="115.5" font-size="32.2" font-weight="bold" fill="#0d9b4e" text-anchor="middle" stroke="#0d9b4e" stroke-width="0.3" transform="rotate(-90 70.4 115.5)">connected</text>
<text x="67.6" y="340" font-size="32" font-weight="bold" fill="#be1e2d" text-anchor="middle" stroke="#be1e2d" stroke-width="0.3" transform="rotate(-90 67.6 340)">gap form</text>
<text x="67.4" y="566.5" font-size="32" font-weight="bold" fill="#1c75bc" text-anchor="middle" stroke="#1c75bc" stroke-width="0.3" transform="rotate(-90 67.4 566.5)">healing</text>
</svg>
</body></html>
